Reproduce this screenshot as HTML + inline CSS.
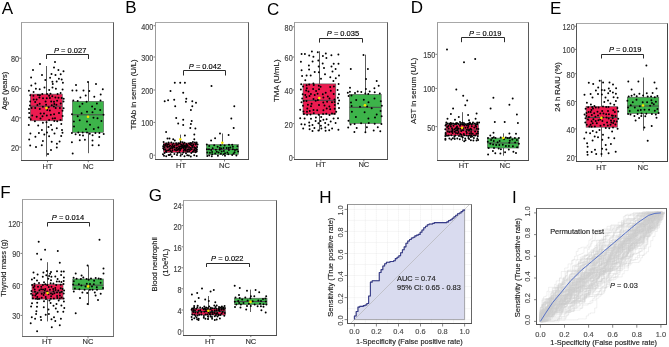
<!DOCTYPE html>
<html><head><meta charset="utf-8"><style>html,body{margin:0;padding:0;background:#fff;width:669px;height:347px;overflow:hidden}svg{display:block;will-change:transform}</style></head>
<body><svg width="669" height="347" viewBox="0 0 669 347" font-family='"Liberation Sans", sans-serif'>
<rect width="669" height="347" fill="#fff"/>
<text x="1.8" y="14.0" font-size="17" fill="#000">A</text>
<text x="6.6" y="91.0" font-size="7.4" text-anchor="middle" fill="#1a1a1a" stroke="#1a1a1a" stroke-width="0.15" transform="rotate(-90 6.6 91.0)">Age (years)</text>
<line x1="19.2" y1="58.2" x2="21.0" y2="58.2" stroke="#444" stroke-width="0.7"/>
<text transform="translate(19.1 62.2) scale(0.96 1.14)" font-size="7.6" text-anchor="end" fill="#454545" stroke="#454545" stroke-width="0.15">80</text>
<line x1="19.2" y1="88.4" x2="21.0" y2="88.4" stroke="#444" stroke-width="0.7"/>
<text transform="translate(19.1 92.4) scale(0.96 1.14)" font-size="7.6" text-anchor="end" fill="#454545" stroke="#454545" stroke-width="0.15">60</text>
<line x1="19.2" y1="117.8" x2="21.0" y2="117.8" stroke="#444" stroke-width="0.7"/>
<text transform="translate(19.1 121.8) scale(0.96 1.14)" font-size="7.6" text-anchor="end" fill="#454545" stroke="#454545" stroke-width="0.15">40</text>
<line x1="19.2" y1="147.1" x2="21.0" y2="147.1" stroke="#444" stroke-width="0.7"/>
<text transform="translate(19.1 151.1) scale(0.96 1.14)" font-size="7.6" text-anchor="end" fill="#454545" stroke="#454545" stroke-width="0.15">20</text>
<line x1="46.5" y1="66.0" x2="46.5" y2="156.5" stroke="#4a4a4a" stroke-width="0.9"/>
<rect x="30.3" y="94.1" width="32.0" height="26.7" fill="#ec1b50" stroke="#555" stroke-width="0.6"/>
<line x1="30.3" y1="106.2" x2="62.3" y2="106.2" stroke="#4a4a4a" stroke-width="1.0"/>
<g fill="#000"><circle cx="33.0" cy="70.0" r="0.98"/><circle cx="40.0" cy="64.0" r="0.98"/><circle cx="55.0" cy="62.0" r="0.98"/><circle cx="51.0" cy="150.0" r="0.98"/><circle cx="36.0" cy="147.0" r="0.98"/><circle cx="48.0" cy="154.0" r="0.98"/><circle cx="57.6" cy="94.1" r="0.98"/><circle cx="30.2" cy="101.5" r="0.98"/><circle cx="46.8" cy="115.4" r="0.98"/><circle cx="28.8" cy="124.9" r="0.98"/><circle cx="42.3" cy="94.0" r="0.98"/><circle cx="51.2" cy="101.4" r="0.98"/><circle cx="60.5" cy="120.0" r="0.98"/><circle cx="41.9" cy="130.1" r="0.98"/><circle cx="52.8" cy="84.1" r="0.98"/><circle cx="60.7" cy="103.4" r="0.98"/><circle cx="36.7" cy="116.8" r="0.98"/><circle cx="49.1" cy="136.3" r="0.98"/><circle cx="62.9" cy="82.8" r="0.98"/><circle cx="45.6" cy="101.4" r="0.98"/><circle cx="62.5" cy="110.7" r="0.98"/><circle cx="56.9" cy="143.7" r="0.98"/><circle cx="35.4" cy="83.5" r="0.98"/><circle cx="39.7" cy="103.7" r="0.98"/><circle cx="55.7" cy="108.1" r="0.98"/><circle cx="62.0" cy="130.0" r="0.98"/><circle cx="42.0" cy="75.1" r="0.98"/><circle cx="33.4" cy="95.7" r="0.98"/><circle cx="31.6" cy="108.1" r="0.98"/><circle cx="35.4" cy="136.8" r="0.98"/><circle cx="58.4" cy="70.0" r="0.98"/><circle cx="35.2" cy="101.9" r="0.98"/><circle cx="54.1" cy="114.2" r="0.98"/><circle cx="34.9" cy="121.3" r="0.98"/><circle cx="31.1" cy="77.6" r="0.98"/><circle cx="52.3" cy="96.3" r="0.98"/><circle cx="47.2" cy="110.1" r="0.98"/><circle cx="46.5" cy="122.2" r="0.98"/><circle cx="55.5" cy="75.1" r="0.98"/><circle cx="61.7" cy="98.1" r="0.98"/><circle cx="40.5" cy="118.4" r="0.98"/><circle cx="54.3" cy="121.0" r="0.98"/><circle cx="31.3" cy="85.4" r="0.98"/><circle cx="57.1" cy="100.8" r="0.98"/><circle cx="40.6" cy="113.6" r="0.98"/><circle cx="52.1" cy="129.8" r="0.98"/><circle cx="49.2" cy="90.0" r="0.98"/><circle cx="46.1" cy="104.8" r="0.98"/><circle cx="39.8" cy="109.1" r="0.98"/><circle cx="51.1" cy="125.1" r="0.98"/><circle cx="55.9" cy="88.8" r="0.98"/><circle cx="51.8" cy="105.3" r="0.98"/><circle cx="29.2" cy="113.1" r="0.98"/><circle cx="30.4" cy="133.4" r="0.98"/><circle cx="63.5" cy="71.2" r="0.98"/><circle cx="46.8" cy="98.2" r="0.98"/><circle cx="35.2" cy="108.1" r="0.98"/><circle cx="42.9" cy="140.9" r="0.98"/><circle cx="50.1" cy="77.8" r="0.98"/><circle cx="55.4" cy="97.6" r="0.98"/><circle cx="59.0" cy="113.1" r="0.98"/><circle cx="61.2" cy="136.1" r="0.98"/><circle cx="47.1" cy="94.1" r="0.98"/><circle cx="38.0" cy="95.0" r="0.98"/><circle cx="49.1" cy="120.1" r="0.98"/><circle cx="38.2" cy="125.6" r="0.98"/><circle cx="60.7" cy="74.2" r="0.98"/><circle cx="33.7" cy="99.4" r="0.98"/><circle cx="29.1" cy="117.6" r="0.98"/><circle cx="42.9" cy="122.8" r="0.98"/><circle cx="33.6" cy="92.1" r="0.98"/><circle cx="29.9" cy="105.4" r="0.98"/><circle cx="48.7" cy="107.2" r="0.98"/><circle cx="41.8" cy="145.3" r="0.98"/><circle cx="44.5" cy="87.6" r="0.98"/><circle cx="39.4" cy="97.5" r="0.98"/><circle cx="42.9" cy="106.7" r="0.98"/><circle cx="30.2" cy="145.5" r="0.98"/><circle cx="28.9" cy="90.8" r="0.98"/><circle cx="39.9" cy="95.2" r="0.98"/><circle cx="32.2" cy="115.4" r="0.98"/><circle cx="47.0" cy="132.5" r="0.98"/><circle cx="39.7" cy="89.3" r="0.98"/><circle cx="30.3" cy="95.3" r="0.98"/><circle cx="44.0" cy="113.6" r="0.98"/><circle cx="29.2" cy="139.4" r="0.98"/><circle cx="60.6" cy="93.1" r="0.98"/><circle cx="49.9" cy="98.1" r="0.98"/><circle cx="62.6" cy="116.0" r="0.98"/><circle cx="59.6" cy="141.6" r="0.98"/><circle cx="35.9" cy="88.7" r="0.98"/><circle cx="37.4" cy="105.0" r="0.98"/><circle cx="63.6" cy="108.2" r="0.98"/><circle cx="57.2" cy="121.2" r="0.98"/><circle cx="54.0" cy="67.4" r="0.98"/><circle cx="54.0" cy="101.8" r="0.98"/><circle cx="49.9" cy="110.6" r="0.98"/><circle cx="51.7" cy="141.7" r="0.98"/><circle cx="58.9" cy="78.7" r="0.98"/><circle cx="56.4" cy="104.8" r="0.98"/><circle cx="50.8" cy="114.8" r="0.98"/><circle cx="38.9" cy="133.0" r="0.98"/><circle cx="45.3" cy="80.1" r="0.98"/><circle cx="58.5" cy="97.7" r="0.98"/><circle cx="59.9" cy="108.1" r="0.98"/><circle cx="61.3" cy="123.9" r="0.98"/><circle cx="62.6" cy="89.6" r="0.98"/><circle cx="63.7" cy="98.7" r="0.98"/><circle cx="29.0" cy="108.9" r="0.98"/><circle cx="54.5" cy="133.6" r="0.98"/><circle cx="61.7" cy="79.6" r="0.98"/><circle cx="63.5" cy="101.5" r="0.98"/><circle cx="42.5" cy="116.2" r="0.98"/><circle cx="62.5" cy="132.8" r="0.98"/><circle cx="56.7" cy="81.6" r="0.98"/><circle cx="36.6" cy="99.5" r="0.98"/><circle cx="30.7" cy="119.2" r="0.98"/><circle cx="48.5" cy="127.0" r="0.98"/><circle cx="50.5" cy="93.7" r="0.98"/><circle cx="49.1" cy="95.8" r="0.98"/><circle cx="55.0" cy="118.2" r="0.98"/><circle cx="44.3" cy="134.5" r="0.98"/><circle cx="52.4" cy="81.8" r="0.98"/><circle cx="54.3" cy="104.1" r="0.98"/><circle cx="52.7" cy="118.6" r="0.98"/><circle cx="56.8" cy="128.3" r="0.98"/><circle cx="51.5" cy="74.1" r="0.98"/><circle cx="43.0" cy="98.3" r="0.98"/><circle cx="53.9" cy="106.4" r="0.98"/><circle cx="56.8" cy="147.5" r="0.98"/><circle cx="52.5" cy="87.4" r="0.98"/></g>
<circle cx="46.4" cy="108.1" r="1.3" fill="#f5e800"/>
<line x1="88.5" y1="81.8" x2="88.5" y2="153.2" stroke="#4a4a4a" stroke-width="0.9"/>
<rect x="72.3" y="101.3" width="31.3" height="31.0" fill="#3db44a" stroke="#555" stroke-width="0.6"/>
<line x1="72.3" y1="114.8" x2="103.6" y2="114.8" stroke="#4a4a4a" stroke-width="1.0"/>
<g fill="#000"><circle cx="72.7" cy="153.6" r="0.98"/><circle cx="71.9" cy="142.2" r="0.98"/><circle cx="79.8" cy="140.3" r="0.98"/><circle cx="84.9" cy="139.8" r="0.98"/><circle cx="92.5" cy="140.6" r="0.98"/><circle cx="92.5" cy="145.3" r="0.98"/><circle cx="98.8" cy="145.3" r="0.98"/><circle cx="99.3" cy="137.1" r="0.98"/><circle cx="76.0" cy="85.0" r="0.98"/><circle cx="96.0" cy="84.0" r="0.98"/><circle cx="88.0" cy="82.0" r="0.98"/><circle cx="77.7" cy="101.1" r="0.98"/><circle cx="100.2" cy="109.9" r="0.98"/><circle cx="74.0" cy="126.4" r="0.98"/><circle cx="78.3" cy="132.5" r="0.98"/><circle cx="89.3" cy="91.1" r="0.98"/><circle cx="81.6" cy="113.3" r="0.98"/><circle cx="87.0" cy="121.5" r="0.98"/><circle cx="71.9" cy="132.9" r="0.98"/><circle cx="100.5" cy="100.4" r="0.98"/><circle cx="92.1" cy="106.4" r="0.98"/><circle cx="93.8" cy="129.0" r="0.98"/><circle cx="87.0" cy="132.6" r="0.98"/><circle cx="94.3" cy="96.7" r="0.98"/><circle cx="86.6" cy="101.8" r="0.98"/><circle cx="93.5" cy="117.7" r="0.98"/><circle cx="99.4" cy="133.1" r="0.98"/><circle cx="73.3" cy="100.4" r="0.98"/><circle cx="87.0" cy="111.8" r="0.98"/><circle cx="79.7" cy="120.3" r="0.98"/><circle cx="103.7" cy="134.1" r="0.98"/><circle cx="102.8" cy="89.2" r="0.98"/><circle cx="72.0" cy="114.3" r="0.98"/><circle cx="101.4" cy="121.0" r="0.98"/><circle cx="83.0" cy="135.5" r="0.98"/><circle cx="76.5" cy="90.4" r="0.98"/><circle cx="79.7" cy="106.5" r="0.98"/><circle cx="98.3" cy="127.6" r="0.98"/><circle cx="95.4" cy="133.1" r="0.98"/><circle cx="83.5" cy="90.4" r="0.98"/><circle cx="103.5" cy="114.7" r="0.98"/><circle cx="86.0" cy="129.2" r="0.98"/><circle cx="82.7" cy="132.5" r="0.98"/><circle cx="85.7" cy="95.6" r="0.98"/><circle cx="92.5" cy="112.3" r="0.98"/><circle cx="90.0" cy="124.8" r="0.98"/><circle cx="79.8" cy="134.9" r="0.98"/><circle cx="100.7" cy="94.5" r="0.98"/><circle cx="96.9" cy="103.5" r="0.98"/><circle cx="73.9" cy="121.5" r="0.98"/><circle cx="92.6" cy="135.2" r="0.98"/><circle cx="72.4" cy="90.5" r="0.98"/><circle cx="94.9" cy="109.1" r="0.98"/><circle cx="97.5" cy="118.3" r="0.98"/><circle cx="89.8" cy="133.7" r="0.98"/><circle cx="80.4" cy="97.5" r="0.98"/><circle cx="82.4" cy="103.8" r="0.98"/><circle cx="77.7" cy="116.3" r="0.98"/><circle cx="75.6" cy="134.2" r="0.98"/></g>
<circle cx="88.0" cy="116.7" r="1.3" fill="#f5e800"/>
<path d="M21.0 22.5H114.0" stroke="#a8a8a8" stroke-width="1"/>
<path d="M21.5 22.5V160.5" stroke="#9c9c9c" stroke-width="1"/>
<path d="M113.5 22.5V161.0" stroke="#5a5a5a" stroke-width="1"/>
<path d="M21.0 160.5H114.0" stroke="#4a4a4a" stroke-width="1"/>
<line x1="47.5" y1="160.5" x2="47.5" y2="162.3" stroke="#444" stroke-width="0.7"/>
<text x="47.5" y="168.9" font-size="7.5" text-anchor="middle" fill="#333" stroke="#333" stroke-width="0.15">HT</text>
<line x1="88.3" y1="160.5" x2="88.3" y2="162.3" stroke="#444" stroke-width="0.7"/>
<text x="88.3" y="168.9" font-size="7.5" text-anchor="middle" fill="#333" stroke="#333" stroke-width="0.15">NC</text>
<path d="M46.5 59.0V54.5H88.5V59.0" fill="none" stroke="#2a2a2a" stroke-width="1"/>
<text x="54.0" y="53.3" font-size="7.5" fill="#000" stroke="#000" stroke-width="0.15"><tspan font-style="italic">P</tspan> = 0.027</text>
<text x="125.3" y="13.0" font-size="17" fill="#000">B</text>
<text x="135.8" y="94.4" font-size="7.65" text-anchor="middle" fill="#1a1a1a" stroke="#1a1a1a" stroke-width="0.15" transform="rotate(-90 135.8 94.4)">TRAb in serum (U/L)</text>
<line x1="153.5" y1="25.7" x2="155.3" y2="25.7" stroke="#444" stroke-width="0.7"/>
<text transform="translate(153.4 29.7) scale(0.96 1.14)" font-size="7.6" text-anchor="end" fill="#454545" stroke="#454545" stroke-width="0.15">400</text>
<line x1="153.5" y1="57.0" x2="155.3" y2="57.0" stroke="#444" stroke-width="0.7"/>
<text transform="translate(153.4 61.0) scale(0.96 1.14)" font-size="7.6" text-anchor="end" fill="#454545" stroke="#454545" stroke-width="0.15">300</text>
<line x1="153.5" y1="90.0" x2="155.3" y2="90.0" stroke="#444" stroke-width="0.7"/>
<text transform="translate(153.4 94.0) scale(0.96 1.14)" font-size="7.6" text-anchor="end" fill="#454545" stroke="#454545" stroke-width="0.15">200</text>
<line x1="153.5" y1="122.4" x2="155.3" y2="122.4" stroke="#444" stroke-width="0.7"/>
<text transform="translate(153.4 126.4) scale(0.96 1.14)" font-size="7.6" text-anchor="end" fill="#454545" stroke="#454545" stroke-width="0.15">100</text>
<line x1="153.5" y1="155.2" x2="155.3" y2="155.2" stroke="#444" stroke-width="0.7"/>
<text transform="translate(153.4 159.2) scale(0.96 1.14)" font-size="7.6" text-anchor="end" fill="#454545" stroke="#454545" stroke-width="0.15">0</text>
<line x1="180.5" y1="134.6" x2="180.5" y2="156.0" stroke="#4a4a4a" stroke-width="0.9"/>
<rect x="163.7" y="143.0" width="33.3" height="9.5" fill="#ec1b50" stroke="#555" stroke-width="0.6"/>
<line x1="163.7" y1="148.0" x2="197.0" y2="148.0" stroke="#4a4a4a" stroke-width="1.0"/>
<g fill="#000"><circle cx="174.8" cy="82.7" r="0.98"/><circle cx="180.2" cy="82.7" r="0.98"/><circle cx="184.9" cy="82.7" r="0.98"/><circle cx="170.5" cy="91.1" r="0.98"/><circle cx="183.2" cy="92.8" r="0.98"/><circle cx="164.7" cy="101.2" r="0.98"/><circle cx="168.1" cy="100.2" r="0.98"/><circle cx="174.2" cy="99.8" r="0.98"/><circle cx="186.3" cy="98.8" r="0.98"/><circle cx="185.9" cy="101.8" r="0.98"/><circle cx="192.3" cy="101.2" r="0.98"/><circle cx="196.0" cy="102.8" r="0.98"/><circle cx="175.2" cy="106.3" r="0.98"/><circle cx="192.3" cy="106.3" r="0.98"/><circle cx="190.9" cy="109.9" r="0.98"/><circle cx="176.2" cy="118.0" r="0.98"/><circle cx="183.2" cy="119.8" r="0.98"/><circle cx="191.7" cy="121.0" r="0.98"/><circle cx="178.2" cy="123.4" r="0.98"/><circle cx="183.2" cy="125.0" r="0.98"/><circle cx="190.9" cy="124.0" r="0.98"/><circle cx="190.3" cy="128.1" r="0.98"/><circle cx="195.4" cy="128.5" r="0.98"/><circle cx="166.1" cy="132.1" r="0.98"/><circle cx="194.3" cy="134.5" r="0.98"/><circle cx="184.9" cy="135.5" r="0.98"/><circle cx="167.5" cy="138.6" r="0.98"/><circle cx="169.5" cy="138.6" r="0.98"/><circle cx="173.2" cy="139.2" r="0.98"/><circle cx="174.8" cy="140.6" r="0.98"/><circle cx="194.3" cy="139.2" r="0.98"/><circle cx="181.1" cy="144.8" r="0.98"/><circle cx="164.4" cy="147.3" r="0.98"/><circle cx="196.9" cy="149.5" r="0.98"/><circle cx="174.4" cy="154.1" r="0.98"/><circle cx="189.0" cy="143.4" r="0.98"/><circle cx="171.9" cy="146.7" r="0.98"/><circle cx="185.9" cy="150.7" r="0.98"/><circle cx="190.8" cy="156.4" r="0.98"/><circle cx="195.6" cy="144.6" r="0.98"/><circle cx="192.2" cy="147.1" r="0.98"/><circle cx="172.5" cy="150.3" r="0.98"/><circle cx="164.6" cy="153.1" r="0.98"/><circle cx="180.7" cy="142.1" r="0.98"/><circle cx="177.0" cy="147.4" r="0.98"/><circle cx="180.0" cy="150.2" r="0.98"/><circle cx="192.8" cy="151.7" r="0.98"/><circle cx="163.6" cy="142.1" r="0.98"/><circle cx="182.4" cy="147.3" r="0.98"/><circle cx="176.1" cy="150.6" r="0.98"/><circle cx="180.6" cy="155.8" r="0.98"/><circle cx="167.6" cy="144.4" r="0.98"/><circle cx="185.6" cy="145.9" r="0.98"/><circle cx="190.1" cy="150.1" r="0.98"/><circle cx="170.6" cy="154.3" r="0.98"/><circle cx="178.5" cy="143.2" r="0.98"/><circle cx="189.0" cy="147.0" r="0.98"/><circle cx="185.7" cy="148.9" r="0.98"/><circle cx="194.2" cy="155.2" r="0.98"/><circle cx="193.4" cy="144.6" r="0.98"/><circle cx="167.6" cy="146.9" r="0.98"/><circle cx="167.0" cy="150.4" r="0.98"/><circle cx="177.0" cy="155.1" r="0.98"/><circle cx="163.9" cy="144.8" r="0.98"/><circle cx="174.6" cy="147.3" r="0.98"/><circle cx="163.9" cy="149.5" r="0.98"/><circle cx="186.0" cy="153.2" r="0.98"/><circle cx="171.3" cy="142.5" r="0.98"/><circle cx="187.7" cy="145.3" r="0.98"/><circle cx="177.8" cy="149.9" r="0.98"/><circle cx="183.3" cy="152.6" r="0.98"/><circle cx="184.5" cy="142.7" r="0.98"/><circle cx="184.1" cy="145.5" r="0.98"/><circle cx="194.3" cy="149.7" r="0.98"/><circle cx="195.5" cy="152.2" r="0.98"/><circle cx="176.2" cy="145.0" r="0.98"/><circle cx="179.1" cy="146.6" r="0.98"/><circle cx="184.3" cy="149.4" r="0.98"/><circle cx="170.4" cy="151.0" r="0.98"/><circle cx="165.8" cy="144.6" r="0.98"/><circle cx="167.0" cy="145.9" r="0.98"/><circle cx="181.2" cy="148.6" r="0.98"/><circle cx="187.5" cy="151.6" r="0.98"/><circle cx="177.9" cy="144.8" r="0.98"/><circle cx="197.1" cy="147.1" r="0.98"/><circle cx="187.6" cy="149.7" r="0.98"/><circle cx="166.2" cy="156.2" r="0.98"/><circle cx="173.4" cy="143.6" r="0.98"/><circle cx="170.1" cy="145.7" r="0.98"/><circle cx="195.6" cy="150.5" r="0.98"/><circle cx="191.3" cy="153.1" r="0.98"/><circle cx="196.6" cy="142.4" r="0.98"/><circle cx="182.2" cy="145.3" r="0.98"/><circle cx="170.7" cy="148.3" r="0.98"/><circle cx="171.9" cy="156.5" r="0.98"/><circle cx="192.9" cy="142.1" r="0.98"/><circle cx="192.9" cy="145.7" r="0.98"/><circle cx="172.4" cy="148.1" r="0.98"/><circle cx="187.2" cy="155.2" r="0.98"/><circle cx="197.6" cy="144.5" r="0.98"/><circle cx="191.4" cy="145.3" r="0.98"/><circle cx="191.7" cy="149.3" r="0.98"/><circle cx="182.1" cy="154.3" r="0.98"/><circle cx="166.3" cy="143.6" r="0.98"/><circle cx="179.5" cy="148.0" r="0.98"/><circle cx="165.2" cy="149.6" r="0.98"/><circle cx="193.8" cy="151.1" r="0.98"/><circle cx="179.9" cy="143.5" r="0.98"/><circle cx="194.3" cy="147.2" r="0.98"/><circle cx="176.4" cy="148.7" r="0.98"/><circle cx="179.3" cy="152.2" r="0.98"/><circle cx="190.1" cy="144.5" r="0.98"/><circle cx="163.2" cy="146.3" r="0.98"/><circle cx="174.8" cy="149.7" r="0.98"/><circle cx="168.6" cy="154.9" r="0.98"/><circle cx="191.8" cy="143.3" r="0.98"/><circle cx="187.0" cy="146.1" r="0.98"/><circle cx="183.6" cy="148.0" r="0.98"/><circle cx="164.0" cy="155.7" r="0.98"/><circle cx="168.8" cy="144.2" r="0.98"/><circle cx="184.5" cy="146.8" r="0.98"/><circle cx="188.9" cy="149.2" r="0.98"/><circle cx="189.1" cy="151.3" r="0.98"/><circle cx="172.3" cy="144.9" r="0.98"/><circle cx="185.6" cy="147.6" r="0.98"/><circle cx="168.6" cy="150.3" r="0.98"/><circle cx="177.5" cy="152.9" r="0.98"/><circle cx="186.5" cy="144.8" r="0.98"/><circle cx="183.3" cy="146.5" r="0.98"/><circle cx="163.2" cy="148.2" r="0.98"/><circle cx="196.7" cy="151.2" r="0.98"/><circle cx="194.9" cy="142.5" r="0.98"/><circle cx="173.5" cy="146.8" r="0.98"/><circle cx="178.5" cy="149.0" r="0.98"/><circle cx="166.2" cy="152.1" r="0.98"/><circle cx="182.6" cy="142.3" r="0.98"/><circle cx="190.5" cy="147.9" r="0.98"/><circle cx="183.8" cy="150.7" r="0.98"/><circle cx="188.9" cy="155.6" r="0.98"/><circle cx="190.5" cy="143.0" r="0.98"/><circle cx="180.8" cy="146.6" r="0.98"/><circle cx="195.9" cy="148.4" r="0.98"/><circle cx="196.7" cy="156.1" r="0.98"/><circle cx="176.2" cy="143.2" r="0.98"/><circle cx="186.9" cy="147.1" r="0.98"/><circle cx="195.1" cy="148.1" r="0.98"/><circle cx="163.0" cy="154.3" r="0.98"/><circle cx="183.5" cy="144.0" r="0.98"/><circle cx="181.7" cy="146.6" r="0.98"/><circle cx="166.0" cy="151.0" r="0.98"/><circle cx="169.7" cy="155.0" r="0.98"/><circle cx="168.6" cy="142.5" r="0.98"/><circle cx="174.3" cy="145.4" r="0.98"/><circle cx="180.0" cy="149.0" r="0.98"/><circle cx="171.8" cy="152.1" r="0.98"/><circle cx="196.3" cy="143.6" r="0.98"/><circle cx="165.1" cy="145.8" r="0.98"/><circle cx="169.7" cy="149.2" r="0.98"/><circle cx="184.5" cy="156.2" r="0.98"/><circle cx="186.4" cy="144.0" r="0.98"/><circle cx="169.1" cy="146.5" r="0.98"/></g>
<circle cx="180.3" cy="139.3" r="1.3" fill="#f5e800"/>
<line x1="222.5" y1="133.5" x2="222.5" y2="156.0" stroke="#4a4a4a" stroke-width="0.9"/>
<rect x="206.5" y="144.6" width="31.8" height="9.9" fill="#3db44a" stroke="#555" stroke-width="0.6"/>
<line x1="206.5" y1="149.5" x2="238.3" y2="149.5" stroke="#4a4a4a" stroke-width="1.0"/>
<g fill="#000"><circle cx="211.5" cy="86.1" r="0.98"/><circle cx="234.3" cy="106.3" r="0.98"/><circle cx="231.3" cy="118.4" r="0.98"/><circle cx="233.7" cy="127.9" r="0.98"/><circle cx="220.0" cy="133.5" r="0.98"/><circle cx="228.6" cy="135.1" r="0.98"/><circle cx="215.1" cy="138.2" r="0.98"/><circle cx="211.1" cy="140.6" r="0.98"/><circle cx="226.6" cy="147.9" r="0.98"/><circle cx="215.9" cy="149.7" r="0.98"/><circle cx="207.3" cy="152.4" r="0.98"/><circle cx="232.2" cy="155.1" r="0.98"/><circle cx="237.4" cy="146.2" r="0.98"/><circle cx="232.9" cy="149.3" r="0.98"/><circle cx="227.4" cy="152.6" r="0.98"/><circle cx="220.9" cy="153.8" r="0.98"/><circle cx="209.2" cy="146.0" r="0.98"/><circle cx="219.8" cy="149.7" r="0.98"/><circle cx="238.1" cy="151.4" r="0.98"/><circle cx="211.8" cy="156.2" r="0.98"/><circle cx="229.0" cy="144.8" r="0.98"/><circle cx="209.0" cy="149.3" r="0.98"/><circle cx="212.1" cy="151.9" r="0.98"/><circle cx="212.2" cy="154.2" r="0.98"/><circle cx="214.2" cy="145.2" r="0.98"/><circle cx="237.0" cy="149.6" r="0.98"/><circle cx="223.9" cy="151.1" r="0.98"/><circle cx="225.0" cy="155.7" r="0.98"/><circle cx="223.6" cy="148.0" r="0.98"/><circle cx="212.7" cy="148.2" r="0.98"/><circle cx="234.6" cy="152.2" r="0.98"/><circle cx="236.4" cy="155.4" r="0.98"/><circle cx="217.6" cy="146.7" r="0.98"/><circle cx="228.9" cy="150.0" r="0.98"/><circle cx="215.2" cy="153.5" r="0.98"/><circle cx="209.2" cy="155.5" r="0.98"/><circle cx="224.6" cy="145.6" r="0.98"/><circle cx="211.2" cy="150.0" r="0.98"/><circle cx="216.8" cy="151.8" r="0.98"/><circle cx="217.9" cy="155.8" r="0.98"/><circle cx="232.9" cy="146.7" r="0.98"/><circle cx="221.3" cy="148.4" r="0.98"/><circle cx="225.0" cy="153.3" r="0.98"/><circle cx="228.3" cy="154.2" r="0.98"/><circle cx="220.6" cy="145.3" r="0.98"/><circle cx="228.7" cy="148.1" r="0.98"/><circle cx="209.9" cy="152.8" r="0.98"/><circle cx="207.3" cy="156.0" r="0.98"/><circle cx="230.3" cy="147.6" r="0.98"/><circle cx="235.0" cy="150.1" r="0.98"/><circle cx="218.6" cy="152.5" r="0.98"/><circle cx="233.6" cy="153.6" r="0.98"/><circle cx="232.2" cy="144.8" r="0.98"/><circle cx="219.8" cy="148.1" r="0.98"/><circle cx="221.7" cy="151.4" r="0.98"/><circle cx="223.8" cy="154.3" r="0.98"/><circle cx="206.8" cy="144.4" r="0.98"/><circle cx="206.9" cy="149.2" r="0.98"/></g>
<circle cx="222.3" cy="142.7" r="1.3" fill="#f5e800"/>
<path d="M155.0 22.5H249.0" stroke="#a8a8a8" stroke-width="1"/>
<path d="M155.5 22.5V159.5" stroke="#9c9c9c" stroke-width="1"/>
<path d="M248.5 22.5V160.0" stroke="#5a5a5a" stroke-width="1"/>
<path d="M155.0 159.5H249.0" stroke="#4a4a4a" stroke-width="1"/>
<line x1="181.0" y1="159.7" x2="181.0" y2="161.5" stroke="#444" stroke-width="0.7"/>
<text x="181.0" y="167.5" font-size="7.5" text-anchor="middle" fill="#333" stroke="#333" stroke-width="0.15">HT</text>
<line x1="224.5" y1="159.7" x2="224.5" y2="161.5" stroke="#444" stroke-width="0.7"/>
<text x="224.5" y="167.5" font-size="7.5" text-anchor="middle" fill="#333" stroke="#333" stroke-width="0.15">NC</text>
<path d="M183.5 75.5V70.5H225.5V75.5" fill="none" stroke="#2a2a2a" stroke-width="1"/>
<text x="188.8" y="69.0" font-size="7.5" fill="#000" stroke="#000" stroke-width="0.15"><tspan font-style="italic">P</tspan> = 0.042</text>
<text x="267.1" y="15.0" font-size="17" fill="#000">C</text>
<text x="279.0" y="80.7" font-size="7.9" text-anchor="middle" fill="#1a1a1a" stroke="#1a1a1a" stroke-width="0.15" transform="rotate(-90 279.0 80.7)">TMA (U/mL)</text>
<line x1="292.8" y1="26.8" x2="294.6" y2="26.8" stroke="#444" stroke-width="0.7"/>
<text transform="translate(292.7 30.8) scale(0.96 1.14)" font-size="7.6" text-anchor="end" fill="#454545" stroke="#454545" stroke-width="0.15">80</text>
<line x1="292.8" y1="57.0" x2="294.6" y2="57.0" stroke="#444" stroke-width="0.7"/>
<text transform="translate(292.7 61.0) scale(0.96 1.14)" font-size="7.6" text-anchor="end" fill="#454545" stroke="#454545" stroke-width="0.15">60</text>
<line x1="292.8" y1="90.0" x2="294.6" y2="90.0" stroke="#444" stroke-width="0.7"/>
<text transform="translate(292.7 94.0) scale(0.96 1.14)" font-size="7.6" text-anchor="end" fill="#454545" stroke="#454545" stroke-width="0.15">40</text>
<line x1="292.8" y1="123.6" x2="294.6" y2="123.6" stroke="#444" stroke-width="0.7"/>
<text transform="translate(292.7 127.6) scale(0.96 1.14)" font-size="7.6" text-anchor="end" fill="#454545" stroke="#454545" stroke-width="0.15">20</text>
<line x1="292.8" y1="157.4" x2="294.6" y2="157.4" stroke="#444" stroke-width="0.7"/>
<text transform="translate(292.7 161.4) scale(0.96 1.14)" font-size="7.6" text-anchor="end" fill="#454545" stroke="#454545" stroke-width="0.15">0</text>
<line x1="319.5" y1="51.2" x2="319.5" y2="131.2" stroke="#4a4a4a" stroke-width="0.9"/>
<rect x="303.0" y="83.9" width="32.8" height="30.3" fill="#ec1b50" stroke="#555" stroke-width="0.6"/>
<line x1="303.0" y1="100.3" x2="335.8" y2="100.3" stroke="#4a4a4a" stroke-width="1.0"/>
<g fill="#000"><circle cx="335.6" cy="68.9" r="0.98"/><circle cx="302.2" cy="98.6" r="0.98"/><circle cx="334.7" cy="108.7" r="0.98"/><circle cx="309.6" cy="129.3" r="0.98"/><circle cx="300.9" cy="61.8" r="0.98"/><circle cx="320.6" cy="86.7" r="0.98"/><circle cx="319.0" cy="105.0" r="0.98"/><circle cx="304.6" cy="118.4" r="0.98"/><circle cx="318.3" cy="60.4" r="0.98"/><circle cx="338.6" cy="83.9" r="0.98"/><circle cx="309.8" cy="111.0" r="0.98"/><circle cx="332.1" cy="128.5" r="0.98"/><circle cx="310.7" cy="75.4" r="0.98"/><circle cx="301.2" cy="84.2" r="0.98"/><circle cx="326.7" cy="108.6" r="0.98"/><circle cx="318.7" cy="114.8" r="0.98"/><circle cx="331.4" cy="55.3" r="0.98"/><circle cx="313.5" cy="99.1" r="0.98"/><circle cx="303.0" cy="105.8" r="0.98"/><circle cx="333.6" cy="118.6" r="0.98"/><circle cx="321.0" cy="78.7" r="0.98"/><circle cx="337.9" cy="97.8" r="0.98"/><circle cx="311.0" cy="106.3" r="0.98"/><circle cx="325.2" cy="123.0" r="0.98"/><circle cx="309.2" cy="55.6" r="0.98"/><circle cx="313.1" cy="89.1" r="0.98"/><circle cx="327.1" cy="101.7" r="0.98"/><circle cx="321.4" cy="128.4" r="0.98"/><circle cx="314.7" cy="72.0" r="0.98"/><circle cx="309.5" cy="96.1" r="0.98"/><circle cx="334.4" cy="113.7" r="0.98"/><circle cx="338.4" cy="129.8" r="0.98"/><circle cx="330.3" cy="77.2" r="0.98"/><circle cx="322.8" cy="94.2" r="0.98"/><circle cx="306.5" cy="101.0" r="0.98"/><circle cx="303.2" cy="128.6" r="0.98"/><circle cx="324.0" cy="67.9" r="0.98"/><circle cx="330.2" cy="86.9" r="0.98"/><circle cx="303.5" cy="111.6" r="0.98"/><circle cx="320.5" cy="120.9" r="0.98"/><circle cx="338.5" cy="63.7" r="0.98"/><circle cx="300.9" cy="89.6" r="0.98"/><circle cx="332.0" cy="102.2" r="0.98"/><circle cx="328.4" cy="124.7" r="0.98"/><circle cx="308.9" cy="65.5" r="0.98"/><circle cx="333.9" cy="86.4" r="0.98"/><circle cx="313.5" cy="110.1" r="0.98"/><circle cx="326.6" cy="119.3" r="0.98"/><circle cx="338.4" cy="54.5" r="0.98"/><circle cx="306.6" cy="85.2" r="0.98"/><circle cx="338.1" cy="103.6" r="0.98"/><circle cx="300.2" cy="118.2" r="0.98"/><circle cx="302.1" cy="76.1" r="0.98"/><circle cx="314.7" cy="94.9" r="0.98"/><circle cx="317.2" cy="110.3" r="0.98"/><circle cx="312.5" cy="125.1" r="0.98"/><circle cx="313.4" cy="83.5" r="0.98"/><circle cx="329.5" cy="98.6" r="0.98"/><circle cx="330.2" cy="109.2" r="0.98"/><circle cx="321.2" cy="117.0" r="0.98"/><circle cx="326.4" cy="58.0" r="0.98"/><circle cx="338.9" cy="94.2" r="0.98"/><circle cx="301.5" cy="102.2" r="0.98"/><circle cx="335.6" cy="122.9" r="0.98"/><circle cx="318.7" cy="66.5" r="0.98"/><circle cx="317.9" cy="99.9" r="0.98"/><circle cx="334.8" cy="105.0" r="0.98"/><circle cx="304.8" cy="124.4" r="0.98"/><circle cx="333.7" cy="63.8" r="0.98"/><circle cx="333.7" cy="94.0" r="0.98"/><circle cx="336.2" cy="111.8" r="0.98"/><circle cx="311.0" cy="118.7" r="0.98"/><circle cx="339.0" cy="75.4" r="0.98"/><circle cx="317.6" cy="93.8" r="0.98"/><circle cx="323.3" cy="102.6" r="0.98"/><circle cx="330.7" cy="121.6" r="0.98"/><circle cx="325.0" cy="74.2" r="0.98"/><circle cx="309.2" cy="84.6" r="0.98"/><circle cx="313.8" cy="113.2" r="0.98"/><circle cx="309.2" cy="122.6" r="0.98"/><circle cx="301.6" cy="54.0" r="0.98"/><circle cx="302.7" cy="94.3" r="0.98"/><circle cx="339.1" cy="100.6" r="0.98"/><circle cx="329.5" cy="115.0" r="0.98"/><circle cx="311.9" cy="51.6" r="0.98"/><circle cx="323.4" cy="97.6" r="0.98"/><circle cx="323.4" cy="110.2" r="0.98"/><circle cx="325.3" cy="127.6" r="0.98"/><circle cx="312.6" cy="61.4" r="0.98"/><circle cx="306.8" cy="88.3" r="0.98"/><circle cx="326.3" cy="113.7" r="0.98"/><circle cx="315.6" cy="121.1" r="0.98"/><circle cx="313.4" cy="56.7" r="0.98"/><circle cx="337.6" cy="89.9" r="0.98"/><circle cx="311.6" cy="103.8" r="0.98"/><circle cx="338.0" cy="118.3" r="0.98"/><circle cx="305.3" cy="80.2" r="0.98"/><circle cx="334.5" cy="99.5" r="0.98"/><circle cx="307.9" cy="104.7" r="0.98"/><circle cx="329.2" cy="130.2" r="0.98"/><circle cx="301.6" cy="70.3" r="0.98"/><circle cx="330.8" cy="90.7" r="0.98"/><circle cx="315.7" cy="100.7" r="0.98"/><circle cx="318.4" cy="130.6" r="0.98"/><circle cx="322.7" cy="63.5" r="0.98"/><circle cx="319.0" cy="89.3" r="0.98"/><circle cx="303.7" cy="101.0" r="0.98"/><circle cx="307.1" cy="114.8" r="0.98"/><circle cx="306.6" cy="75.6" r="0.98"/><circle cx="306.4" cy="96.9" r="0.98"/><circle cx="323.1" cy="114.0" r="0.98"/><circle cx="315.9" cy="117.6" r="0.98"/><circle cx="332.5" cy="71.6" r="0.98"/><circle cx="303.1" cy="86.5" r="0.98"/><circle cx="307.3" cy="108.5" r="0.98"/><circle cx="314.4" cy="127.9" r="0.98"/><circle cx="333.4" cy="80.9" r="0.98"/><circle cx="316.1" cy="90.9" r="0.98"/><circle cx="339.0" cy="108.0" r="0.98"/><circle cx="320.9" cy="125.7" r="0.98"/><circle cx="331.5" cy="66.4" r="0.98"/><circle cx="308.5" cy="91.4" r="0.98"/><circle cx="307.0" cy="111.8" r="0.98"/><circle cx="301.4" cy="124.2" r="0.98"/><circle cx="325.8" cy="53.6" r="0.98"/><circle cx="306.2" cy="90.6" r="0.98"/><circle cx="334.6" cy="102.1" r="0.98"/><circle cx="310.5" cy="114.5" r="0.98"/><circle cx="335.8" cy="78.2" r="0.98"/><circle cx="327.8" cy="96.4" r="0.98"/><circle cx="324.5" cy="105.4" r="0.98"/><circle cx="318.4" cy="123.3" r="0.98"/><circle cx="317.8" cy="52.3" r="0.98"/><circle cx="305.3" cy="95.0" r="0.98"/><circle cx="303.9" cy="114.1" r="0.98"/><circle cx="309.4" cy="125.8" r="0.98"/><circle cx="309.1" cy="69.5" r="0.98"/><circle cx="325.7" cy="92.8" r="0.98"/><circle cx="332.0" cy="113.6" r="0.98"/><circle cx="323.4" cy="119.7" r="0.98"/><circle cx="318.9" cy="72.3" r="0.98"/><circle cx="313.8" cy="85.0" r="0.98"/><circle cx="300.2" cy="109.7" r="0.98"/><circle cx="325.6" cy="130.8" r="0.98"/><circle cx="304.9" cy="54.0" r="0.98"/><circle cx="310.9" cy="93.9" r="0.98"/><circle cx="329.4" cy="106.4" r="0.98"/><circle cx="312.5" cy="131.0" r="0.98"/><circle cx="322.9" cy="56.1" r="0.98"/><circle cx="318.8" cy="85.7" r="0.98"/></g>
<circle cx="319.3" cy="98.0" r="1.3" fill="#f5e800"/>
<line x1="365.5" y1="54.7" x2="365.5" y2="132.7" stroke="#4a4a4a" stroke-width="0.9"/>
<rect x="349.5" y="94.3" width="31.7" height="29.1" fill="#3db44a" stroke="#555" stroke-width="0.6"/>
<line x1="349.5" y1="107.3" x2="381.2" y2="107.3" stroke="#4a4a4a" stroke-width="1.0"/>
<g fill="#000"><circle cx="363.5" cy="55.0" r="0.98"/><circle cx="350.8" cy="69.0" r="0.98"/><circle cx="367.9" cy="69.0" r="0.98"/><circle cx="366.0" cy="79.0" r="0.98"/><circle cx="376.7" cy="81.0" r="0.98"/><circle cx="378.7" cy="85.7" r="0.98"/><circle cx="350.0" cy="87.7" r="0.98"/><circle cx="369.7" cy="91.5" r="0.98"/><circle cx="381.8" cy="105.7" r="0.98"/><circle cx="355.9" cy="117.1" r="0.98"/><circle cx="374.7" cy="123.8" r="0.98"/><circle cx="357.7" cy="91.4" r="0.98"/><circle cx="351.6" cy="106.1" r="0.98"/><circle cx="364.6" cy="112.2" r="0.98"/><circle cx="354.4" cy="131.9" r="0.98"/><circle cx="379.8" cy="93.4" r="0.98"/><circle cx="363.8" cy="99.7" r="0.98"/><circle cx="371.7" cy="108.2" r="0.98"/><circle cx="366.9" cy="127.3" r="0.98"/><circle cx="374.4" cy="88.2" r="0.98"/><circle cx="351.5" cy="95.4" r="0.98"/><circle cx="368.4" cy="118.5" r="0.98"/><circle cx="381.4" cy="124.0" r="0.98"/><circle cx="365.9" cy="88.9" r="0.98"/><circle cx="360.0" cy="106.7" r="0.98"/><circle cx="351.9" cy="111.7" r="0.98"/><circle cx="350.6" cy="124.6" r="0.98"/><circle cx="374.7" cy="92.2" r="0.98"/><circle cx="356.2" cy="100.0" r="0.98"/><circle cx="375.0" cy="117.4" r="0.98"/><circle cx="348.2" cy="127.4" r="0.98"/><circle cx="361.3" cy="91.9" r="0.98"/><circle cx="374.5" cy="98.4" r="0.98"/><circle cx="361.1" cy="123.3" r="0.98"/><circle cx="354.6" cy="124.1" r="0.98"/><circle cx="347.8" cy="92.8" r="0.98"/><circle cx="368.5" cy="102.3" r="0.98"/><circle cx="380.6" cy="111.1" r="0.98"/><circle cx="365.4" cy="132.2" r="0.98"/><circle cx="355.0" cy="93.0" r="0.98"/><circle cx="348.6" cy="96.0" r="0.98"/><circle cx="376.7" cy="114.6" r="0.98"/><circle cx="373.7" cy="130.4" r="0.98"/><circle cx="365.3" cy="93.4" r="0.98"/><circle cx="351.0" cy="102.4" r="0.98"/><circle cx="368.8" cy="123.0" r="0.98"/><circle cx="356.7" cy="127.9" r="0.98"/><circle cx="349.9" cy="91.8" r="0.98"/><circle cx="367.2" cy="106.4" r="0.98"/><circle cx="348.5" cy="120.7" r="0.98"/><circle cx="380.3" cy="131.3" r="0.98"/><circle cx="368.3" cy="94.0" r="0.98"/><circle cx="380.8" cy="101.2" r="0.98"/><circle cx="381.6" cy="116.3" r="0.98"/><circle cx="377.8" cy="127.2" r="0.98"/></g>
<circle cx="365.0" cy="105.2" r="1.3" fill="#f5e800"/>
<path d="M294.0 22.5H388.0" stroke="#a8a8a8" stroke-width="1"/>
<path d="M294.5 22.5V159.5" stroke="#9c9c9c" stroke-width="1"/>
<path d="M387.5 22.5V160.0" stroke="#5a5a5a" stroke-width="1"/>
<path d="M294.0 159.5H388.0" stroke="#4a4a4a" stroke-width="1"/>
<line x1="320.8" y1="159.6" x2="320.8" y2="161.4" stroke="#444" stroke-width="0.7"/>
<text x="320.8" y="167.0" font-size="7.5" text-anchor="middle" fill="#333" stroke="#333" stroke-width="0.15">HT</text>
<line x1="363.8" y1="159.6" x2="363.8" y2="161.4" stroke="#444" stroke-width="0.7"/>
<text x="363.8" y="167.0" font-size="7.5" text-anchor="middle" fill="#333" stroke="#333" stroke-width="0.15">NC</text>
<path d="M319.5 42.6V38.5H362.5V42.6" fill="none" stroke="#2a2a2a" stroke-width="1"/>
<text x="326.8" y="36.1" font-size="7.5" fill="#000" stroke="#000" stroke-width="0.15"><tspan font-style="italic">P</tspan> = 0.035</text>
<text x="410.8" y="13.3" font-size="17" fill="#000">D</text>
<text x="415.8" y="90.8" font-size="7.75" text-anchor="middle" fill="#1a1a1a" stroke="#1a1a1a" stroke-width="0.15" transform="rotate(-90 415.8 90.8)">AST in serum (U/L)</text>
<line x1="435.4" y1="54.3" x2="437.2" y2="54.3" stroke="#444" stroke-width="0.7"/>
<text transform="translate(435.3 58.3) scale(0.96 1.14)" font-size="7.6" text-anchor="end" fill="#454545" stroke="#454545" stroke-width="0.15">150</text>
<line x1="435.4" y1="88.4" x2="437.2" y2="88.4" stroke="#444" stroke-width="0.7"/>
<text transform="translate(435.3 92.4) scale(0.96 1.14)" font-size="7.6" text-anchor="end" fill="#454545" stroke="#454545" stroke-width="0.15">100</text>
<line x1="435.4" y1="126.6" x2="437.2" y2="126.6" stroke="#444" stroke-width="0.7"/>
<text transform="translate(435.3 130.6) scale(0.96 1.14)" font-size="7.6" text-anchor="end" fill="#454545" stroke="#454545" stroke-width="0.15">50</text>
<line x1="462.5" y1="112.2" x2="462.5" y2="141.0" stroke="#4a4a4a" stroke-width="0.9"/>
<rect x="446.0" y="124.4" width="32.4" height="11.2" fill="#ec1b50" stroke="#555" stroke-width="0.6"/>
<line x1="446.0" y1="130.0" x2="478.4" y2="130.0" stroke="#4a4a4a" stroke-width="1.0"/>
<g fill="#000"><circle cx="447.0" cy="49.4" r="0.98"/><circle cx="464.0" cy="62.3" r="0.98"/><circle cx="475.2" cy="59.0" r="0.98"/><circle cx="456.3" cy="89.6" r="0.98"/><circle cx="463.2" cy="95.7" r="0.98"/><circle cx="467.2" cy="100.5" r="0.98"/><circle cx="453.1" cy="108.4" r="0.98"/><circle cx="465.3" cy="105.3" r="0.98"/><circle cx="476.6" cy="113.5" r="0.98"/><circle cx="447.5" cy="118.8" r="0.98"/><circle cx="450.9" cy="114.1" r="0.98"/><circle cx="458.8" cy="116.9" r="0.98"/><circle cx="468.1" cy="115.0" r="0.98"/><circle cx="475.6" cy="118.8" r="0.98"/><circle cx="455.0" cy="119.7" r="0.98"/><circle cx="469.0" cy="120.3" r="0.98"/><circle cx="460.0" cy="122.0" r="0.98"/><circle cx="473.0" cy="122.5" r="0.98"/><circle cx="447.8" cy="123.5" r="0.98"/><circle cx="454.4" cy="129.3" r="0.98"/><circle cx="477.9" cy="131.7" r="0.98"/><circle cx="445.4" cy="139.8" r="0.98"/><circle cx="467.1" cy="123.9" r="0.98"/><circle cx="474.3" cy="127.5" r="0.98"/><circle cx="463.0" cy="130.2" r="0.98"/><circle cx="459.8" cy="139.3" r="0.98"/><circle cx="477.2" cy="124.3" r="0.98"/><circle cx="448.6" cy="128.6" r="0.98"/><circle cx="469.4" cy="133.5" r="0.98"/><circle cx="470.9" cy="140.2" r="0.98"/><circle cx="451.7" cy="123.5" r="0.98"/><circle cx="460.0" cy="125.7" r="0.98"/><circle cx="451.4" cy="135.2" r="0.98"/><circle cx="476.6" cy="140.6" r="0.98"/><circle cx="464.1" cy="123.3" r="0.98"/><circle cx="445.5" cy="125.6" r="0.98"/><circle cx="463.8" cy="134.1" r="0.98"/><circle cx="475.3" cy="135.6" r="0.98"/><circle cx="454.9" cy="124.1" r="0.98"/><circle cx="457.0" cy="126.4" r="0.98"/><circle cx="457.8" cy="133.6" r="0.98"/><circle cx="455.2" cy="135.6" r="0.98"/><circle cx="462.3" cy="124.4" r="0.98"/><circle cx="464.4" cy="125.6" r="0.98"/><circle cx="445.6" cy="132.9" r="0.98"/><circle cx="465.2" cy="138.5" r="0.98"/><circle cx="471.3" cy="124.3" r="0.98"/><circle cx="471.2" cy="129.7" r="0.98"/><circle cx="475.1" cy="131.4" r="0.98"/><circle cx="445.3" cy="135.9" r="0.98"/><circle cx="474.9" cy="123.4" r="0.98"/><circle cx="467.8" cy="127.7" r="0.98"/><circle cx="456.0" cy="133.1" r="0.98"/><circle cx="449.4" cy="138.4" r="0.98"/><circle cx="456.3" cy="123.2" r="0.98"/><circle cx="476.8" cy="128.8" r="0.98"/><circle cx="472.7" cy="133.7" r="0.98"/><circle cx="454.8" cy="139.1" r="0.98"/><circle cx="469.6" cy="122.6" r="0.98"/><circle cx="458.6" cy="128.6" r="0.98"/><circle cx="451.2" cy="131.8" r="0.98"/><circle cx="472.1" cy="136.4" r="0.98"/><circle cx="479.1" cy="122.6" r="0.98"/><circle cx="471.8" cy="126.3" r="0.98"/><circle cx="448.7" cy="135.6" r="0.98"/><circle cx="459.0" cy="135.9" r="0.98"/><circle cx="446.2" cy="124.3" r="0.98"/><circle cx="453.5" cy="125.7" r="0.98"/><circle cx="476.5" cy="133.7" r="0.98"/><circle cx="477.3" cy="138.4" r="0.98"/><circle cx="460.7" cy="124.2" r="0.98"/><circle cx="450.9" cy="126.4" r="0.98"/><circle cx="469.0" cy="130.8" r="0.98"/><circle cx="457.3" cy="138.5" r="0.98"/><circle cx="468.2" cy="123.7" r="0.98"/><circle cx="469.1" cy="129.6" r="0.98"/><circle cx="454.8" cy="131.7" r="0.98"/><circle cx="447.0" cy="135.7" r="0.98"/><circle cx="453.1" cy="123.5" r="0.98"/><circle cx="460.7" cy="128.8" r="0.98"/><circle cx="461.4" cy="134.7" r="0.98"/><circle cx="468.2" cy="135.9" r="0.98"/><circle cx="477.2" cy="122.6" r="0.98"/><circle cx="445.3" cy="129.2" r="0.98"/><circle cx="466.8" cy="132.9" r="0.98"/><circle cx="452.9" cy="138.3" r="0.98"/><circle cx="463.4" cy="124.4" r="0.98"/><circle cx="476.1" cy="126.8" r="0.98"/><circle cx="445.6" cy="134.2" r="0.98"/><circle cx="464.2" cy="141.3" r="0.98"/><circle cx="458.8" cy="124.1" r="0.98"/><circle cx="450.1" cy="124.8" r="0.98"/><circle cx="471.1" cy="131.9" r="0.98"/><circle cx="473.9" cy="138.1" r="0.98"/><circle cx="450.6" cy="122.9" r="0.98"/><circle cx="468.4" cy="125.9" r="0.98"/><circle cx="452.6" cy="133.0" r="0.98"/><circle cx="462.8" cy="137.3" r="0.98"/><circle cx="469.1" cy="124.3" r="0.98"/><circle cx="463.2" cy="128.3" r="0.98"/><circle cx="457.6" cy="130.3" r="0.98"/><circle cx="454.4" cy="136.7" r="0.98"/><circle cx="456.1" cy="124.1" r="0.98"/><circle cx="465.4" cy="127.7" r="0.98"/><circle cx="460.2" cy="134.0" r="0.98"/><circle cx="465.5" cy="140.2" r="0.98"/><circle cx="465.3" cy="124.3" r="0.98"/><circle cx="478.4" cy="129.1" r="0.98"/><circle cx="447.8" cy="131.5" r="0.98"/><circle cx="469.1" cy="139.1" r="0.98"/><circle cx="457.4" cy="123.2" r="0.98"/><circle cx="475.6" cy="125.5" r="0.98"/><circle cx="458.5" cy="132.1" r="0.98"/><circle cx="469.8" cy="135.6" r="0.98"/><circle cx="449.6" cy="123.8" r="0.98"/><circle cx="467.0" cy="129.8" r="0.98"/><circle cx="461.2" cy="131.0" r="0.98"/><circle cx="477.8" cy="136.2" r="0.98"/><circle cx="472.7" cy="123.7" r="0.98"/><circle cx="452.4" cy="129.9" r="0.98"/><circle cx="449.3" cy="132.0" r="0.98"/><circle cx="461.2" cy="136.5" r="0.98"/><circle cx="470.2" cy="123.3" r="0.98"/><circle cx="447.3" cy="127.0" r="0.98"/><circle cx="456.1" cy="130.6" r="0.98"/><circle cx="445.4" cy="138.7" r="0.98"/><circle cx="461.0" cy="123.1" r="0.98"/><circle cx="457.4" cy="129.1" r="0.98"/><circle cx="474.0" cy="135.4" r="0.98"/><circle cx="451.3" cy="139.6" r="0.98"/><circle cx="476.1" cy="124.3" r="0.98"/><circle cx="452.0" cy="128.2" r="0.98"/><circle cx="471.2" cy="135.4" r="0.98"/><circle cx="473.4" cy="140.5" r="0.98"/><circle cx="456.2" cy="123.6" r="0.98"/><circle cx="448.5" cy="126.0" r="0.98"/><circle cx="471.1" cy="133.7" r="0.98"/><circle cx="478.1" cy="140.1" r="0.98"/><circle cx="446.3" cy="122.6" r="0.98"/><circle cx="456.9" cy="127.4" r="0.98"/><circle cx="477.9" cy="133.4" r="0.98"/><circle cx="468.4" cy="138.1" r="0.98"/><circle cx="450.9" cy="124.4" r="0.98"/><circle cx="455.7" cy="128.2" r="0.98"/><circle cx="452.5" cy="131.3" r="0.98"/><circle cx="466.4" cy="135.6" r="0.98"/><circle cx="477.6" cy="123.2" r="0.98"/><circle cx="466.9" cy="125.6" r="0.98"/><circle cx="464.2" cy="135.2" r="0.98"/><circle cx="470.8" cy="137.0" r="0.98"/><circle cx="462.8" cy="122.8" r="0.98"/><circle cx="470.7" cy="128.8" r="0.98"/><circle cx="466.3" cy="131.5" r="0.98"/></g>
<circle cx="462.1" cy="127.7" r="1.3" fill="#f5e800"/>
<line x1="503.5" y1="133.3" x2="503.5" y2="155.7" stroke="#4a4a4a" stroke-width="0.9"/>
<rect x="487.5" y="138.1" width="31.3" height="9.9" fill="#3db44a" stroke="#555" stroke-width="0.6"/>
<line x1="487.5" y1="143.0" x2="518.8" y2="143.0" stroke="#4a4a4a" stroke-width="1.0"/>
<g fill="#000"><circle cx="490.6" cy="108.4" r="0.98"/><circle cx="509.4" cy="104.7" r="0.98"/><circle cx="516.9" cy="114.6" r="0.98"/><circle cx="494.8" cy="122.1" r="0.98"/><circle cx="504.7" cy="122.1" r="0.98"/><circle cx="517.9" cy="122.9" r="0.98"/><circle cx="490.3" cy="135.6" r="0.98"/><circle cx="493.5" cy="132.8" r="0.98"/><circle cx="509.4" cy="133.4" r="0.98"/><circle cx="516.0" cy="133.8" r="0.98"/><circle cx="493.4" cy="97.7" r="0.98"/><circle cx="512.7" cy="98.5" r="0.98"/><circle cx="500.7" cy="137.6" r="0.98"/><circle cx="509.3" cy="142.7" r="0.98"/><circle cx="488.7" cy="147.9" r="0.98"/><circle cx="516.0" cy="153.1" r="0.98"/><circle cx="505.9" cy="137.5" r="0.98"/><circle cx="515.1" cy="142.6" r="0.98"/><circle cx="499.3" cy="145.0" r="0.98"/><circle cx="500.4" cy="153.4" r="0.98"/><circle cx="495.5" cy="138.1" r="0.98"/><circle cx="487.8" cy="141.7" r="0.98"/><circle cx="493.1" cy="144.4" r="0.98"/><circle cx="508.8" cy="149.6" r="0.98"/><circle cx="518.9" cy="138.0" r="0.98"/><circle cx="491.1" cy="140.0" r="0.98"/><circle cx="517.1" cy="147.3" r="0.98"/><circle cx="488.1" cy="154.5" r="0.98"/><circle cx="510.6" cy="137.3" r="0.98"/><circle cx="493.8" cy="141.0" r="0.98"/><circle cx="505.9" cy="146.1" r="0.98"/><circle cx="500.9" cy="149.2" r="0.98"/><circle cx="514.9" cy="137.9" r="0.98"/><circle cx="516.9" cy="140.0" r="0.98"/><circle cx="512.9" cy="146.2" r="0.98"/><circle cx="495.3" cy="153.3" r="0.98"/><circle cx="492.2" cy="137.9" r="0.98"/><circle cx="512.4" cy="139.4" r="0.98"/><circle cx="508.9" cy="145.9" r="0.98"/><circle cx="494.0" cy="148.0" r="0.98"/><circle cx="488.0" cy="138.0" r="0.98"/><circle cx="504.0" cy="139.3" r="0.98"/><circle cx="502.8" cy="144.7" r="0.98"/><circle cx="513.4" cy="151.8" r="0.98"/><circle cx="493.8" cy="137.3" r="0.98"/><circle cx="509.8" cy="140.8" r="0.98"/><circle cx="518.9" cy="143.7" r="0.98"/><circle cx="492.9" cy="151.0" r="0.98"/><circle cx="507.7" cy="138.1" r="0.98"/><circle cx="497.6" cy="142.3" r="0.98"/><circle cx="496.2" cy="145.0" r="0.98"/><circle cx="498.7" cy="148.6" r="0.98"/><circle cx="509.3" cy="138.0" r="0.98"/><circle cx="499.6" cy="140.9" r="0.98"/><circle cx="490.3" cy="143.8" r="0.98"/><circle cx="505.1" cy="152.3" r="0.98"/></g>
<circle cx="503.3" cy="138.0" r="1.3" fill="#f5e800"/>
<path d="M437.0 22.5H529.0" stroke="#a8a8a8" stroke-width="1"/>
<path d="M437.5 22.5V160.5" stroke="#9c9c9c" stroke-width="1"/>
<path d="M528.5 22.5V161.0" stroke="#5a5a5a" stroke-width="1"/>
<path d="M437.0 160.5H529.0" stroke="#4a4a4a" stroke-width="1"/>
<line x1="463.8" y1="160.2" x2="463.8" y2="162.0" stroke="#444" stroke-width="0.7"/>
<text x="463.8" y="168.3" font-size="7.5" text-anchor="middle" fill="#333" stroke="#333" stroke-width="0.15">HT</text>
<line x1="505.0" y1="160.2" x2="505.0" y2="162.0" stroke="#444" stroke-width="0.7"/>
<text x="505.0" y="168.3" font-size="7.5" text-anchor="middle" fill="#333" stroke="#333" stroke-width="0.15">NC</text>
<path d="M461.5 42.2V37.5H504.5V42.2" fill="none" stroke="#2a2a2a" stroke-width="1"/>
<text x="469.0" y="35.6" font-size="7.5" fill="#000" stroke="#000" stroke-width="0.15"><tspan font-style="italic">P</tspan> = 0.019</text>
<text x="550.1" y="14.2" font-size="17" fill="#000">E</text>
<text x="560.3" y="87.0" font-size="7.7" text-anchor="middle" fill="#1a1a1a" stroke="#1a1a1a" stroke-width="0.15" transform="rotate(-90 560.3 87.0)">24 h RAIU (%)</text>
<line x1="574.8" y1="26.3" x2="576.6" y2="26.3" stroke="#444" stroke-width="0.7"/>
<text transform="translate(574.7 30.3) scale(0.96 1.14)" font-size="7.6" text-anchor="end" fill="#454545" stroke="#454545" stroke-width="0.15">120</text>
<line x1="574.8" y1="49.4" x2="576.6" y2="49.4" stroke="#444" stroke-width="0.7"/>
<text transform="translate(574.7 53.4) scale(0.96 1.14)" font-size="7.6" text-anchor="end" fill="#454545" stroke="#454545" stroke-width="0.15">100</text>
<line x1="574.8" y1="73.7" x2="576.6" y2="73.7" stroke="#444" stroke-width="0.7"/>
<text transform="translate(574.7 77.7) scale(0.96 1.14)" font-size="7.6" text-anchor="end" fill="#454545" stroke="#454545" stroke-width="0.15">80</text>
<line x1="574.8" y1="101.5" x2="576.6" y2="101.5" stroke="#444" stroke-width="0.7"/>
<text transform="translate(574.7 105.5) scale(0.96 1.14)" font-size="7.6" text-anchor="end" fill="#454545" stroke="#454545" stroke-width="0.15">60</text>
<line x1="574.8" y1="128.9" x2="576.6" y2="128.9" stroke="#444" stroke-width="0.7"/>
<text transform="translate(574.7 132.9) scale(0.96 1.14)" font-size="7.6" text-anchor="end" fill="#454545" stroke="#454545" stroke-width="0.15">40</text>
<line x1="574.8" y1="156.6" x2="576.6" y2="156.6" stroke="#444" stroke-width="0.7"/>
<text transform="translate(574.7 160.6) scale(0.96 1.14)" font-size="7.6" text-anchor="end" fill="#454545" stroke="#454545" stroke-width="0.15">20</text>
<line x1="601.5" y1="79.7" x2="601.5" y2="156.8" stroke="#4a4a4a" stroke-width="0.9"/>
<rect x="586.1" y="106.6" width="31.2" height="20.6" fill="#ec1b50" stroke="#555" stroke-width="0.6"/>
<line x1="586.1" y1="117.5" x2="617.3" y2="117.5" stroke="#4a4a4a" stroke-width="1.0"/>
<g fill="#000"><circle cx="598.0" cy="94.1" r="0.98"/><circle cx="586.5" cy="112.9" r="0.98"/><circle cx="615.4" cy="124.4" r="0.98"/><circle cx="608.6" cy="153.3" r="0.98"/><circle cx="613.0" cy="84.5" r="0.98"/><circle cx="608.5" cy="107.1" r="0.98"/><circle cx="602.4" cy="121.0" r="0.98"/><circle cx="587.6" cy="146.7" r="0.98"/><circle cx="603.1" cy="82.6" r="0.98"/><circle cx="595.8" cy="107.4" r="0.98"/><circle cx="586.8" cy="124.8" r="0.98"/><circle cx="603.0" cy="134.7" r="0.98"/><circle cx="586.9" cy="102.8" r="0.98"/><circle cx="618.2" cy="111.4" r="0.98"/><circle cx="593.4" cy="119.3" r="0.98"/><circle cx="595.0" cy="149.8" r="0.98"/><circle cx="613.6" cy="97.3" r="0.98"/><circle cx="594.2" cy="113.3" r="0.98"/><circle cx="610.5" cy="124.8" r="0.98"/><circle cx="586.2" cy="132.4" r="0.98"/><circle cx="616.1" cy="88.3" r="0.98"/><circle cx="611.9" cy="115.5" r="0.98"/><circle cx="618.2" cy="118.7" r="0.98"/><circle cx="610.9" cy="143.9" r="0.98"/><circle cx="590.6" cy="93.9" r="0.98"/><circle cx="588.9" cy="116.9" r="0.98"/><circle cx="594.9" cy="126.4" r="0.98"/><circle cx="615.7" cy="151.8" r="0.98"/><circle cx="608.2" cy="93.2" r="0.98"/><circle cx="602.2" cy="110.9" r="0.98"/><circle cx="600.5" cy="125.8" r="0.98"/><circle cx="612.1" cy="131.5" r="0.98"/><circle cx="614.2" cy="104.7" r="0.98"/><circle cx="588.2" cy="107.2" r="0.98"/><circle cx="602.8" cy="117.6" r="0.98"/><circle cx="614.3" cy="138.2" r="0.98"/><circle cx="601.8" cy="90.0" r="0.98"/><circle cx="591.4" cy="109.9" r="0.98"/><circle cx="607.1" cy="122.5" r="0.98"/><circle cx="584.3" cy="138.6" r="0.98"/><circle cx="603.0" cy="106.6" r="0.98"/><circle cx="613.3" cy="110.3" r="0.98"/><circle cx="585.5" cy="118.2" r="0.98"/><circle cx="601.5" cy="154.0" r="0.98"/><circle cx="593.2" cy="84.1" r="0.98"/><circle cx="598.0" cy="115.4" r="0.98"/><circle cx="598.4" cy="120.2" r="0.98"/><circle cx="598.0" cy="137.2" r="0.98"/><circle cx="608.8" cy="88.6" r="0.98"/><circle cx="608.9" cy="114.2" r="0.98"/><circle cx="606.5" cy="117.6" r="0.98"/><circle cx="605.8" cy="127.9" r="0.98"/><circle cx="588.8" cy="82.8" r="0.98"/><circle cx="585.6" cy="108.8" r="0.98"/><circle cx="616.7" cy="121.5" r="0.98"/><circle cx="608.6" cy="137.8" r="0.98"/><circle cx="608.0" cy="100.4" r="0.98"/><circle cx="597.5" cy="111.7" r="0.98"/><circle cx="590.6" cy="124.8" r="0.98"/><circle cx="613.0" cy="127.6" r="0.98"/><circle cx="610.4" cy="103.4" r="0.98"/><circle cx="608.0" cy="111.0" r="0.98"/><circle cx="611.4" cy="122.6" r="0.98"/><circle cx="592.8" cy="131.0" r="0.98"/><circle cx="598.2" cy="87.6" r="0.98"/><circle cx="615.5" cy="116.1" r="0.98"/><circle cx="612.7" cy="118.3" r="0.98"/><circle cx="587.3" cy="151.9" r="0.98"/><circle cx="604.5" cy="90.2" r="0.98"/><circle cx="591.8" cy="115.1" r="0.98"/><circle cx="608.7" cy="118.4" r="0.98"/><circle cx="605.7" cy="145.1" r="0.98"/><circle cx="584.5" cy="94.8" r="0.98"/><circle cx="593.0" cy="108.4" r="0.98"/><circle cx="600.2" cy="119.5" r="0.98"/><circle cx="609.3" cy="128.2" r="0.98"/><circle cx="609.5" cy="82.4" r="0.98"/><circle cx="617.4" cy="108.1" r="0.98"/><circle cx="591.6" cy="121.3" r="0.98"/><circle cx="590.1" cy="133.3" r="0.98"/><circle cx="601.9" cy="94.5" r="0.98"/><circle cx="614.9" cy="111.9" r="0.98"/><circle cx="587.9" cy="119.6" r="0.98"/><circle cx="602.3" cy="139.8" r="0.98"/><circle cx="590.9" cy="104.5" r="0.98"/><circle cx="606.2" cy="114.3" r="0.98"/><circle cx="614.1" cy="120.9" r="0.98"/><circle cx="617.6" cy="128.8" r="0.98"/><circle cx="617.6" cy="97.8" r="0.98"/><circle cx="603.5" cy="113.5" r="0.98"/><circle cx="604.0" cy="124.8" r="0.98"/><circle cx="592.6" cy="140.5" r="0.98"/><circle cx="594.4" cy="106.0" r="0.98"/><circle cx="595.4" cy="116.8" r="0.98"/><circle cx="589.3" cy="126.6" r="0.98"/><circle cx="602.1" cy="148.8" r="0.98"/><circle cx="615.9" cy="101.1" r="0.98"/><circle cx="590.7" cy="112.0" r="0.98"/><circle cx="591.6" cy="126.7" r="0.98"/><circle cx="606.3" cy="149.4" r="0.98"/><circle cx="604.3" cy="102.1" r="0.98"/><circle cx="606.2" cy="107.1" r="0.98"/><circle cx="611.0" cy="120.5" r="0.98"/><circle cx="596.5" cy="132.2" r="0.98"/><circle cx="612.9" cy="92.4" r="0.98"/><circle cx="600.3" cy="113.4" r="0.98"/><circle cx="596.8" cy="123.3" r="0.98"/><circle cx="596.2" cy="154.0" r="0.98"/><circle cx="599.7" cy="80.7" r="0.98"/><circle cx="598.6" cy="107.5" r="0.98"/><circle cx="613.2" cy="123.0" r="0.98"/><circle cx="599.5" cy="130.1" r="0.98"/><circle cx="595.9" cy="90.6" r="0.98"/><circle cx="586.4" cy="116.0" r="0.98"/><circle cx="585.3" cy="122.5" r="0.98"/><circle cx="594.7" cy="136.5" r="0.98"/><circle cx="615.9" cy="93.7" r="0.98"/><circle cx="612.9" cy="115.7" r="0.98"/><circle cx="607.8" cy="125.4" r="0.98"/><circle cx="587.1" cy="143.2" r="0.98"/><circle cx="610.1" cy="91.1" r="0.98"/><circle cx="584.6" cy="114.4" r="0.98"/><circle cx="595.7" cy="121.0" r="0.98"/><circle cx="591.7" cy="152.1" r="0.98"/><circle cx="605.5" cy="97.6" r="0.98"/><circle cx="588.6" cy="112.0" r="0.98"/><circle cx="592.7" cy="123.2" r="0.98"/><circle cx="587.6" cy="154.7" r="0.98"/><circle cx="592.5" cy="97.5" r="0.98"/><circle cx="592.2" cy="107.1" r="0.98"/></g>
<circle cx="601.4" cy="117.9" r="1.3" fill="#f5e800"/>
<line x1="643.5" y1="77.5" x2="643.5" y2="130.7" stroke="#4a4a4a" stroke-width="0.9"/>
<rect x="627.3" y="97.2" width="31.5" height="16.2" fill="#3db44a" stroke="#555" stroke-width="0.6"/>
<line x1="627.3" y1="106.0" x2="658.8" y2="106.0" stroke="#4a4a4a" stroke-width="1.0"/>
<g fill="#000"><circle cx="646.4" cy="65.5" r="0.98"/><circle cx="628.3" cy="81.6" r="0.98"/><circle cx="638.4" cy="81.6" r="0.98"/><circle cx="654.5" cy="82.4" r="0.98"/><circle cx="656.5" cy="88.4" r="0.98"/><circle cx="631.6" cy="89.6" r="0.98"/><circle cx="647.7" cy="96.5" r="0.98"/><circle cx="651.7" cy="125.9" r="0.98"/><circle cx="644.4" cy="127.5" r="0.98"/><circle cx="647.7" cy="140.8" r="0.98"/><circle cx="635.6" cy="120.6" r="0.98"/><circle cx="656.5" cy="117.8" r="0.98"/><circle cx="636.7" cy="96.2" r="0.98"/><circle cx="655.9" cy="101.7" r="0.98"/><circle cx="634.8" cy="107.4" r="0.98"/><circle cx="646.3" cy="113.7" r="0.98"/><circle cx="628.7" cy="96.5" r="0.98"/><circle cx="650.1" cy="105.8" r="0.98"/><circle cx="654.8" cy="110.7" r="0.98"/><circle cx="630.5" cy="114.5" r="0.98"/><circle cx="652.6" cy="93.1" r="0.98"/><circle cx="647.1" cy="102.3" r="0.98"/><circle cx="639.8" cy="106.3" r="0.98"/><circle cx="637.6" cy="114.0" r="0.98"/><circle cx="657.4" cy="95.9" r="0.98"/><circle cx="627.4" cy="100.8" r="0.98"/><circle cx="658.6" cy="112.9" r="0.98"/><circle cx="651.9" cy="114.0" r="0.98"/><circle cx="643.1" cy="95.4" r="0.98"/><circle cx="632.8" cy="102.3" r="0.98"/><circle cx="649.1" cy="109.7" r="0.98"/><circle cx="655.8" cy="114.6" r="0.98"/><circle cx="654.8" cy="97.2" r="0.98"/><circle cx="630.8" cy="105.2" r="0.98"/><circle cx="644.5" cy="109.8" r="0.98"/><circle cx="634.4" cy="115.9" r="0.98"/><circle cx="639.4" cy="93.7" r="0.98"/><circle cx="651.4" cy="100.2" r="0.98"/><circle cx="629.7" cy="111.1" r="0.98"/><circle cx="639.1" cy="118.0" r="0.98"/><circle cx="651.1" cy="96.6" r="0.98"/><circle cx="653.8" cy="104.2" r="0.98"/><circle cx="628.1" cy="107.4" r="0.98"/><circle cx="645.3" cy="116.3" r="0.98"/><circle cx="631.6" cy="95.7" r="0.98"/><circle cx="642.7" cy="102.3" r="0.98"/><circle cx="638.0" cy="110.4" r="0.98"/><circle cx="628.1" cy="113.9" r="0.98"/><circle cx="634.3" cy="94.4" r="0.98"/><circle cx="636.5" cy="99.7" r="0.98"/><circle cx="657.4" cy="109.1" r="0.98"/><circle cx="641.6" cy="113.6" r="0.98"/><circle cx="646.8" cy="93.2" r="0.98"/><circle cx="652.0" cy="102.9" r="0.98"/><circle cx="640.8" cy="110.1" r="0.98"/><circle cx="641.3" cy="115.9" r="0.98"/></g>
<circle cx="643.0" cy="105.5" r="1.3" fill="#f5e800"/>
<path d="M576.0 23.5H668.0" stroke="#a8a8a8" stroke-width="1"/>
<path d="M576.5 23.5V161.5" stroke="#555" stroke-width="1"/>
<path d="M667.5 23.5V162.0" stroke="#444" stroke-width="1"/>
<path d="M576.0 161.5H668.0" stroke="#444" stroke-width="1"/>
<line x1="601.3" y1="161.3" x2="601.3" y2="163.1" stroke="#444" stroke-width="0.7"/>
<text x="601.3" y="169.5" font-size="7.5" text-anchor="middle" fill="#333" stroke="#333" stroke-width="0.15">HT</text>
<line x1="643.0" y1="161.3" x2="643.0" y2="163.1" stroke="#444" stroke-width="0.7"/>
<text x="643.0" y="169.5" font-size="7.5" text-anchor="middle" fill="#333" stroke="#333" stroke-width="0.15">NC</text>
<path d="M601.5 58.5V54.5H643.5V58.5" fill="none" stroke="#2a2a2a" stroke-width="1"/>
<text x="609.0" y="52.1" font-size="7.5" fill="#000" stroke="#000" stroke-width="0.15"><tspan font-style="italic">P</tspan> = 0.019</text>
<text x="0.3" y="197.6" font-size="17" fill="#000">F</text>
<text x="6.0" y="268.2" font-size="7.65" text-anchor="middle" fill="#1a1a1a" stroke="#1a1a1a" stroke-width="0.15" transform="rotate(-90 6.0 268.2)">Thyroid mass (g)</text>
<line x1="20.5" y1="222.5" x2="22.3" y2="222.5" stroke="#444" stroke-width="0.7"/>
<text transform="translate(20.4 226.5) scale(0.96 1.14)" font-size="7.6" text-anchor="end" fill="#454545" stroke="#454545" stroke-width="0.15">120</text>
<line x1="20.5" y1="253.4" x2="22.3" y2="253.4" stroke="#444" stroke-width="0.7"/>
<text transform="translate(20.4 257.4) scale(0.96 1.14)" font-size="7.6" text-anchor="end" fill="#454545" stroke="#454545" stroke-width="0.15">90</text>
<line x1="20.5" y1="284.5" x2="22.3" y2="284.5" stroke="#444" stroke-width="0.7"/>
<text transform="translate(20.4 288.5) scale(0.96 1.14)" font-size="7.6" text-anchor="end" fill="#454545" stroke="#454545" stroke-width="0.15">60</text>
<line x1="20.5" y1="315.4" x2="22.3" y2="315.4" stroke="#444" stroke-width="0.7"/>
<text transform="translate(20.4 319.4) scale(0.96 1.14)" font-size="7.6" text-anchor="end" fill="#454545" stroke="#454545" stroke-width="0.15">30</text>
<line x1="47.5" y1="262.2" x2="47.5" y2="321.4" stroke="#4a4a4a" stroke-width="0.9"/>
<rect x="32.0" y="284.2" width="31.0" height="14.9" fill="#ec1b50" stroke="#555" stroke-width="0.6"/>
<line x1="32.0" y1="292.0" x2="63.0" y2="292.0" stroke="#4a4a4a" stroke-width="1.0"/>
<g fill="#000"><circle cx="38.7" cy="241.7" r="0.98"/><circle cx="45.1" cy="249.7" r="0.98"/><circle cx="57.8" cy="250.9" r="0.98"/><circle cx="37.1" cy="253.7" r="0.98"/><circle cx="41.1" cy="259.6" r="0.98"/><circle cx="59.8" cy="262.8" r="0.98"/><circle cx="30.7" cy="323.2" r="0.98"/><circle cx="37.1" cy="331.2" r="0.98"/><circle cx="51.8" cy="327.2" r="0.98"/><circle cx="59.8" cy="325.2" r="0.98"/><circle cx="44.0" cy="282.3" r="0.98"/><circle cx="60.7" cy="284.8" r="0.98"/><circle cx="35.3" cy="295.4" r="0.98"/><circle cx="58.7" cy="300.5" r="0.98"/><circle cx="53.4" cy="283.5" r="0.98"/><circle cx="34.7" cy="289.5" r="0.98"/><circle cx="48.5" cy="294.2" r="0.98"/><circle cx="36.4" cy="311.3" r="0.98"/><circle cx="51.0" cy="271.9" r="0.98"/><circle cx="53.5" cy="291.2" r="0.98"/><circle cx="63.7" cy="293.4" r="0.98"/><circle cx="57.7" cy="311.7" r="0.98"/><circle cx="33.5" cy="272.6" r="0.98"/><circle cx="41.3" cy="286.8" r="0.98"/><circle cx="53.9" cy="298.6" r="0.98"/><circle cx="53.5" cy="305.7" r="0.98"/><circle cx="37.6" cy="274.4" r="0.98"/><circle cx="44.8" cy="290.5" r="0.98"/><circle cx="41.7" cy="297.8" r="0.98"/><circle cx="48.9" cy="314.1" r="0.98"/><circle cx="63.7" cy="281.0" r="0.98"/><circle cx="60.7" cy="288.3" r="0.98"/><circle cx="41.7" cy="293.7" r="0.98"/><circle cx="37.2" cy="302.7" r="0.98"/><circle cx="34.3" cy="278.0" r="0.98"/><circle cx="39.4" cy="290.3" r="0.98"/><circle cx="32.9" cy="298.3" r="0.98"/><circle cx="41.1" cy="320.1" r="0.98"/><circle cx="34.5" cy="283.7" r="0.98"/><circle cx="55.3" cy="288.1" r="0.98"/><circle cx="57.1" cy="296.1" r="0.98"/><circle cx="31.1" cy="306.4" r="0.98"/><circle cx="48.3" cy="278.8" r="0.98"/><circle cx="32.1" cy="285.1" r="0.98"/><circle cx="31.1" cy="293.7" r="0.98"/><circle cx="43.8" cy="307.2" r="0.98"/><circle cx="46.9" cy="271.0" r="0.98"/><circle cx="49.9" cy="289.8" r="0.98"/><circle cx="59.9" cy="292.8" r="0.98"/><circle cx="61.4" cy="305.4" r="0.98"/><circle cx="63.5" cy="284.0" r="0.98"/><circle cx="48.7" cy="286.9" r="0.98"/><circle cx="52.6" cy="294.3" r="0.98"/><circle cx="49.4" cy="300.4" r="0.98"/><circle cx="57.6" cy="278.9" r="0.98"/><circle cx="58.3" cy="290.4" r="0.98"/><circle cx="36.0" cy="298.8" r="0.98"/><circle cx="37.0" cy="306.8" r="0.98"/><circle cx="57.0" cy="271.3" r="0.98"/><circle cx="56.2" cy="285.0" r="0.98"/><circle cx="59.8" cy="298.4" r="0.98"/><circle cx="32.0" cy="303.2" r="0.98"/><circle cx="61.1" cy="274.9" r="0.98"/><circle cx="43.0" cy="289.5" r="0.98"/><circle cx="63.6" cy="298.5" r="0.98"/><circle cx="55.8" cy="308.4" r="0.98"/><circle cx="46.3" cy="275.3" r="0.98"/><circle cx="42.9" cy="284.9" r="0.98"/><circle cx="37.6" cy="292.9" r="0.98"/><circle cx="63.3" cy="311.8" r="0.98"/><circle cx="63.8" cy="271.4" r="0.98"/><circle cx="38.0" cy="286.8" r="0.98"/><circle cx="32.7" cy="295.2" r="0.98"/><circle cx="56.5" cy="304.1" r="0.98"/><circle cx="50.6" cy="283.3" r="0.98"/><circle cx="34.5" cy="286.0" r="0.98"/><circle cx="37.3" cy="297.1" r="0.98"/><circle cx="31.8" cy="317.3" r="0.98"/><circle cx="39.0" cy="283.1" r="0.98"/><circle cx="31.5" cy="291.1" r="0.98"/><circle cx="61.5" cy="297.5" r="0.98"/><circle cx="45.7" cy="314.8" r="0.98"/><circle cx="56.8" cy="281.5" r="0.98"/><circle cx="53.2" cy="288.9" r="0.98"/><circle cx="45.7" cy="296.9" r="0.98"/><circle cx="54.0" cy="317.3" r="0.98"/><circle cx="55.3" cy="276.4" r="0.98"/><circle cx="45.3" cy="289.1" r="0.98"/><circle cx="59.9" cy="295.4" r="0.98"/><circle cx="60.9" cy="318.7" r="0.98"/><circle cx="42.8" cy="276.7" r="0.98"/><circle cx="51.5" cy="286.8" r="0.98"/><circle cx="39.3" cy="298.7" r="0.98"/><circle cx="64.3" cy="308.0" r="0.98"/><circle cx="61.4" cy="281.9" r="0.98"/><circle cx="45.3" cy="284.3" r="0.98"/><circle cx="57.0" cy="292.6" r="0.98"/><circle cx="55.3" cy="320.9" r="0.98"/><circle cx="43.4" cy="272.6" r="0.98"/><circle cx="35.0" cy="291.8" r="0.98"/><circle cx="44.2" cy="292.9" r="0.98"/><circle cx="44.0" cy="301.3" r="0.98"/><circle cx="51.4" cy="276.8" r="0.98"/><circle cx="47.2" cy="291.4" r="0.98"/><circle cx="54.4" cy="293.2" r="0.98"/><circle cx="36.1" cy="314.0" r="0.98"/><circle cx="49.1" cy="276.0" r="0.98"/><circle cx="55.6" cy="289.9" r="0.98"/><circle cx="50.8" cy="298.7" r="0.98"/><circle cx="40.7" cy="317.0" r="0.98"/><circle cx="31.9" cy="279.5" r="0.98"/><circle cx="64.1" cy="290.5" r="0.98"/><circle cx="36.2" cy="294.1" r="0.98"/><circle cx="50.6" cy="303.0" r="0.98"/><circle cx="59.2" cy="281.4" r="0.98"/><circle cx="62.6" cy="289.0" r="0.98"/><circle cx="37.9" cy="299.0" r="0.98"/><circle cx="48.5" cy="309.4" r="0.98"/><circle cx="51.0" cy="280.3" r="0.98"/><circle cx="47.2" cy="285.0" r="0.98"/><circle cx="57.3" cy="298.0" r="0.98"/><circle cx="63.9" cy="301.6" r="0.98"/><circle cx="63.9" cy="277.4" r="0.98"/><circle cx="33.6" cy="287.4" r="0.98"/><circle cx="51.0" cy="293.6" r="0.98"/><circle cx="35.1" cy="318.7" r="0.98"/><circle cx="50.1" cy="273.7" r="0.98"/><circle cx="61.6" cy="291.7" r="0.98"/><circle cx="51.1" cy="296.3" r="0.98"/><circle cx="46.0" cy="299.1" r="0.98"/><circle cx="61.4" cy="271.4" r="0.98"/><circle cx="41.1" cy="289.3" r="0.98"/><circle cx="43.6" cy="295.0" r="0.98"/><circle cx="51.5" cy="319.2" r="0.98"/><circle cx="37.0" cy="280.5" r="0.98"/></g>
<circle cx="47.5" cy="293.0" r="1.3" fill="#f5e800"/>
<line x1="88.5" y1="265.7" x2="88.5" y2="305.1" stroke="#4a4a4a" stroke-width="0.9"/>
<rect x="72.8" y="279.0" width="30.5" height="10.7" fill="#3db44a" stroke="#555" stroke-width="0.6"/>
<line x1="72.8" y1="285.2" x2="103.3" y2="285.2" stroke="#4a4a4a" stroke-width="1.0"/>
<g fill="#000"><circle cx="99.5" cy="239.7" r="0.98"/><circle cx="87.6" cy="265.6" r="0.98"/><circle cx="103.5" cy="268.4" r="0.98"/><circle cx="103.5" cy="273.5" r="0.98"/><circle cx="75.7" cy="273.5" r="0.98"/><circle cx="81.6" cy="275.5" r="0.98"/><circle cx="75.7" cy="313.3" r="0.98"/><circle cx="87.6" cy="304.1" r="0.98"/><circle cx="98.0" cy="300.0" r="0.98"/><circle cx="80.0" cy="298.0" r="0.98"/><circle cx="95.7" cy="278.0" r="0.98"/><circle cx="73.2" cy="284.6" r="0.98"/><circle cx="85.5" cy="286.5" r="0.98"/><circle cx="97.0" cy="289.7" r="0.98"/><circle cx="86.6" cy="279.0" r="0.98"/><circle cx="78.9" cy="284.2" r="0.98"/><circle cx="89.9" cy="289.7" r="0.98"/><circle cx="87.2" cy="293.1" r="0.98"/><circle cx="76.6" cy="278.8" r="0.98"/><circle cx="93.8" cy="284.2" r="0.98"/><circle cx="79.4" cy="289.2" r="0.98"/><circle cx="95.6" cy="295.5" r="0.98"/><circle cx="80.9" cy="279.0" r="0.98"/><circle cx="100.6" cy="282.7" r="0.98"/><circle cx="103.0" cy="288.0" r="0.98"/><circle cx="100.7" cy="293.7" r="0.98"/><circle cx="91.0" cy="278.4" r="0.98"/><circle cx="73.8" cy="281.2" r="0.98"/><circle cx="74.9" cy="288.4" r="0.98"/><circle cx="92.6" cy="289.7" r="0.98"/><circle cx="73.6" cy="277.8" r="0.98"/><circle cx="94.1" cy="280.7" r="0.98"/><circle cx="81.4" cy="285.6" r="0.98"/><circle cx="82.4" cy="292.4" r="0.98"/><circle cx="100.8" cy="278.9" r="0.98"/><circle cx="90.0" cy="284.1" r="0.98"/><circle cx="92.0" cy="286.5" r="0.98"/><circle cx="84.6" cy="289.8" r="0.98"/><circle cx="98.7" cy="278.4" r="0.98"/><circle cx="88.7" cy="279.7" r="0.98"/><circle cx="96.8" cy="287.2" r="0.98"/><circle cx="73.8" cy="291.4" r="0.98"/><circle cx="83.3" cy="277.6" r="0.98"/><circle cx="86.8" cy="283.8" r="0.98"/><circle cx="89.2" cy="286.7" r="0.98"/><circle cx="94.8" cy="292.4" r="0.98"/></g>
<circle cx="88.2" cy="286.4" r="1.3" fill="#f5e800"/>
<path d="M22.0 199.5H114.0" stroke="#a8a8a8" stroke-width="1"/>
<path d="M22.5 199.5V336.5" stroke="#999" stroke-width="1"/>
<path d="M113.5 199.5V337.0" stroke="#777" stroke-width="1"/>
<path d="M22.0 336.5H114.0" stroke="#666" stroke-width="1"/>
<line x1="47.0" y1="336.6" x2="47.0" y2="338.4" stroke="#444" stroke-width="0.7"/>
<text x="47.0" y="344.0" font-size="7.5" text-anchor="middle" fill="#333" stroke="#333" stroke-width="0.15">HT</text>
<line x1="88.0" y1="336.6" x2="88.0" y2="338.4" stroke="#444" stroke-width="0.7"/>
<text x="88.0" y="344.0" font-size="7.5" text-anchor="middle" fill="#333" stroke="#333" stroke-width="0.15">NC</text>
<path d="M47.5 226.5V222.5H89.5V226.5" fill="none" stroke="#2a2a2a" stroke-width="1"/>
<text x="51.8" y="220.0" font-size="7.5" fill="#000" stroke="#000" stroke-width="0.15"><tspan font-style="italic">P</tspan> = 0.014</text>
<text x="148.8" y="201.0" font-size="17" fill="#000">G</text>
<text x="156.9" y="264.3" font-size="7.5" text-anchor="middle" fill="#1a1a1a" stroke="#1a1a1a" stroke-width="0.15" transform="rotate(-90 156.9 264.3)">Blood neutrophil</text>
<text x="168.4" y="262.4" font-size="7.8" text-anchor="middle" fill="#1a1a1a" stroke="#1a1a1a" stroke-width="0.15" transform="rotate(-90 168.4 262.4)">(10e<tspan font-size="5.5" dy="-2.2">9</tspan><tspan dy="2.2">/L)</tspan></text>
<line x1="181.6" y1="205.1" x2="183.4" y2="205.1" stroke="#444" stroke-width="0.7"/>
<text transform="translate(181.5 209.1) scale(0.96 1.14)" font-size="7.6" text-anchor="end" fill="#454545" stroke="#454545" stroke-width="0.15">24</text>
<line x1="181.6" y1="225.6" x2="183.4" y2="225.6" stroke="#444" stroke-width="0.7"/>
<text transform="translate(181.5 229.6) scale(0.96 1.14)" font-size="7.6" text-anchor="end" fill="#454545" stroke="#454545" stroke-width="0.15">20</text>
<line x1="181.6" y1="246.8" x2="183.4" y2="246.8" stroke="#444" stroke-width="0.7"/>
<text transform="translate(181.5 250.8) scale(0.96 1.14)" font-size="7.6" text-anchor="end" fill="#454545" stroke="#454545" stroke-width="0.15">16</text>
<line x1="181.6" y1="267.8" x2="183.4" y2="267.8" stroke="#444" stroke-width="0.7"/>
<text transform="translate(181.5 271.8) scale(0.96 1.14)" font-size="7.6" text-anchor="end" fill="#454545" stroke="#454545" stroke-width="0.15">12</text>
<line x1="181.6" y1="288.8" x2="183.4" y2="288.8" stroke="#444" stroke-width="0.7"/>
<text transform="translate(181.5 292.8) scale(0.96 1.14)" font-size="7.6" text-anchor="end" fill="#454545" stroke="#454545" stroke-width="0.15">8</text>
<line x1="181.6" y1="310.0" x2="183.4" y2="310.0" stroke="#444" stroke-width="0.7"/>
<text transform="translate(181.5 314.0) scale(0.96 1.14)" font-size="7.6" text-anchor="end" fill="#454545" stroke="#454545" stroke-width="0.15">4</text>
<line x1="181.6" y1="331.0" x2="183.4" y2="331.0" stroke="#444" stroke-width="0.7"/>
<text transform="translate(181.5 335.0) scale(0.96 1.14)" font-size="7.6" text-anchor="end" fill="#454545" stroke="#454545" stroke-width="0.15">0</text>
<line x1="208.5" y1="296.0" x2="208.5" y2="320.0" stroke="#4a4a4a" stroke-width="0.9"/>
<rect x="191.8" y="308.6" width="33.5" height="6.4" fill="#ec1b50" stroke="#555" stroke-width="0.6"/>
<line x1="191.8" y1="311.5" x2="225.3" y2="311.5" stroke="#4a4a4a" stroke-width="1.0"/>
<g fill="#000"><circle cx="191.9" cy="294.4" r="0.98"/><circle cx="197.2" cy="293.0" r="0.98"/><circle cx="202.0" cy="288.6" r="0.98"/><circle cx="210.6" cy="291.5" r="0.98"/><circle cx="213.8" cy="290.0" r="0.98"/><circle cx="198.7" cy="298.0" r="0.98"/><circle cx="195.1" cy="301.6" r="0.98"/><circle cx="205.2" cy="299.5" r="0.98"/><circle cx="208.8" cy="300.9" r="0.98"/><circle cx="215.3" cy="302.3" r="0.98"/><circle cx="208.0" cy="308.0" r="0.98"/><circle cx="223.9" cy="309.8" r="0.98"/><circle cx="216.2" cy="313.8" r="0.98"/><circle cx="205.4" cy="318.8" r="0.98"/><circle cx="202.6" cy="308.1" r="0.98"/><circle cx="196.3" cy="308.8" r="0.98"/><circle cx="209.6" cy="314.1" r="0.98"/><circle cx="195.6" cy="316.0" r="0.98"/><circle cx="214.4" cy="308.5" r="0.98"/><circle cx="205.5" cy="309.4" r="0.98"/><circle cx="201.4" cy="314.4" r="0.98"/><circle cx="224.3" cy="315.7" r="0.98"/><circle cx="218.7" cy="308.4" r="0.98"/><circle cx="219.7" cy="310.9" r="0.98"/><circle cx="212.8" cy="314.2" r="0.98"/><circle cx="198.5" cy="320.0" r="0.98"/><circle cx="194.2" cy="306.0" r="0.98"/><circle cx="212.0" cy="311.0" r="0.98"/><circle cx="197.8" cy="312.7" r="0.98"/><circle cx="219.9" cy="318.4" r="0.98"/><circle cx="200.2" cy="307.6" r="0.98"/><circle cx="193.2" cy="310.8" r="0.98"/><circle cx="192.4" cy="314.5" r="0.98"/><circle cx="203.9" cy="316.0" r="0.98"/><circle cx="221.5" cy="307.9" r="0.98"/><circle cx="200.3" cy="310.3" r="0.98"/><circle cx="224.8" cy="313.0" r="0.98"/><circle cx="216.7" cy="319.5" r="0.98"/><circle cx="224.9" cy="308.1" r="0.98"/><circle cx="195.0" cy="310.4" r="0.98"/><circle cx="204.4" cy="311.7" r="0.98"/><circle cx="214.8" cy="316.3" r="0.98"/><circle cx="194.1" cy="307.6" r="0.98"/><circle cx="206.0" cy="311.2" r="0.98"/><circle cx="221.6" cy="313.4" r="0.98"/><circle cx="197.6" cy="315.5" r="0.98"/><circle cx="206.1" cy="307.5" r="0.98"/><circle cx="216.6" cy="310.6" r="0.98"/><circle cx="195.3" cy="312.4" r="0.98"/><circle cx="207.9" cy="316.4" r="0.98"/><circle cx="220.1" cy="307.6" r="0.98"/><circle cx="216.3" cy="308.7" r="0.98"/><circle cx="217.2" cy="312.9" r="0.98"/><circle cx="192.0" cy="319.6" r="0.98"/><circle cx="219.0" cy="307.0" r="0.98"/><circle cx="214.7" cy="310.7" r="0.98"/><circle cx="199.3" cy="314.8" r="0.98"/><circle cx="212.1" cy="318.8" r="0.98"/><circle cx="209.2" cy="306.6" r="0.98"/><circle cx="210.9" cy="308.9" r="0.98"/><circle cx="205.5" cy="314.5" r="0.98"/><circle cx="210.6" cy="316.4" r="0.98"/><circle cx="214.3" cy="305.6" r="0.98"/><circle cx="221.8" cy="309.8" r="0.98"/><circle cx="218.3" cy="314.4" r="0.98"/><circle cx="191.6" cy="317.0" r="0.98"/><circle cx="212.6" cy="308.3" r="0.98"/><circle cx="198.7" cy="310.7" r="0.98"/><circle cx="194.5" cy="314.7" r="0.98"/><circle cx="214.8" cy="319.9" r="0.98"/><circle cx="221.9" cy="306.5" r="0.98"/><circle cx="208.8" cy="309.7" r="0.98"/><circle cx="222.7" cy="312.1" r="0.98"/><circle cx="217.5" cy="316.5" r="0.98"/><circle cx="223.1" cy="307.4" r="0.98"/><circle cx="192.2" cy="308.6" r="0.98"/><circle cx="207.3" cy="314.6" r="0.98"/><circle cx="198.7" cy="318.7" r="0.98"/><circle cx="204.9" cy="308.3" r="0.98"/><circle cx="219.7" cy="309.3" r="0.98"/><circle cx="201.3" cy="312.0" r="0.98"/><circle cx="203.8" cy="317.8" r="0.98"/><circle cx="197.7" cy="305.7" r="0.98"/><circle cx="193.7" cy="309.0" r="0.98"/><circle cx="193.2" cy="312.0" r="0.98"/><circle cx="212.0" cy="316.9" r="0.98"/><circle cx="215.6" cy="306.9" r="0.98"/><circle cx="223.1" cy="308.6" r="0.98"/><circle cx="210.6" cy="314.7" r="0.98"/><circle cx="196.5" cy="317.5" r="0.98"/><circle cx="216.7" cy="305.5" r="0.98"/><circle cx="207.7" cy="311.3" r="0.98"/><circle cx="212.8" cy="312.7" r="0.98"/><circle cx="197.1" cy="319.3" r="0.98"/><circle cx="197.4" cy="307.3" r="0.98"/><circle cx="203.7" cy="309.3" r="0.98"/><circle cx="220.4" cy="314.9" r="0.98"/><circle cx="207.9" cy="319.1" r="0.98"/><circle cx="210.9" cy="307.7" r="0.98"/><circle cx="218.4" cy="310.1" r="0.98"/><circle cx="210.9" cy="312.7" r="0.98"/><circle cx="218.7" cy="315.3" r="0.98"/><circle cx="224.6" cy="306.0" r="0.98"/><circle cx="191.6" cy="309.8" r="0.98"/><circle cx="214.7" cy="312.9" r="0.98"/><circle cx="215.9" cy="315.3" r="0.98"/><circle cx="204.3" cy="306.5" r="0.98"/><circle cx="207.1" cy="309.3" r="0.98"/><circle cx="208.7" cy="312.6" r="0.98"/><circle cx="194.3" cy="318.2" r="0.98"/></g>
<circle cx="208.3" cy="310.7" r="1.3" fill="#f5e800"/>
<line x1="250.5" y1="289.6" x2="250.5" y2="312.0" stroke="#4a4a4a" stroke-width="0.9"/>
<rect x="234.4" y="298.2" width="32.6" height="6.4" fill="#3db44a" stroke="#555" stroke-width="0.6"/>
<line x1="234.4" y1="301.5" x2="267.0" y2="301.5" stroke="#4a4a4a" stroke-width="1.0"/>
<g fill="#000"><circle cx="234.7" cy="285.8" r="0.98"/><circle cx="239.8" cy="287.9" r="0.98"/><circle cx="247.0" cy="290.8" r="0.98"/><circle cx="255.6" cy="290.1" r="0.98"/><circle cx="259.2" cy="292.2" r="0.98"/><circle cx="239.0" cy="295.1" r="0.98"/><circle cx="246.2" cy="309.5" r="0.98"/><circle cx="261.4" cy="310.3" r="0.98"/><circle cx="265.7" cy="312.4" r="0.98"/><circle cx="240.5" cy="307.4" r="0.98"/><circle cx="250.4" cy="298.3" r="0.98"/><circle cx="258.3" cy="300.4" r="0.98"/><circle cx="248.9" cy="303.8" r="0.98"/><circle cx="235.0" cy="306.9" r="0.98"/><circle cx="266.2" cy="296.2" r="0.98"/><circle cx="238.2" cy="300.9" r="0.98"/><circle cx="263.5" cy="304.3" r="0.98"/><circle cx="257.6" cy="306.3" r="0.98"/><circle cx="245.3" cy="297.5" r="0.98"/><circle cx="265.9" cy="301.4" r="0.98"/><circle cx="243.5" cy="302.9" r="0.98"/><circle cx="240.9" cy="304.6" r="0.98"/><circle cx="235.5" cy="297.4" r="0.98"/><circle cx="263.0" cy="299.1" r="0.98"/><circle cx="260.1" cy="303.8" r="0.98"/><circle cx="247.0" cy="306.1" r="0.98"/><circle cx="265.4" cy="298.4" r="0.98"/><circle cx="252.7" cy="301.2" r="0.98"/><circle cx="254.7" cy="304.4" r="0.98"/><circle cx="263.5" cy="306.7" r="0.98"/><circle cx="254.3" cy="296.3" r="0.98"/><circle cx="242.2" cy="299.6" r="0.98"/><circle cx="239.1" cy="303.1" r="0.98"/><circle cx="260.9" cy="306.2" r="0.98"/><circle cx="239.7" cy="297.9" r="0.98"/><circle cx="247.6" cy="300.5" r="0.98"/><circle cx="266.4" cy="304.4" r="0.98"/><circle cx="250.8" cy="306.1" r="0.98"/><circle cx="250.9" cy="296.2" r="0.98"/><circle cx="261.0" cy="301.0" r="0.98"/><circle cx="234.8" cy="301.7" r="0.98"/><circle cx="236.3" cy="304.5" r="0.98"/></g>
<circle cx="250.5" cy="301.9" r="1.3" fill="#f5e800"/>
<path d="M183.0 200.5H277.0" stroke="#a8a8a8" stroke-width="1"/>
<path d="M183.5 200.5V335.5" stroke="#9c9c9c" stroke-width="1"/>
<path d="M276.5 200.5V336.0" stroke="#5a5a5a" stroke-width="1"/>
<path d="M183.0 335.5H277.0" stroke="#4a4a4a" stroke-width="1"/>
<line x1="210.0" y1="335.3" x2="210.0" y2="337.1" stroke="#444" stroke-width="0.7"/>
<text x="210.0" y="344.3" font-size="7.5" text-anchor="middle" fill="#333" stroke="#333" stroke-width="0.15">HT</text>
<line x1="250.8" y1="335.3" x2="250.8" y2="337.1" stroke="#444" stroke-width="0.7"/>
<text x="250.8" y="344.3" font-size="7.5" text-anchor="middle" fill="#333" stroke="#333" stroke-width="0.15">NC</text>
<path d="M206.5 267.0V263.5H249.5V267.0" fill="none" stroke="#2a2a2a" stroke-width="1"/>
<text x="211.1" y="261.0" font-size="7.5" fill="#000" stroke="#000" stroke-width="0.15"><tspan font-style="italic">P</tspan> = 0.022</text>
<text x="319.3" y="203.3" font-size="17" fill="#000">H</text>
<g stroke="#e3e3e3" stroke-width="0.6" stroke-dasharray="1 1"><line x1="354.4" y1="205.4" x2="354.4" y2="323.6"/><line x1="347.5" y1="319.6" x2="471.6" y2="319.6"/><line x1="365.4" y1="205.4" x2="365.4" y2="323.6"/><line x1="347.5" y1="308.6" x2="471.6" y2="308.6"/><line x1="376.4" y1="205.4" x2="376.4" y2="323.6"/><line x1="347.5" y1="297.6" x2="471.6" y2="297.6"/><line x1="387.5" y1="205.4" x2="387.5" y2="323.6"/><line x1="347.5" y1="286.5" x2="471.6" y2="286.5"/><line x1="398.5" y1="205.4" x2="398.5" y2="323.6"/><line x1="347.5" y1="275.5" x2="471.6" y2="275.5"/><line x1="409.5" y1="205.4" x2="409.5" y2="323.6"/><line x1="347.5" y1="264.5" x2="471.6" y2="264.5"/><line x1="420.5" y1="205.4" x2="420.5" y2="323.6"/><line x1="347.5" y1="253.5" x2="471.6" y2="253.5"/><line x1="431.5" y1="205.4" x2="431.5" y2="323.6"/><line x1="347.5" y1="242.5" x2="471.6" y2="242.5"/><line x1="442.6" y1="205.4" x2="442.6" y2="323.6"/><line x1="347.5" y1="231.4" x2="471.6" y2="231.4"/><line x1="453.6" y1="205.4" x2="453.6" y2="323.6"/><line x1="347.5" y1="220.4" x2="471.6" y2="220.4"/><line x1="464.6" y1="205.4" x2="464.6" y2="323.6"/><line x1="347.5" y1="209.4" x2="471.6" y2="209.4"/></g>
<polygon points="354.40,319.60 354.40,318.87 354.40,318.13 354.40,317.40 354.40,316.66 354.40,315.93 356.18,315.93 356.18,315.19 356.18,314.46 356.18,313.72 356.18,312.99 356.18,312.25 356.18,311.52 357.95,311.52 357.95,310.78 357.95,310.05 357.95,309.31 357.95,308.58 357.95,307.85 357.95,307.11 359.73,307.11 359.73,306.38 361.51,306.38 363.29,306.38 363.29,305.64 365.06,305.64 365.06,304.91 366.84,304.91 366.84,304.17 366.84,303.44 368.62,303.44 368.62,302.70 368.62,301.97 368.62,301.23 368.62,300.50 368.62,299.76 368.62,299.03 368.62,298.29 368.62,297.56 368.62,296.83 368.62,296.09 370.40,296.09 370.40,295.36 370.40,294.62 370.40,293.89 370.40,293.15 370.40,292.42 370.40,291.68 370.40,290.95 370.40,290.21 370.40,289.48 370.40,288.74 370.40,288.01 370.40,287.27 370.40,286.54 370.40,285.81 370.40,285.07 370.40,284.34 370.40,283.60 370.40,282.87 370.40,282.13 372.17,282.13 372.17,281.40 372.17,280.66 373.95,280.66 375.73,280.66 377.51,280.66 379.28,280.66 379.28,279.93 379.28,279.19 379.28,278.46 379.28,277.72 379.28,276.99 379.28,276.25 379.28,275.52 379.28,274.79 379.28,274.05 379.28,273.32 379.28,272.58 381.06,272.58 381.06,271.85 381.06,271.11 381.06,270.38 381.06,269.64 382.84,269.64 382.84,268.91 382.84,268.17 382.84,267.44 382.84,266.70 382.84,265.97 384.62,265.97 384.62,265.23 384.62,264.50 384.62,263.77 386.39,263.77 386.39,263.03 386.39,262.30 388.17,262.30 389.95,262.30 389.95,261.56 391.73,261.56 393.50,261.56 393.50,260.83 395.28,260.83 395.28,260.09 395.28,259.36 395.28,258.62 397.06,258.62 397.06,257.89 397.06,257.15 398.84,257.15 398.84,256.42 398.84,255.68 400.61,255.68 400.61,254.95 400.61,254.21 400.61,253.48 400.61,252.75 402.39,252.75 402.39,252.01 402.39,251.28 402.39,250.54 402.39,249.81 404.17,249.81 404.17,249.07 404.17,248.34 404.17,247.60 404.17,246.87 405.95,246.87 405.95,246.13 405.95,245.40 405.95,244.66 405.95,243.93 405.95,243.19 407.72,243.19 407.72,242.46 407.72,241.73 407.72,240.99 409.50,240.99 409.50,240.26 409.50,239.52 411.28,239.52 411.28,238.79 411.28,238.05 413.05,238.05 413.05,237.32 414.83,237.32 414.83,236.58 414.83,235.85 416.61,235.85 416.61,235.11 418.39,235.11 418.39,234.38 420.16,234.38 420.16,233.64 420.16,232.91 420.16,232.17 421.94,232.17 421.94,231.44 421.94,230.71 421.94,229.97 423.72,229.97 423.72,229.24 423.72,228.50 423.72,227.77 425.50,227.77 425.50,227.03 425.50,226.30 427.27,226.30 427.27,225.56 427.27,224.83 429.05,224.83 429.05,224.09 430.83,224.09 432.61,224.09 432.61,223.36 434.38,223.36 434.38,222.62 436.16,222.62 437.94,222.62 439.72,222.62 441.49,222.62 443.27,222.62 445.05,222.62 446.83,222.62 446.83,221.89 448.60,221.89 448.60,221.15 448.60,220.42 450.38,220.42 450.38,219.69 452.16,219.69 452.16,218.95 452.16,218.22 453.94,218.22 453.94,217.48 453.94,216.75 455.71,216.75 455.71,216.01 455.71,215.28 457.49,215.28 457.49,214.54 457.49,213.81 459.27,213.81 459.27,213.07 461.05,213.07 461.05,212.34 461.05,211.60 462.82,211.60 462.82,210.87 462.82,210.13 464.60,210.13 464.60,209.40 464.6,319.6" fill="#d9dbef" stroke="#777" stroke-width="0.6"/>
<line x1="350.4" y1="323.6" x2="469.4" y2="204.6" stroke="#b0b0b0" stroke-width="0.6"/>
<polyline points="354.40,319.60 354.40,318.87 354.40,318.13 354.40,317.40 354.40,316.66 354.40,315.93 356.18,315.93 356.18,315.19 356.18,314.46 356.18,313.72 356.18,312.99 356.18,312.25 356.18,311.52 357.95,311.52 357.95,310.78 357.95,310.05 357.95,309.31 357.95,308.58 357.95,307.85 357.95,307.11 359.73,307.11 359.73,306.38 361.51,306.38 363.29,306.38 363.29,305.64 365.06,305.64 365.06,304.91 366.84,304.91 366.84,304.17 366.84,303.44 368.62,303.44 368.62,302.70 368.62,301.97 368.62,301.23 368.62,300.50 368.62,299.76 368.62,299.03 368.62,298.29 368.62,297.56 368.62,296.83 368.62,296.09 370.40,296.09 370.40,295.36 370.40,294.62 370.40,293.89 370.40,293.15 370.40,292.42 370.40,291.68 370.40,290.95 370.40,290.21 370.40,289.48 370.40,288.74 370.40,288.01 370.40,287.27 370.40,286.54 370.40,285.81 370.40,285.07 370.40,284.34 370.40,283.60 370.40,282.87 370.40,282.13 372.17,282.13 372.17,281.40 372.17,280.66 373.95,280.66 375.73,280.66 377.51,280.66 379.28,280.66 379.28,279.93 379.28,279.19 379.28,278.46 379.28,277.72 379.28,276.99 379.28,276.25 379.28,275.52 379.28,274.79 379.28,274.05 379.28,273.32 379.28,272.58 381.06,272.58 381.06,271.85 381.06,271.11 381.06,270.38 381.06,269.64 382.84,269.64 382.84,268.91 382.84,268.17 382.84,267.44 382.84,266.70 382.84,265.97 384.62,265.97 384.62,265.23 384.62,264.50 384.62,263.77 386.39,263.77 386.39,263.03 386.39,262.30 388.17,262.30 389.95,262.30 389.95,261.56 391.73,261.56 393.50,261.56 393.50,260.83 395.28,260.83 395.28,260.09 395.28,259.36 395.28,258.62 397.06,258.62 397.06,257.89 397.06,257.15 398.84,257.15 398.84,256.42 398.84,255.68 400.61,255.68 400.61,254.95 400.61,254.21 400.61,253.48 400.61,252.75 402.39,252.75 402.39,252.01 402.39,251.28 402.39,250.54 402.39,249.81 404.17,249.81 404.17,249.07 404.17,248.34 404.17,247.60 404.17,246.87 405.95,246.87 405.95,246.13 405.95,245.40 405.95,244.66 405.95,243.93 405.95,243.19 407.72,243.19 407.72,242.46 407.72,241.73 407.72,240.99 409.50,240.99 409.50,240.26 409.50,239.52 411.28,239.52 411.28,238.79 411.28,238.05 413.05,238.05 413.05,237.32 414.83,237.32 414.83,236.58 414.83,235.85 416.61,235.85 416.61,235.11 418.39,235.11 418.39,234.38 420.16,234.38 420.16,233.64 420.16,232.91 420.16,232.17 421.94,232.17 421.94,231.44 421.94,230.71 421.94,229.97 423.72,229.97 423.72,229.24 423.72,228.50 423.72,227.77 425.50,227.77 425.50,227.03 425.50,226.30 427.27,226.30 427.27,225.56 427.27,224.83 429.05,224.83 429.05,224.09 430.83,224.09 432.61,224.09 432.61,223.36 434.38,223.36 434.38,222.62 436.16,222.62 437.94,222.62 439.72,222.62 441.49,222.62 443.27,222.62 445.05,222.62 446.83,222.62 446.83,221.89 448.60,221.89 448.60,221.15 448.60,220.42 450.38,220.42 450.38,219.69 452.16,219.69 452.16,218.95 452.16,218.22 453.94,218.22 453.94,217.48 453.94,216.75 455.71,216.75 455.71,216.01 455.71,215.28 457.49,215.28 457.49,214.54 457.49,213.81 459.27,213.81 459.27,213.07 461.05,213.07 461.05,212.34 461.05,211.60 462.82,211.60 462.82,210.87 462.82,210.13 464.60,210.13 464.60,209.40" fill="none" stroke="#363b8a" stroke-width="1.05" stroke-linejoin="round"/>
<path d="M347.0 204.5H472.0" stroke="#999" stroke-width="1"/>
<path d="M347.5 204.5V323.5" stroke="#505050" stroke-width="1"/>
<path d="M471.5 204.5V324.0" stroke="#666" stroke-width="1"/>
<path d="M347.0 323.5H472.0" stroke="#505050" stroke-width="1"/>
<line x1="354.4" y1="323.6" x2="354.4" y2="326.5" stroke="#555" stroke-width="0.7"/>
<text x="354.4" y="333.6" font-size="7.4" text-anchor="middle" fill="#4a4a4a" stroke="#4a4a4a" stroke-width="0.15">0.0</text>
<line x1="344.6" y1="319.6" x2="347.5" y2="319.6" stroke="#555" stroke-width="0.7"/>
<text x="343.0" y="320.6" font-size="7.4" text-anchor="middle" fill="#4a4a4a" stroke="#4a4a4a" stroke-width="0.15" transform="rotate(-90 343.0 320.6)">0.0</text>
<line x1="376.4" y1="323.6" x2="376.4" y2="326.5" stroke="#555" stroke-width="0.7"/>
<text x="376.4" y="333.6" font-size="7.4" text-anchor="middle" fill="#4a4a4a" stroke="#4a4a4a" stroke-width="0.15">0.2</text>
<line x1="344.6" y1="297.6" x2="347.5" y2="297.6" stroke="#555" stroke-width="0.7"/>
<text x="343.0" y="298.6" font-size="7.4" text-anchor="middle" fill="#4a4a4a" stroke="#4a4a4a" stroke-width="0.15" transform="rotate(-90 343.0 298.6)">0.2</text>
<line x1="398.5" y1="323.6" x2="398.5" y2="326.5" stroke="#555" stroke-width="0.7"/>
<text x="398.5" y="333.6" font-size="7.4" text-anchor="middle" fill="#4a4a4a" stroke="#4a4a4a" stroke-width="0.15">0.4</text>
<line x1="344.6" y1="275.5" x2="347.5" y2="275.5" stroke="#555" stroke-width="0.7"/>
<text x="343.0" y="276.5" font-size="7.4" text-anchor="middle" fill="#4a4a4a" stroke="#4a4a4a" stroke-width="0.15" transform="rotate(-90 343.0 276.5)">0.4</text>
<line x1="420.5" y1="323.6" x2="420.5" y2="326.5" stroke="#555" stroke-width="0.7"/>
<text x="420.5" y="333.6" font-size="7.4" text-anchor="middle" fill="#4a4a4a" stroke="#4a4a4a" stroke-width="0.15">0.6</text>
<line x1="344.6" y1="253.5" x2="347.5" y2="253.5" stroke="#555" stroke-width="0.7"/>
<text x="343.0" y="254.5" font-size="7.4" text-anchor="middle" fill="#4a4a4a" stroke="#4a4a4a" stroke-width="0.15" transform="rotate(-90 343.0 254.5)">0.6</text>
<line x1="442.6" y1="323.6" x2="442.6" y2="326.5" stroke="#555" stroke-width="0.7"/>
<text x="442.6" y="333.6" font-size="7.4" text-anchor="middle" fill="#4a4a4a" stroke="#4a4a4a" stroke-width="0.15">0.8</text>
<line x1="344.6" y1="231.4" x2="347.5" y2="231.4" stroke="#555" stroke-width="0.7"/>
<text x="343.0" y="232.4" font-size="7.4" text-anchor="middle" fill="#4a4a4a" stroke="#4a4a4a" stroke-width="0.15" transform="rotate(-90 343.0 232.4)">0.8</text>
<line x1="464.6" y1="323.6" x2="464.6" y2="326.5" stroke="#555" stroke-width="0.7"/>
<text x="464.6" y="333.6" font-size="7.4" text-anchor="middle" fill="#4a4a4a" stroke="#4a4a4a" stroke-width="0.15">1.0</text>
<line x1="344.6" y1="209.4" x2="347.5" y2="209.4" stroke="#555" stroke-width="0.7"/>
<text x="343.0" y="210.4" font-size="7.4" text-anchor="middle" fill="#4a4a4a" stroke="#4a4a4a" stroke-width="0.15" transform="rotate(-90 343.0 210.4)">1.0</text>
<text x="409.4" y="344.2" font-size="7.4" text-anchor="middle" fill="#222" stroke="#222" stroke-width="0.15">1-Specificity (False positive rate)</text>
<text x="333.0" y="267.2" font-size="7.55" text-anchor="middle" fill="#222" stroke="#222" stroke-width="0.15" transform="rotate(-90 333.0 267.2)">Sensitivity (True positive rate)</text>
<text x="397.1" y="281.0" font-size="7.4" text-anchor="start" fill="#222" stroke="#222" stroke-width="0.15">AUC = 0.74</text>
<text x="397.1" y="289.9" font-size="7.4" text-anchor="start" fill="#222" stroke="#222" stroke-width="0.15">95% CI: 0.65 - 0.83</text>
<text x="512.0" y="203.3" font-size="17" fill="#000">I</text>
<g fill="none" stroke="#cfcfcf" stroke-width="0.35" stroke-opacity="0.85"><path d="M540.7 321.6h1.7v-2.4h1.7v-2.4v-0.8h1.7h1.7h1.7h1.7h1.7v-1.6v-2.4h1.7h1.7h1.7h1.7h1.7h1.7v-4.0h1.7v-0.8v-2.4h1.7v-1.6v-1.6h1.7v-0.8v-2.4h1.7v-0.8h1.7v-1.6v-4.0h1.7h1.7v-2.4h1.7v-4.0v-5.7h1.7v-0.8h1.7h1.7h1.7h1.7v-0.8v-0.8h1.7h1.7v-1.6h1.7v-0.8v-0.8h1.7v-0.8v-2.4h1.7v-2.4h1.7v-0.8h1.7v-0.8h1.7v-2.4v-0.8h1.7v-0.8h1.7h1.7h1.7v-0.8h1.7v-2.4h1.7v-0.8v-4.0h1.7v-0.8v-2.4h1.7h1.7h1.7h1.7h1.7h1.7h1.7v-0.8h1.7h1.7h1.7v-0.8v-0.8h1.7v-2.4h1.7v-3.2h1.7v-3.2h1.7v-1.6v-3.2h1.7v-2.4h1.7h1.7h1.7h1.7h1.7v-1.6v-0.8h1.7h1.7v-2.4h1.7v-6.5v-4.0h1.7h1.7h1.7h1.7h1.7v-4.0h1.7"/><path d="M540.4 321.0v-2.3v-0.8h1.6v-4.6v-2.3h1.6h1.6h1.6h1.6h1.6h1.6h1.6v-0.8h1.6h1.6h1.6h1.6h1.6v-0.8v-2.3h1.6v-1.5h1.6v-1.5v-0.8h1.6v-1.5h1.6h1.6v-1.5h1.6v-2.3h1.6h1.6h1.6h1.6h1.6h1.6h1.6h1.6h1.6h1.6v-2.3h1.6v-1.5h1.6v-3.1v-3.8h1.6v-3.8h1.6v-3.1h1.6v-0.8h1.6v-0.8h1.6v-2.3h1.6v-1.5h1.6v-4.6h1.6v-3.1h1.6v-2.3v-3.8h1.6v-1.5h1.6h1.6v-1.5v-2.3h1.6v-3.1v-3.8h1.6v-1.5h1.6h1.6h1.6h1.6h1.6h1.6h1.6h1.6h1.6h1.6h1.6v-0.8v-1.5h1.6h1.6h1.6h1.6h1.6h1.6v-1.5h1.6v-1.5h1.6h1.6h1.6h1.6v-3.1v-2.3h1.6v-4.6h1.6v-1.5v-5.4h1.6v-5.4h1.6v-1.5v-0.8h1.6v-3.8h1.6h1.6v-0.8"/><path d="M540.7 321.2v-2.6v-0.9h1.8v-0.9h1.8v-2.6v-0.9h1.8v-1.7v-0.9h1.8v-0.9h1.8h1.8v-3.4h1.8v-1.7h1.8v-0.9v-1.7v-3.4h1.8v-2.6v-0.9h1.8h1.8v-2.6h1.8v-2.6v-0.9h1.8v-1.7v-1.7v-5.1h1.8v-0.9h1.8v-1.7h1.8v-0.9h1.8v-1.7v-0.9v-0.9h1.8v-2.6v-0.9h1.8v-4.3h1.8h1.8v-2.6h1.8v-4.3v-1.7h1.8v-0.9h1.8h1.8v-0.9h1.8v-3.4v-2.6h1.8v-0.9v-1.7h1.8v-3.4v-1.7h1.8v-0.9h1.8h1.8h1.8h1.8h1.8h1.8v-4.3h1.8v-0.9h1.8h1.8h1.8h1.8h1.8h1.8h1.8v-0.9h1.8v-4.3v-4.3h1.8v-3.4h1.8v-1.7h1.8h1.8v-1.7h1.8h1.8h1.8h1.8v-0.9h1.8v-2.6h1.8h1.8h1.8h1.8h1.8h1.8h1.8h1.8h1.8h1.8v-0.9h1.8h1.8h1.8h1.8v-3.4"/><path d="M539.9 321.2v-4.5h2.0v-7.2h2.0v-2.7v-3.6v-0.9h2.0v-3.6h2.0h2.0h2.0h2.0v-0.9h2.0v-1.8v-0.9h2.0v-0.9v-3.6h2.0h2.0v-3.6h2.0h2.0h2.0h2.0v-0.9v-3.6h2.0h2.0h2.0v-0.9h2.0h2.0v-0.9h2.0v-0.9v-2.7h2.0v-0.9v-2.7h2.0v-0.9h2.0h2.0h2.0h2.0h2.0h2.0v-1.8v-2.7h2.0h2.0h2.0v-1.8h2.0h2.0h2.0h2.0v-0.9v-4.5h2.0v-2.7v-3.6v-1.8h2.0v-3.6h2.0h2.0v-0.9v-0.9h2.0h2.0h2.0h2.0v-0.9h2.0v-2.7h2.0v-2.7v-2.7h2.0v-1.8h2.0v-0.9h2.0v-1.8h2.0h2.0v-2.7h2.0v-0.9v-1.8v-0.9h2.0v-0.9h2.0v-1.8v-0.9v-3.6h2.0v-1.8h2.0v-0.9v-4.5h2.0h2.0h2.0h2.0h2.0"/><path d="M540.7 321.6v-1.9h1.9v-5.7h1.9h1.9h1.9v-1.0h1.9v-1.0h1.9h1.9h1.9v-1.0h1.9h1.9h1.9h1.9v-1.0v-2.9h1.9v-1.0h1.9v-1.0v-2.9h1.9v-1.9v-1.0h1.9v-2.9v-2.9h1.9v-3.8v-1.0h1.9h1.9v-1.0h1.9v-1.9v-2.9h1.9v-1.9v-1.9h1.9h1.9v-1.0v-1.0v-2.9h1.9h1.9v-1.9v-1.9h1.9v-1.9v-4.8h1.9v-3.8h1.9h1.9v-1.9v-1.9h1.9h1.9v-1.9h1.9v-4.8h1.9v-3.8h1.9h1.9h1.9h1.9h1.9h1.9v-1.9h1.9v-2.9v-1.0h1.9v-1.9v-1.9h1.9v-1.9h1.9h1.9h1.9h1.9v-1.0v-3.8h1.9v-1.9v-1.9h1.9h1.9v-1.0h1.9h1.9h1.9h1.9h1.9h1.9v-1.0v-2.9v-3.8h1.9h1.9v-2.9h1.9h1.9v-1.0h1.9h1.9v-1.0h1.9h1.9h1.9"/><path d="M540.4 321.7v-5.2h1.7v-2.2v-2.2h1.7v-5.9h1.7h1.7h1.7h1.7h1.7h1.7h1.7h1.7h1.7v-2.2h1.7h1.7h1.7h1.7h1.7h1.7h1.7v-1.5h1.7v-0.7h1.7v-0.7h1.7h1.7h1.7h1.7v-0.7h1.7v-1.5v-3.7h1.7v-3.7h1.7v-1.5h1.7v-1.5h1.7v-0.7h1.7h1.7v-0.7h1.7v-1.5v-3.0h1.7v-3.7h1.7v-1.5v-1.5h1.7v-2.2h1.7h1.7v-0.7h1.7v-1.5v-0.7h1.7v-3.0v-0.7h1.7h1.7h1.7v-2.2v-0.7h1.7v-3.0h1.7v-0.7v-3.0h1.7v-0.7h1.7h1.7h1.7h1.7h1.7h1.7h1.7h1.7v-2.2h1.7h1.7v-0.7h1.7h1.7v-0.7h1.7v-3.0v-1.5h1.7v-1.5v-2.2h1.7v-3.7v-1.5h1.7v-3.7h1.7h1.7v-1.5v-1.5h1.7v-5.2v-3.0h1.7v-0.7v-5.2h1.7v-1.5v-1.5h1.7v-2.2h1.7h1.7h1.7h1.7h1.7h1.7v-0.7"/><path d="M540.0 321.7h1.6h1.6h1.6v-5.7h1.6v-0.8h1.6h1.6h1.6h1.6v-4.9v-1.6h1.6h1.6v-3.3h1.6v-0.8h1.6v-3.3h1.6h1.6h1.6h1.6h1.6v-1.6v-4.9h1.6v-1.6v-3.3h1.6h1.6h1.6v-0.8h1.6v-2.4h1.6h1.6h1.6h1.6h1.6h1.6h1.6h1.6h1.6h1.6h1.6h1.6h1.6v-0.8h1.6h1.6v-1.6h1.6h1.6v-1.6h1.6v-4.9v-3.3h1.6v-1.6v-2.4h1.6h1.6v-1.6h1.6h1.6h1.6v-0.8h1.6v-0.8v-3.3h1.6h1.6h1.6v-3.3v-1.6h1.6v-1.6h1.6v-0.8v-3.3h1.6v-1.6h1.6v-0.8h1.6v-0.8h1.6v-3.3h1.6h1.6v-0.8h1.6v-1.6v-2.4h1.6h1.6h1.6h1.6h1.6h1.6v-0.8v-2.4h1.6v-3.3v-2.4h1.6v-0.8h1.6v-0.8h1.6v-3.3v-3.3h1.6h1.6v-0.8v-4.1h1.6v-2.4v-0.8h1.6h1.6v-3.3"/><path d="M540.3 321.1v-4.3h1.9h1.9h1.9v-0.9h1.9v-1.7v-0.9h1.9v-0.9v-5.2h1.9v-0.9v-1.7h1.9h1.9h1.9h1.9h1.9h1.9h1.9v-0.9v-3.4v-1.7h1.9h1.9h1.9v-0.9v-2.6v-1.7h1.9v-3.4h1.9v-0.9h1.9h1.9v-1.7v-0.9h1.9v-5.2h1.9h1.9v-0.9v-4.3v-2.6h1.9v-0.9h1.9h1.9v-2.6h1.9v-0.9h1.9v-0.9h1.9h1.9v-1.7h1.9v-4.3v-3.4h1.9h1.9h1.9h1.9h1.9v-0.9v-3.4h1.9h1.9h1.9h1.9v-0.9v-1.7h1.9v-1.7v-2.6h1.9v-1.7h1.9h1.9h1.9h1.9v-0.9h1.9v-1.7v-3.4h1.9v-2.6v-3.4h1.9h1.9v-3.4h1.9h1.9v-0.9v-0.9h1.9v-1.7v-4.3h1.9h1.9h1.9h1.9h1.9h1.9v-1.7v-3.4h1.9v-4.3h1.9v-0.9h1.9h1.9h1.9h1.9"/><path d="M539.9 321.4h1.8h1.8h1.8h1.8h1.8h1.8h1.8h1.8v-0.9h1.8h1.8v-1.8h1.8h1.8v-1.8h1.8h1.8h1.8v-1.8h1.8v-0.9v-1.8h1.8v-0.9h1.8h1.8v-3.6h1.8h1.8v-0.9v-0.9h1.8v-4.5h1.8h1.8v-0.9h1.8v-4.5h1.8v-1.8h1.8h1.8v-3.6v-0.9h1.8v-3.6v-0.9v-4.5h1.8v-1.8v-0.9h1.8h1.8h1.8v-5.4v-0.9h1.8v-1.8h1.8v-1.8h1.8v-2.7h1.8v-0.9v-3.6h1.8h1.8h1.8h1.8h1.8v-0.9h1.8v-3.6h1.8v-4.5v-3.6h1.8v-2.7v-3.6h1.8v-0.9h1.8v-0.9h1.8h1.8h1.8v-4.5v-2.7h1.8h1.8v-1.8h1.8h1.8h1.8h1.8h1.8v-2.7h1.8v-3.6h1.8v-4.5v-0.9v-2.7h1.8v-1.8h1.8v-1.8h1.8h1.8h1.8h1.8h1.8h1.8"/><path d="M540.5 321.2v-0.9h2.0h2.0v-0.9h2.0v-4.3h2.0v-2.6v-0.9h2.0v-2.6h2.0v-1.7v-0.9h2.0v-0.9v-0.9h2.0h2.0h2.0h2.0v-4.3h2.0v-0.9h2.0v-3.4h2.0v-0.9v-3.4h2.0v-0.9h2.0h2.0h2.0h2.0v-2.6h2.0h2.0v-0.9h2.0v-0.9h2.0v-0.9h2.0v-1.7v-1.7h2.0h2.0v-0.9v-0.9h2.0v-3.4h2.0v-1.7h2.0h2.0h2.0v-0.9h2.0v-2.6v-1.7h2.0v-0.9h2.0h2.0v-0.9v-1.7h2.0h2.0h2.0v-3.4v-0.9h2.0v-1.7v-2.6h2.0h2.0v-1.7v-1.7h2.0v-2.6h2.0v-0.9v-0.9h2.0v-1.7v-2.6h2.0v-0.9h2.0h2.0v-0.9h2.0v-2.6h2.0v-1.7h2.0h2.0v-0.9h2.0v-2.6v-0.9h2.0v-0.9v-3.4h2.0h2.0h2.0v-0.9h2.0v-0.9v-3.4h2.0h2.0v-5.1v-1.7h2.0v-4.3v-3.4h2.0"/><path d="M540.7 321.4h2.1h2.1v-0.8h2.1v-0.8h2.1h2.1h2.1h2.1h2.1v-0.8h2.1v-4.0v-0.8v-3.2h2.1h2.1h2.1h2.1h2.1h2.1h2.1v-2.4h2.1v-1.6v-2.4v-1.6h2.1v-1.6v-0.8h2.1v-4.8v-0.8h2.1v-1.6v-4.0v-4.0h2.1v-2.4h2.1v-2.4v-0.8v-1.6h2.1v-1.6v-1.6h2.1v-4.0v-3.2h2.1v-4.8v-4.8h2.1v-1.6h2.1v-4.0h2.1h2.1h2.1h2.1h2.1h2.1h2.1h2.1h2.1v-0.8v-0.8h2.1v-2.4v-4.0h2.1v-0.8h2.1h2.1h2.1h2.1h2.1h2.1h2.1h2.1v-1.6h2.1v-4.0v-2.4h2.1v-0.8v-4.0h2.1h2.1v-0.8v-2.4h2.1v-1.6h2.1v-2.4v-3.2h2.1v-0.8v-1.6h2.1h2.1v-2.4h2.1v-1.6h2.1h2.1v-1.6"/><path d="M540.8 321.9v-0.7h2.1v-1.4h2.1v-3.4h2.1h2.1h2.1v-4.1h2.1h2.1h2.1v-2.1h2.1h2.1v-8.2h2.1v-4.1v-2.7h2.1v-0.7h2.1h2.1h2.1h2.1h2.1v-6.2v-0.7h2.1v-0.7h2.1v-0.7h2.1h2.1h2.1v-2.1h2.1v-0.7h2.1v-1.4v-0.7h2.1v-2.1v-1.4h2.1v-2.7h2.1h2.1v-0.7h2.1v-0.7h2.1v-1.4v-0.7h2.1v-1.4h2.1v-2.1h2.1h2.1v-1.4v-2.7h2.1v-2.7v-2.7v-2.1h2.1v-1.4h2.1v-4.1v-1.4h2.1v-2.1v-0.7h2.1v-3.4h2.1h2.1v-4.8h2.1v-1.4h2.1v-3.4h2.1v-1.4h2.1v-2.7h2.1v-2.1h2.1v-2.1h2.1v-0.7v-7.6h2.1h2.1h2.1h2.1h2.1h2.1v-2.1v-2.1h2.1h2.1h2.1"/><path d="M540.8 321.1h2.1v-1.9v-3.7h2.1v-2.8h2.1v-4.7h2.1h2.1h2.1h2.1h2.1h2.1h2.1h2.1h2.1h2.1h2.1h2.1h2.1h2.1h2.1h2.1h2.1v-2.8v-2.8h2.1v-4.7h2.1h2.1v-5.6h2.1v-1.9h2.1v-0.9v-2.8h2.1v-1.9h2.1v-1.9v-2.8v-1.9h2.1v-4.7h2.1h2.1v-0.9h2.1v-0.9h2.1v-0.9v-0.9h2.1v-4.7v-0.9h2.1v-0.9h2.1v-1.9v-0.9v-2.8h2.1v-1.9h2.1v-0.9v-2.8h2.1v-2.8h2.1v-2.8h2.1v-0.9h2.1v-1.9h2.1v-2.8h2.1h2.1v-0.9h2.1v-3.7v-2.8h2.1v-0.9h2.1v-2.8h2.1v-1.9v-1.9v-0.9h2.1h2.1h2.1v-1.9v-4.7h2.1h2.1v-0.9h2.1v-4.7h2.1h2.1h2.1"/><path d="M540.1 321.9v-1.7h2.0v-0.8h2.0h2.0h2.0v-0.8h2.0h2.0h2.0h2.0h2.0h2.0h2.0h2.0h2.0v-3.4h2.0v-2.5h2.0v-2.5h2.0h2.0h2.0h2.0h2.0v-1.7h2.0v-3.4h2.0h2.0h2.0v-0.8v-0.8h2.0v-2.5h2.0v-0.8h2.0h2.0v-5.1v-0.8h2.0v-2.5h2.0v-1.7h2.0v-2.5h2.0h2.0v-2.5v-0.8h2.0v-0.8v-0.8h2.0v-2.5h2.0h2.0v-0.8h2.0v-0.8v-0.8h2.0v-3.4h2.0v-1.7v-2.5h2.0v-4.2v-1.7h2.0h2.0v-0.8v-1.7h2.0v-2.5v-5.1v-2.5h2.0v-5.1v-2.5h2.0v-2.5h2.0v-2.5v-1.7h2.0h2.0v-4.2h2.0v-0.8v-5.1v-2.5h2.0h2.0h2.0v-2.5v-1.7h2.0v-2.5h2.0h2.0h2.0h2.0h2.0v-0.8h2.0v-2.5h2.0"/><path d="M540.6 321.6v-0.7h1.9v-2.9h1.9v-1.4h1.9h1.9h1.9h1.9h1.9v-0.7v-2.9h1.9v-2.2h1.9v-0.7h1.9v-0.7v-3.6h1.9v-2.2h1.9h1.9h1.9h1.9h1.9h1.9h1.9v-2.9h1.9h1.9h1.9h1.9v-0.7v-0.7h1.9v-3.6h1.9h1.9h1.9v-2.2v-1.4h1.9h1.9v-0.7v-0.7h1.9v-0.7v-2.2h1.9v-4.3h1.9v-0.7h1.9v-2.9v-2.9v-3.6h1.9v-2.2v-0.7h1.9v-1.4v-0.7h1.9v-3.6h1.9v-4.3v-0.7v-0.7h1.9h1.9h1.9h1.9h1.9h1.9h1.9h1.9h1.9v-2.9v-2.2h1.9v-0.7v-2.9h1.9v-4.3h1.9v-2.9h1.9v-2.2v-4.3v-2.2h1.9h1.9h1.9v-1.4v-2.9h1.9v-3.6h1.9h1.9v-1.4h1.9v-1.4h1.9v-2.2v-5.0h1.9h1.9h1.9h1.9v-3.6h1.9h1.9h1.9h1.9"/><path d="M540.8 321.6h1.7v-8.0h1.7h1.7v-1.6v-1.6h1.7h1.7h1.7v-2.4h1.7v-1.6v-1.6h1.7h1.7h1.7h1.7h1.7v-0.8h1.7h1.7v-4.8h1.7v-2.4h1.7v-1.6h1.7v-1.6v-3.2h1.7v-1.6v-2.4v-0.8h1.7v-3.2v-4.0h1.7v-2.4h1.7h1.7v-1.6h1.7v-1.6h1.7v-3.2h1.7v-2.4v-4.0h1.7h1.7h1.7h1.7v-1.6h1.7h1.7h1.7h1.7v-0.8h1.7v-0.8v-0.8h1.7v-3.2h1.7v-3.2h1.7h1.7h1.7v-0.8h1.7h1.7h1.7v-0.8h1.7v-1.6h1.7v-0.8v-3.2h1.7h1.7v-0.8v-1.6h1.7v-1.6v-0.8h1.7h1.7h1.7h1.7v-0.8v-1.6h1.7h1.7v-0.8v-2.4h1.7v-2.4v-1.6h1.7v-2.4h1.7h1.7v-0.8h1.7v-2.4h1.7v-1.6v-1.6h1.7v-0.8h1.7v-1.6v-0.8h1.7h1.7h1.7h1.7h1.7v-1.6h1.7v-1.6v-0.8h1.7v-0.8v-1.6h1.7h1.7h1.7"/><path d="M540.5 321.0h1.8h1.8h1.8v-3.5h1.8v-0.9h1.8h1.8v-0.9v-1.8h1.8h1.8h1.8h1.8h1.8h1.8v-4.4v-3.5h1.8v-1.8h1.8v-1.8h1.8v-1.8h1.8h1.8h1.8h1.8v-0.9h1.8v-2.6h1.8v-0.9h1.8h1.8v-1.8h1.8v-2.6h1.8h1.8v-0.9h1.8h1.8h1.8v-2.6v-3.5h1.8v-2.6h1.8v-3.5h1.8v-1.8v-4.4h1.8v-0.9h1.8h1.8v-1.8h1.8h1.8v-0.9v-2.6h1.8v-0.9v-2.6h1.8v-2.6v-1.8v-2.6h1.8h1.8h1.8h1.8h1.8v-0.9v-2.6h1.8h1.8h1.8h1.8h1.8h1.8v-0.9v-2.6h1.8v-2.6h1.8h1.8h1.8v-2.6h1.8v-0.9h1.8v-2.6h1.8v-1.8v-5.3h1.8h1.8h1.8v-2.6h1.8v-2.6h1.8v-2.6v-0.9h1.8v-0.9v-0.9h1.8v-2.6v-0.9h1.8v-4.4h1.8h1.8h1.8v-1.8"/><path d="M540.5 321.6v-0.9v-5.4h2.1v-3.6h2.1h2.1v-3.6v-1.8h2.1v-4.5v-3.6h2.1h2.1h2.1h2.1h2.1h2.1v-2.7h2.1v-1.8v-0.9h2.1v-1.8h2.1v-1.8h2.1h2.1h2.1v-0.9v-2.7h2.1v-2.7v-0.9h2.1v-1.8h2.1v-3.6h2.1h2.1h2.1v-0.9v-1.8h2.1h2.1v-0.9h2.1v-3.6h2.1h2.1h2.1h2.1v-0.9h2.1v-1.8v-2.7h2.1v-1.8h2.1v-2.7h2.1v-3.6h2.1v-4.5v-1.8v-2.7h2.1h2.1v-0.9h2.1h2.1h2.1h2.1h2.1h2.1h2.1v-0.9h2.1v-0.9h2.1v-1.8v-3.6h2.1v-2.7v-1.8v-1.8h2.1h2.1v-1.8h2.1h2.1v-0.9h2.1h2.1v-0.9h2.1h2.1h2.1v-2.7v-0.9h2.1v-4.5v-0.9h2.1h2.1v-6.3"/><path d="M540.8 321.9h1.9v-2.0v-1.0h1.9v-2.9h1.9h1.9h1.9h1.9h1.9h1.9v-1.0h1.9h1.9h1.9v-3.9h1.9h1.9h1.9h1.9v-2.0h1.9h1.9v-1.0h1.9v-1.0v-1.0h1.9v-2.0v-2.9h1.9h1.9h1.9h1.9v-4.9h1.9v-1.0v-1.0v-1.0h1.9v-2.0v-1.0h1.9v-1.0h1.9h1.9h1.9v-2.0v-2.0h1.9v-3.9h1.9h1.9v-2.9v-2.0h1.9v-2.0v-2.9h1.9v-2.0v-3.9v-1.0h1.9v-4.9h1.9v-1.0h1.9v-1.0v-1.0h1.9h1.9h1.9h1.9h1.9v-2.0v-2.0h1.9v-3.9h1.9v-2.9v-1.0h1.9v-1.0v-2.9h1.9h1.9h1.9h1.9v-2.0h1.9v-3.9h1.9v-2.0v-1.0h1.9v-2.0v-1.0h1.9h1.9v-2.0h1.9v-4.9h1.9h1.9h1.9v-1.0h1.9h1.9v-2.9v-1.0h1.9v-3.9v-1.0h1.9h1.9"/><path d="M540.2 321.7v-1.0h1.6v-3.9h1.6v-6.9h1.6v-5.9h1.6v-2.0h1.6v-3.0h1.6h1.6v-2.0v-3.9h1.6v-2.0v-3.0h1.6h1.6v-3.0h1.6h1.6h1.6h1.6v-2.0v-1.0h1.6v-2.0h1.6h1.6v-3.9h1.6h1.6h1.6h1.6v-2.0h1.6v-3.0v-1.0h1.6v-2.0v-3.9h1.6v-2.0h1.6h1.6h1.6h1.6h1.6h1.6h1.6v-3.9h1.6v-1.0h1.6h1.6v-1.0v-2.0h1.6v-3.0v-3.0h1.6v-3.9v-2.0h1.6v-1.0v-1.0h1.6h1.6v-1.0h1.6h1.6h1.6h1.6h1.6v-3.0h1.6h1.6v-3.0h1.6v-2.0v-1.0h1.6v-2.0v-1.0h1.6v-1.0h1.6h1.6v-2.0v-1.0h1.6v-3.9v-3.0h1.6v-1.0h1.6h1.6h1.6h1.6h1.6h1.6h1.6h1.6h1.6h1.6h1.6h1.6h1.6h1.6h1.6h1.6h1.6h1.6v-1.0h1.6v-2.0h1.6h1.6"/><path d="M540.5 321.0v-6.3v-1.6h1.7h1.7v-3.2h1.7h1.7v-1.6v-0.8h1.7v-2.4v-3.2h1.7h1.7h1.7v-0.8h1.7v-1.6h1.7h1.7h1.7h1.7v-0.8h1.7v-0.8h1.7v-1.6v-0.8h1.7v-1.6h1.7v-1.6h1.7v-2.4v-0.8v-3.2h1.7v-0.8h1.7h1.7h1.7v-3.2h1.7v-0.8h1.7v-1.6h1.7v-0.8v-2.4h1.7v-3.2h1.7v-5.5v-1.6h1.7h1.7v-0.8h1.7h1.7h1.7h1.7h1.7h1.7h1.7v-0.8v-2.4v-1.6h1.7v-1.6h1.7v-1.6h1.7h1.7h1.7v-1.6v-3.2h1.7v-0.8h1.7h1.7v-1.6h1.7h1.7v-1.6v-0.8h1.7v-2.4h1.7v-0.8h1.7h1.7v-0.8h1.7h1.7h1.7h1.7h1.7h1.7h1.7h1.7h1.7v-0.8h1.7h1.7v-1.6v-4.0h1.7v-4.8h1.7h1.7h1.7v-3.2v-4.0h1.7h1.7v-0.8h1.7h1.7v-4.8v-2.4h1.7v-4.8h1.7h1.7h1.7v-0.8"/><path d="M540.0 321.3v-6.8v-2.6h1.9h1.9h1.9v-3.4v-1.7h1.9v-3.4h1.9h1.9h1.9h1.9h1.9h1.9h1.9h1.9h1.9h1.9h1.9v-0.9h1.9h1.9h1.9v-1.7v-4.3v-0.9h1.9h1.9v-0.9h1.9v-0.9v-2.6h1.9h1.9h1.9v-2.6h1.9h1.9h1.9h1.9h1.9h1.9h1.9h1.9v-0.9h1.9v-1.7h1.9v-1.7v-2.6v-0.9h1.9v-1.7v-0.9h1.9v-1.7v-2.6h1.9v-2.6h1.9v-4.3v-2.6h1.9v-0.9h1.9v-0.9h1.9h1.9v-0.9v-1.7h1.9v-1.7v-0.9h1.9h1.9v-0.9v-0.9h1.9v-2.6v-2.6h1.9v-3.4v-2.6v-2.6h1.9v-2.6v-0.9h1.9v-1.7v-3.4h1.9v-4.3h1.9v-2.6v-3.4h1.9v-4.3v-2.6v-0.9h1.9h1.9v-1.7v-1.7h1.9h1.9h1.9h1.9h1.9h1.9h1.9h1.9h1.9"/><path d="M540.4 321.7h1.8h1.8h1.8v-2.5v-2.5h1.8h1.8h1.8h1.8v-1.7h1.8v-2.5h1.8h1.8h1.8v-4.2v-0.8h1.8v-1.7h1.8v-1.7h1.8v-2.5h1.8v-0.8h1.8h1.8h1.8h1.8v-1.7v-0.8h1.8v-2.5h1.8v-4.2h1.8v-3.4h1.8h1.8h1.8h1.8h1.8h1.8h1.8v-3.4v-0.8h1.8h1.8v-5.0v-0.8h1.8v-0.8h1.8v-4.2h1.8v-1.7h1.8v-0.8h1.8v-3.4h1.8h1.8v-1.7v-0.8v-6.7h1.8v-2.5h1.8h1.8h1.8h1.8v-0.8h1.8v-0.8h1.8v-2.5h1.8v-3.4v-0.8h1.8v-4.2h1.8v-2.5h1.8h1.8v-1.7v-0.8h1.8v-0.8h1.8v-3.4v-1.7h1.8v-2.5h1.8h1.8h1.8h1.8h1.8h1.8h1.8h1.8v-0.8h1.8v-0.8h1.8v-0.8v-1.7h1.8h1.8v-4.2h1.8v-5.9h1.8v-1.7"/><path d="M539.9 321.6v-1.6v-3.3h1.7v-4.1v-2.4h1.7v-1.6h1.7v-4.9v-0.8h1.7h1.7h1.7h1.7h1.7h1.7h1.7h1.7h1.7v-4.1v-3.3h1.7h1.7h1.7h1.7h1.7v-2.4v-2.4v-1.6h1.7v-0.8h1.7v-0.8h1.7h1.7h1.7h1.7h1.7h1.7v-0.8h1.7h1.7h1.7h1.7h1.7v-0.8h1.7v-1.6h1.7v-1.6v-1.6h1.7h1.7v-0.8v-4.1h1.7v-2.4v-2.4h1.7v-0.8v-4.1h1.7h1.7h1.7v-1.6h1.7v-0.8v-3.3v-0.8h1.7v-0.8h1.7v-0.8h1.7v-1.6h1.7h1.7h1.7v-2.4v-2.4h1.7v-0.8v-1.6h1.7h1.7h1.7v-0.8h1.7h1.7v-4.1v-3.3h1.7h1.7v-1.6h1.7h1.7h1.7h1.7v-3.3v-1.6h1.7v-2.4v-0.8h1.7h1.7v-2.4v-4.9h1.7v-4.1h1.7v-0.8h1.7v-0.8h1.7h1.7v-3.3h1.7h1.7v-0.8v-0.8h1.7"/><path d="M540.4 321.9h1.8v-2.7h1.8h1.8h1.8v-2.7v-6.3h1.8v-2.7v-2.7v-3.6h1.8v-1.8v-3.6h1.8v-1.8h1.8h1.8v-1.8h1.8v-3.6h1.8h1.8h1.8h1.8v-0.9h1.8h1.8h1.8v-1.8h1.8v-0.9v-1.8h1.8v-1.8v-1.8v-4.5h1.8h1.8v-2.7h1.8h1.8h1.8h1.8h1.8h1.8h1.8h1.8h1.8h1.8h1.8h1.8h1.8h1.8v-1.8h1.8v-0.9h1.8h1.8h1.8v-0.9h1.8h1.8v-1.8h1.8h1.8h1.8v-1.8v-1.8h1.8v-2.7v-0.9h1.8v-6.3h1.8h1.8h1.8v-2.7v-1.8h1.8v-3.6h1.8v-2.7h1.8v-1.8h1.8v-0.9h1.8v-0.9v-1.8h1.8h1.8h1.8h1.8v-1.8v-0.9h1.8v-3.6h1.8v-4.5h1.8v-1.8v-1.8h1.8v-7.2h1.8h1.8h1.8h1.8v-1.8h1.8h1.8"/><path d="M540.3 321.6v-1.4h1.9h1.9h1.9h1.9h1.9h1.9h1.9h1.9h1.9h1.9h1.9h1.9h1.9v-4.9v-1.4h1.9v-1.4h1.9v-0.7v-1.4h1.9v-2.1v-2.1h1.9h1.9v-2.8v-2.8h1.9v-2.8h1.9v-0.7v-2.8v-2.8h1.9v-2.8v-1.4h1.9v-1.4h1.9v-1.4v-1.4h1.9v-0.7h1.9v-4.9h1.9v-3.5v-1.4h1.9h1.9v-1.4h1.9h1.9h1.9h1.9v-3.5h1.9v-1.4v-0.7h1.9v-3.5h1.9h1.9h1.9h1.9v-0.7h1.9v-0.7h1.9v-0.7h1.9v-2.8v-2.1h1.9v-2.1v-2.8h1.9v-2.8v-6.3h1.9h1.9h1.9h1.9v-0.7v-2.1h1.9v-2.8h1.9v-2.1h1.9v-0.7h1.9v-0.7v-0.7h1.9v-1.4v-2.1v-2.8h1.9h1.9v-2.1h1.9h1.9h1.9h1.9h1.9h1.9h1.9h1.9v-2.1v-2.1h1.9v-4.2v-0.7h1.9h1.9"/><path d="M540.8 321.8v-2.6v-4.4h2.2v-2.6h2.2h2.2v-1.8h2.2v-7.9v-0.9v-4.4h2.2v-1.8h2.2v-1.8h2.2v-1.8v-1.8h2.2v-3.5h2.2v-1.8h2.2v-1.8v-3.5h2.2v-1.8v-6.2h2.2h2.2h2.2h2.2h2.2h2.2v-2.6v-0.9h2.2v-1.8h2.2v-1.8h2.2h2.2v-2.6v-1.8h2.2v-0.9v-2.6v-3.5h2.2h2.2v-0.9h2.2h2.2h2.2h2.2v-0.9v-4.4v-1.8h2.2h2.2h2.2v-0.9h2.2v-0.9v-0.9h2.2h2.2v-1.8v-0.9h2.2v-1.8h2.2v-1.8v-0.9v-4.4h2.2h2.2h2.2h2.2h2.2h2.2v-2.6h2.2v-0.9h2.2v-0.9v-2.6h2.2h2.2h2.2h2.2v-0.9v-0.9h2.2h2.2v-0.9h2.2v-0.9h2.2v-5.3v-1.8h2.2h2.2h2.2"/><path d="M540.7 321.2h1.6v-2.3h1.6v-4.6v-1.6h1.6v-3.1h1.6v-0.8h1.6h1.6h1.6h1.6h1.6v-2.3v-0.8h1.6v-3.1h1.6h1.6v-1.6h1.6h1.6h1.6h1.6h1.6h1.6h1.6h1.6h1.6h1.6v-2.3h1.6h1.6h1.6h1.6v-0.8h1.6v-3.1h1.6v-3.1h1.6v-3.1h1.6v-3.1h1.6v-3.1v-1.6h1.6h1.6v-0.8v-0.8h1.6v-3.9v-0.8h1.6v-1.6v-3.9h1.6v-1.6v-2.3h1.6v-3.9v-0.8v-1.5h1.6v-2.3v-0.8h1.6h1.6h1.6v-3.1v-3.9h1.6v-2.3h1.6h1.6h1.6h1.6v-1.5v-2.3h1.6h1.6v-0.8v-2.3h1.6v-0.8h1.6h1.6v-3.1v-1.6h1.6v-0.8v-1.5h1.6v-2.3h1.6h1.6v-3.9h1.6h1.6h1.6v-0.8h1.6h1.6h1.6h1.6h1.6v-0.8v-2.3h1.6v-3.1h1.6h1.6h1.6h1.6h1.6v-1.6h1.6v-0.8h1.6v-3.1h1.6v-0.8h1.6h1.6"/><path d="M540.5 321.3v-5.9v-4.4h1.9v-1.5h1.9h1.9v-0.7h1.9h1.9v-2.2v-3.0h1.9h1.9h1.9h1.9v-2.2h1.9v-2.2v-3.7h1.9v-2.2h1.9v-0.7h1.9v-1.5h1.9v-1.5h1.9v-4.4h1.9v-2.2h1.9v-3.0h1.9h1.9h1.9h1.9h1.9v-0.7h1.9h1.9v-2.2h1.9v-0.7h1.9v-3.0v-1.5h1.9h1.9v-0.7h1.9v-2.2v-1.5h1.9v-0.7h1.9v-1.5h1.9v-0.7h1.9h1.9h1.9v-3.7h1.9h1.9h1.9h1.9v-1.5v-1.5h1.9h1.9v-1.5h1.9v-0.7v-3.0h1.9v-0.7v-2.2h1.9h1.9h1.9h1.9h1.9h1.9h1.9v-2.2h1.9v-1.5h1.9v-1.5v-0.7h1.9h1.9v-2.2v-3.7h1.9v-3.7v-1.5h1.9h1.9h1.9v-1.5v-3.0h1.9v-2.2h1.9v-1.5h1.9v-1.5v-1.5h1.9v-5.9h1.9v-3.0"/><path d="M540.2 321.4h2.0h2.0v-1.6v-3.2h2.0h2.0v-2.4v-1.6h2.0v-2.4v-0.8h2.0h2.0h2.0h2.0h2.0h2.0h2.0h2.0h2.0h2.0v-0.8v-2.4h2.0v-1.6h2.0v-1.6h2.0v-2.4h2.0v-0.8v-1.6h2.0v-0.8v-2.4h2.0v-2.4h2.0v-0.8h2.0v-4.8h2.0h2.0h2.0v-2.4v-1.6h2.0h2.0v-1.6v-6.4h2.0v-0.8h2.0v-3.2v-1.6h2.0v-0.8h2.0h2.0h2.0v-2.4v-1.6h2.0v-0.8v-4.0h2.0h2.0v-4.8v-3.2h2.0h2.0v-6.4h2.0v-0.8h2.0h2.0h2.0v-0.8h2.0v-1.6v-3.2h2.0v-2.4v-0.8h2.0v-0.8v-1.6h2.0v-3.2h2.0v-2.4v-1.6h2.0v-0.8v-3.2h2.0v-4.8v-1.6h2.0v-2.4h2.0h2.0h2.0h2.0h2.0h2.0h2.0h2.0h2.0h2.0"/><path d="M540.3 321.1h1.7h1.7v-0.7h1.7h1.7h1.7h1.7v-1.4h1.7v-1.4h1.7h1.7h1.7h1.7v-1.4h1.7v-0.7v-2.8h1.7v-1.4v-4.3h1.7v-2.8h1.7v-4.3h1.7v-2.8h1.7v-0.7h1.7h1.7h1.7v-0.7h1.7v-3.5v-1.4h1.7h1.7v-0.7v-1.4h1.7v-3.5v-0.7h1.7v-1.4h1.7h1.7v-0.7v-4.3h1.7v-1.4v-1.4h1.7v-1.4h1.7h1.7v-2.1v-1.4h1.7v-2.1v-1.4h1.7v-0.7h1.7v-0.7h1.7h1.7v-1.4v-2.8h1.7v-2.8v-3.5h1.7v-0.7h1.7v-4.3v-0.7h1.7v-2.8h1.7v-1.4h1.7v-0.7v-0.7h1.7v-0.7h1.7v-2.1v-0.7h1.7h1.7h1.7v-1.4h1.7v-2.1h1.7h1.7h1.7h1.7h1.7v-2.1h1.7h1.7v-0.7h1.7v-1.4h1.7h1.7v-2.1h1.7v-0.7h1.7v-1.4h1.7v-3.5v-4.3h1.7v-1.4v-0.7h1.7v-0.7h1.7v-2.1h1.7v-2.1h1.7h1.7h1.7h1.7h1.7h1.7h1.7h1.7"/><path d="M540.8 321.7h1.7h1.7h1.7v-0.9h1.7v-0.9h1.7v-2.6h1.7h1.7v-1.7h1.7v-3.5h1.7v-2.6h1.7v-0.9v-1.7h1.7v-0.9v-2.6h1.7h1.7h1.7h1.7h1.7h1.7h1.7v-1.7h1.7v-0.9h1.7v-0.9h1.7v-3.5h1.7v-0.9v-2.6h1.7v-2.6h1.7h1.7v-1.7h1.7v-5.2h1.7h1.7v-2.6v-4.3h1.7v-0.9v-0.9h1.7h1.7h1.7h1.7v-0.9v-0.9h1.7h1.7v-1.7v-0.9h1.7v-4.3v-0.9h1.7v-4.3h1.7h1.7v-1.7h1.7v-0.9h1.7v-1.7v-3.5h1.7v-0.9v-1.7h1.7v-3.5h1.7v-3.5v-1.7h1.7v-1.7h1.7v-4.3v-0.9h1.7v-3.5v-1.7h1.7v-0.9v-0.9h1.7v-2.6v-1.7v-1.7h1.7v-1.7h1.7h1.7h1.7h1.7h1.7v-1.7v-4.3h1.7v-0.9h1.7h1.7h1.7h1.7h1.7h1.7h1.7h1.7h1.7h1.7h1.7h1.7h1.7h1.7"/><path d="M540.6 321.4v-2.2v-0.7h1.9v-4.3v-3.6h1.9h1.9h1.9v-5.1h1.9v-4.3h1.9h1.9h1.9v-0.7h1.9v-4.3h1.9v-1.4v-1.4h1.9v-0.7h1.9v-4.3h1.9h1.9h1.9v-2.2v-0.7h1.9h1.9h1.9v-0.7h1.9v-2.9h1.9v-1.4v-1.4h1.9v-0.7v-0.7h1.9v-1.4h1.9h1.9h1.9h1.9h1.9h1.9h1.9h1.9h1.9v-0.7v-0.7h1.9v-0.7h1.9v-3.6h1.9h1.9h1.9h1.9h1.9h1.9h1.9h1.9h1.9v-3.6h1.9v-2.2h1.9v-4.3v-4.3h1.9h1.9h1.9v-1.4v-2.2h1.9v-2.9h1.9v-0.7v-3.6h1.9h1.9v-2.2v-2.2h1.9v-2.2v-0.7v-0.7h1.9v-3.6h1.9v-3.6v-0.7h1.9v-0.7v-2.2v-2.9h1.9v-5.8h1.9v-4.3h1.9h1.9h1.9h1.9h1.9h1.9"/><path d="M540.2 321.9v-3.1h1.7h1.7v-1.5h1.7v-2.3h1.7h1.7v-1.5h1.7h1.7v-1.5v-1.5h1.7v-1.5h1.7h1.7h1.7h1.7h1.7h1.7v-2.3h1.7v-0.8h1.7v-0.8v-2.3h1.7v-4.6h1.7v-3.1v-0.8v-1.5h1.7v-0.8v-0.8h1.7v-3.8h1.7v-1.5v-0.8h1.7h1.7v-0.8h1.7h1.7v-2.3h1.7h1.7v-0.8h1.7v-0.8h1.7v-1.5h1.7v-0.8v-1.5h1.7v-3.1h1.7v-1.5v-4.6h1.7v-2.3v-1.5h1.7h1.7v-4.6v-3.1h1.7v-1.5v-2.3v-6.9h1.7h1.7v-2.3v-1.5h1.7h1.7h1.7v-0.8h1.7h1.7v-4.6v-3.8h1.7h1.7h1.7h1.7v-0.8v-0.8h1.7v-3.1v-0.8h1.7v-3.1h1.7h1.7h1.7h1.7h1.7h1.7v-1.5v-0.8h1.7v-0.8h1.7h1.7h1.7h1.7h1.7h1.7h1.7h1.7h1.7h1.7h1.7h1.7h1.7v-0.8v-0.8h1.7v-3.1v-1.5h1.7v-0.8h1.7h1.7"/><path d="M540.0 321.7h2.0h2.0h2.0v-0.7v-0.7h2.0v-3.4v-2.0h2.0v-4.8h2.0v-7.5h2.0v-1.4v-0.7h2.0v-3.4v-0.7h2.0h2.0h2.0h2.0h2.0h2.0h2.0v-0.7h2.0v-3.4v-2.7v-1.4h2.0h2.0h2.0v-2.7v-1.4h2.0v-2.0v-3.4h2.0h2.0h2.0v-0.7v-1.4h2.0v-2.0v-1.4h2.0h2.0h2.0h2.0h2.0h2.0h2.0v-1.4h2.0h2.0h2.0v-4.8v-1.4h2.0v-1.4h2.0v-2.7h2.0h2.0h2.0h2.0h2.0v-1.4h2.0v-0.7v-2.0h2.0v-0.7v-1.4h2.0v-1.4v-5.5h2.0h2.0v-0.7h2.0v-1.4h2.0v-4.1h2.0h2.0h2.0v-0.7h2.0v-4.8v-2.0h2.0h2.0h2.0v-2.7h2.0h2.0v-2.0h2.0v-4.8v-0.7v-6.8h2.0v-4.8h2.0"/><path d="M540.5 321.8h2.0h2.0v-3.8v-4.6h2.0v-0.8h2.0v-6.1h2.0h2.0v-3.8h2.0v-2.3h2.0h2.0h2.0h2.0h2.0v-0.8h2.0v-3.8h2.0h2.0v-3.8h2.0h2.0v-2.3h2.0v-1.5h2.0h2.0h2.0h2.0h2.0h2.0h2.0h2.0h2.0h2.0h2.0v-0.8v-0.8h2.0v-2.3v-2.3v-1.5h2.0v-1.5h2.0v-1.5v-1.5h2.0v-0.8v-3.8h2.0h2.0v-2.3h2.0v-1.5v-0.8h2.0v-0.8v-2.3h2.0v-1.5v-2.3v-2.3h2.0v-0.8v-2.3h2.0v-3.8v-1.5h2.0v-1.5v-4.6h2.0v-0.8v-1.5h2.0v-2.3h2.0v-0.8v-4.6v-1.5h2.0v-1.5h2.0v-0.8v-3.8h2.0v-0.8h2.0h2.0h2.0h2.0h2.0v-0.8v-0.8v-2.3h2.0v-1.5v-1.5h2.0v-3.1v-1.5h2.0h2.0h2.0h2.0h2.0h2.0"/><path d="M540.8 321.2h1.8v-2.5v-2.5h1.8v-1.7h1.8h1.8h1.8h1.8h1.8h1.8v-0.8h1.8v-3.3v-2.5h1.8v-1.7h1.8h1.8v-1.7v-4.1h1.8v-0.8v-0.8h1.8v-2.5v-1.7h1.8v-0.8v-2.5h1.8v-5.0v-5.0h1.8v-3.3v-0.8h1.8v-0.8h1.8v-1.7h1.8h1.8v-2.5v-1.7h1.8h1.8v-1.7v-0.8h1.8v-0.8v-2.5h1.8v-0.8h1.8v-5.0v-1.7h1.8v-2.5h1.8v-5.0h1.8h1.8h1.8h1.8h1.8h1.8v-4.1v-2.5h1.8v-1.7v-0.8h1.8v-1.7v-3.3h1.8v-2.5h1.8v-0.8h1.8v-5.0v-2.5h1.8h1.8h1.8h1.8h1.8h1.8h1.8v-0.8h1.8h1.8h1.8h1.8v-1.7v-1.7h1.8h1.8v-1.7v-1.7h1.8h1.8v-0.8v-1.7h1.8h1.8h1.8h1.8h1.8v-0.8h1.8h1.8h1.8v-0.8h1.8v-0.8h1.8h1.8h1.8h1.8"/><path d="M540.2 321.0h2.1h2.1h2.1v-3.6v-2.2v-4.3h2.1v-0.7h2.1v-3.6h2.1v-0.7v-2.9h2.1v-0.7v-3.6h2.1v-1.4h2.1v-2.2v-0.7h2.1v-3.6v-2.9h2.1v-2.2v-1.4h2.1v-2.9h2.1h2.1v-1.4h2.1h2.1h2.1v-1.4h2.1h2.1h2.1v-1.4h2.1h2.1h2.1v-1.4h2.1v-0.7v-0.7v-4.3h2.1v-2.2v-2.9h2.1v-1.4h2.1v-1.4h2.1v-2.9v-3.6h2.1h2.1h2.1v-1.4v-5.1h2.1v-1.4v-1.4h2.1v-2.2v-5.8h2.1v-1.4h2.1v-2.9v-3.6h2.1v-0.7h2.1h2.1h2.1v-1.4v-3.6v-0.7h2.1v-0.7v-4.3h2.1h2.1v-2.9v-0.7h2.1v-1.4h2.1v-0.7h2.1h2.1h2.1h2.1h2.1h2.1h2.1h2.1h2.1h2.1h2.1h2.1h2.1h2.1"/><path d="M540.9 321.3h1.8h1.8h1.8h1.8v-0.8v-1.5h1.8v-2.3h1.8h1.8h1.8h1.8h1.8h1.8h1.8h1.8v-2.3v-0.8h1.8v-4.6h1.8v-0.8h1.8v-3.0h1.8v-2.3h1.8v-0.8h1.8v-3.8v-0.8h1.8v-0.8v-3.0h1.8h1.8h1.8h1.8h1.8h1.8h1.8h1.8h1.8v-1.5v-0.8h1.8v-2.3h1.8v-2.3h1.8v-2.3v-3.0h1.8h1.8v-0.8v-2.3h1.8h1.8v-1.5h1.8v-1.5v-1.5h1.8v-4.6v-0.8h1.8h1.8v-2.3v-2.3h1.8h1.8v-2.3h1.8v-3.0h1.8h1.8h1.8h1.8h1.8h1.8v-1.5h1.8v-6.1v-0.8h1.8v-1.5h1.8v-4.6v-1.5h1.8v-2.3v-0.8h1.8v-0.8h1.8v-0.8v-1.5h1.8v-0.8h1.8h1.8h1.8v-1.5v-2.3v-3.8h1.8h1.8h1.8v-2.3h1.8v-2.3h1.8h1.8v-0.8h1.8v-2.3v-3.8h1.8v-4.6"/><path d="M540.3 321.1h2.0h2.0v-0.9h2.0h2.0h2.0v-3.6h2.0v-4.4h2.0h2.0v-3.6v-0.9h2.0v-0.9h2.0h2.0h2.0h2.0v-3.6h2.0v-0.9v-0.9h2.0v-4.4v-1.8h2.0v-0.9v-0.9h2.0v-1.8v-1.8v-1.8h2.0v-0.9h2.0v-1.8v-2.7h2.0v-0.9h2.0v-1.8h2.0h2.0h2.0h2.0h2.0h2.0h2.0h2.0v-3.6h2.0h2.0v-2.7h2.0h2.0h2.0h2.0h2.0h2.0h2.0v-0.9v-1.8h2.0h2.0h2.0v-1.8h2.0v-3.6v-1.8h2.0v-2.7h2.0v-1.8v-0.9h2.0v-0.9v-3.6h2.0v-2.7v-0.9v-4.4h2.0h2.0v-0.9v-4.4h2.0h2.0v-2.7v-1.8v-1.8h2.0v-2.7v-5.3h2.0v-0.9h2.0v-0.9h2.0v-1.8v-3.6h2.0v-1.8v-0.9h2.0h2.0h2.0v-0.9h2.0v-3.6"/><path d="M540.6 321.8h1.6h1.6v-1.4h1.6h1.6v-1.4v-2.8h1.6v-2.1v-1.4h1.6v-2.8h1.6v-1.4v-2.8h1.6v-1.4h1.6v-0.7v-2.1h1.6v-2.8h1.6h1.6h1.6h1.6h1.6h1.6h1.6h1.6h1.6h1.6h1.6v-2.1h1.6h1.6h1.6h1.6h1.6h1.6h1.6h1.6h1.6h1.6h1.6h1.6h1.6h1.6v-0.7h1.6v-1.4h1.6h1.6h1.6v-1.4h1.6v-1.4v-3.5h1.6v-2.1v-2.8h1.6v-3.5h1.6v-3.5v-3.5h1.6v-0.7v-2.8h1.6v-0.7v-1.4h1.6h1.6v-2.1h1.6v-1.4v-1.4h1.6v-0.7v-3.5h1.6h1.6h1.6v-3.5h1.6v-2.1h1.6h1.6v-1.4h1.6v-0.7v-1.4h1.6v-0.7v-4.2h1.6v-1.4v-1.4h1.6v-1.4v-3.5h1.6v-2.1v-0.7h1.6v-0.7v-2.1h1.6v-2.1h1.6h1.6v-2.1h1.6h1.6h1.6h1.6v-4.9v-2.1h1.6v-2.1h1.6h1.6v-1.4h1.6h1.6v-2.1h1.6"/><path d="M540.8 321.6v-3.8v-1.9h1.7v-4.7h1.7v-0.9h1.7h1.7h1.7h1.7h1.7v-2.8h1.7v-3.8h1.7v-0.9h1.7h1.7v-1.9h1.7v-0.9v-4.7h1.7h1.7h1.7h1.7v-0.9v-0.9h1.7h1.7v-0.9v-1.9h1.7h1.7h1.7h1.7h1.7v-0.9v-3.8h1.7h1.7v-0.9v-3.8h1.7v-5.7h1.7v-0.9v-1.9h1.7v-2.8h1.7v-0.9h1.7v-0.9h1.7v-5.7h1.7v-0.9v-1.9h1.7v-0.9h1.7h1.7h1.7h1.7h1.7h1.7h1.7h1.7h1.7h1.7h1.7h1.7h1.7h1.7h1.7h1.7h1.7h1.7h1.7v-1.9v-0.9h1.7v-2.8v-2.8h1.7v-1.9h1.7h1.7h1.7h1.7h1.7h1.7h1.7h1.7v-3.8h1.7v-4.7v-8.5h1.7v-5.7v-0.9h1.7v-1.9h1.7v-1.9h1.7v-2.8v-4.7h1.7h1.7"/><path d="M540.4 321.0v-3.2v-2.4h1.7v-3.2h1.7h1.7v-1.6v-1.6h1.7v-3.2h1.7v-4.0v-4.0h1.7v-0.8h1.7h1.7v-1.6h1.7v-4.0v-4.0h1.7h1.7h1.7h1.7h1.7h1.7v-4.0h1.7v-1.6v-1.6h1.7v-2.4h1.7v-3.2v-1.6h1.7v-4.9v-2.4h1.7v-0.8h1.7h1.7v-1.6h1.7h1.7v-0.8h1.7v-0.8h1.7h1.7v-1.6v-1.6h1.7v-1.6h1.7v-0.8h1.7v-4.0h1.7v-3.2h1.7v-3.2h1.7v-1.6h1.7h1.7v-0.8h1.7v-0.8h1.7h1.7h1.7h1.7h1.7h1.7v-0.8v-1.6h1.7v-0.8h1.7v-3.2h1.7v-1.6v-2.4h1.7h1.7h1.7h1.7v-4.9h1.7h1.7v-1.6v-0.8h1.7v-1.6h1.7h1.7h1.7h1.7h1.7h1.7h1.7h1.7v-0.8h1.7v-3.2v-1.6h1.7v-4.0h1.7h1.7h1.7h1.7h1.7h1.7h1.7h1.7h1.7h1.7h1.7"/><path d="M540.9 321.0v-1.8h1.6v-1.8h1.6v-1.8h1.6h1.6h1.6v-0.9h1.6v-3.7v-5.5h1.6v-2.8v-1.8h1.6v-1.8v-0.9h1.6v-6.4h1.6v-3.7h1.6v-3.7h1.6h1.6h1.6v-0.9h1.6v-1.8h1.6v-1.8h1.6v-2.8h1.6v-1.8v-0.9h1.6h1.6h1.6h1.6v-0.9v-0.9h1.6v-0.9v-2.8h1.6h1.6v-2.8v-0.9h1.6v-2.8h1.6v-3.7h1.6h1.6h1.6h1.6h1.6v-2.8h1.6v-3.7v-3.7h1.6v-0.9h1.6h1.6h1.6h1.6h1.6h1.6h1.6h1.6h1.6h1.6h1.6h1.6h1.6h1.6h1.6v-4.6h1.6v-1.8h1.6h1.6h1.6v-0.9h1.6v-0.9h1.6v-3.7v-1.8h1.6v-0.9v-1.8h1.6v-2.8h1.6v-0.9v-1.8h1.6v-4.6h1.6h1.6h1.6v-1.8h1.6h1.6h1.6h1.6h1.6v-1.8h1.6h1.6v-0.9v-3.7h1.6h1.6h1.6h1.6h1.6"/><path d="M540.1 321.7v-0.8h2.2v-1.6v-0.8h2.2h2.2h2.2v-0.8v-2.5h2.2v-5.8v-0.8h2.2v-2.5h2.2h2.2v-0.8h2.2v-0.8v-0.8h2.2h2.2h2.2h2.2h2.2v-0.8h2.2h2.2h2.2h2.2v-0.8v-2.5h2.2h2.2v-0.8h2.2v-0.8v-0.8v-2.5h2.2v-1.6v-2.5h2.2v-3.3h2.2v-4.1h2.2v-1.6v-0.8v-2.5h2.2h2.2v-1.6v-0.8h2.2v-0.8h2.2v-2.5h2.2h2.2v-0.8h2.2v-1.6v-1.6v-3.3h2.2h2.2v-0.8v-1.6h2.2h2.2v-0.8h2.2v-3.3h2.2v-3.3v-2.5h2.2v-4.1h2.2v-2.5h2.2v-0.8h2.2h2.2v-1.6h2.2v-0.8v-2.5h2.2v-0.8h2.2v-1.6h2.2v-1.6v-3.3v-4.1h2.2v-0.8h2.2v-1.6v-0.8h2.2v-1.6v-1.6h2.2v-3.3h2.2v-0.8v-2.5v-2.5h2.2h2.2h2.2h2.2"/><path d="M540.5 321.0v-0.9h2.0v-2.8h2.0v-5.6h2.0h2.0h2.0h2.0v-3.7h2.0h2.0v-2.8v-1.9v-1.9h2.0h2.0h2.0h2.0h2.0h2.0h2.0v-1.9h2.0v-0.9h2.0v-1.9v-1.9h2.0h2.0v-0.9v-1.9h2.0v-0.9v-1.9v-3.7h2.0h2.0h2.0h2.0h2.0h2.0h2.0v-0.9h2.0v-0.9v-0.9v-0.9h2.0h2.0v-0.9h2.0v-0.9v-1.9h2.0v-2.8v-2.8h2.0v-3.7h2.0h2.0h2.0h2.0h2.0h2.0h2.0v-2.8v-2.8v-1.9h2.0v-1.9v-2.8h2.0h2.0h2.0h2.0h2.0v-1.9v-0.9h2.0h2.0v-0.9h2.0v-0.9h2.0v-0.9h2.0v-0.9v-0.9h2.0v-7.5v-1.9h2.0v-2.8v-0.9h2.0v-3.7v-3.7h2.0h2.0v-2.8h2.0v-0.9h2.0v-0.9h2.0h2.0v-11.2"/><path d="M540.7 321.6v-4.4h1.7v-4.4v-3.6h1.7v-2.2h1.7h1.7h1.7h1.7h1.7v-2.2h1.7v-4.4h1.7v-1.5v-2.9h1.7v-5.1h1.7v-0.7h1.7v-2.9v-2.2h1.7v-2.9h1.7h1.7h1.7h1.7h1.7h1.7h1.7h1.7h1.7h1.7v-1.5h1.7v-5.1v-0.7h1.7h1.7h1.7h1.7h1.7h1.7h1.7h1.7h1.7h1.7h1.7h1.7h1.7v-2.9v-0.7h1.7v-1.5v-0.7h1.7h1.7h1.7v-0.7v-4.4h1.7v-0.7v-0.7h1.7h1.7h1.7h1.7v-1.5h1.7v-1.5v-1.5h1.7v-3.6h1.7h1.7h1.7v-2.2h1.7v-2.2h1.7v-2.9v-1.5h1.7v-2.2v-0.7h1.7v-0.7v-0.7h1.7h1.7h1.7v-0.7h1.7v-1.5v-2.2h1.7v-0.7v-0.7h1.7v-1.5v-2.9h1.7h1.7v-1.5h1.7v-0.7h1.7v-0.7v-3.6h1.7v-5.1h1.7h1.7h1.7h1.7h1.7h1.7v-5.1v-1.5h1.7"/><path d="M540.8 321.3v-6.1h1.8v-2.0h1.8v-0.7h1.8v-2.0v-2.0h1.8v-0.7h1.8h1.8h1.8h1.8h1.8h1.8v-1.4v-2.7h1.8v-0.7h1.8v-3.4h1.8v-2.0h1.8v-2.0h1.8v-0.7v-1.4v-0.7h1.8h1.8h1.8h1.8v-0.7h1.8v-0.7h1.8v-0.7v-0.7h1.8h1.8v-1.4h1.8v-3.4v-2.0v-0.7h1.8v-4.1h1.8h1.8h1.8h1.8v-0.7h1.8v-1.4h1.8v-2.7v-4.8h1.8v-0.7h1.8v-1.4h1.8v-1.4v-2.0h1.8h1.8h1.8v-1.4h1.8v-0.7h1.8v-1.4v-1.4v-2.7h1.8v-1.4v-0.7h1.8h1.8v-0.7v-1.4h1.8v-1.4v-1.4h1.8v-2.7h1.8v-1.4v-1.4h1.8h1.8h1.8v-3.4v-1.4h1.8v-0.7v-0.7h1.8h1.8h1.8h1.8v-1.4h1.8v-0.7v-3.4h1.8h1.8h1.8v-0.7h1.8v-2.0v-4.8v-2.0h1.8v-4.1h1.8v-0.7h1.8v-3.4h1.8v-0.7h1.8v-0.7h1.8h1.8h1.8h1.8h1.8"/><path d="M540.7 321.0v-7.2h2.2h2.2h2.2h2.2h2.2v-1.8h2.2h2.2h2.2h2.2h2.2h2.2h2.2h2.2h2.2v-0.9h2.2v-3.6v-2.7h2.2v-0.9v-3.6h2.2v-3.6v-3.6h2.2v-2.7v-0.9h2.2h2.2h2.2v-3.6h2.2h2.2v-2.7h2.2v-4.5v-0.9h2.2v-0.9v-1.8h2.2v-1.8h2.2v-1.8h2.2h2.2h2.2h2.2h2.2v-0.9h2.2v-0.9v-2.7h2.2v-3.6v-0.9h2.2h2.2v-2.7h2.2v-1.8h2.2v-1.8v-0.9h2.2v-1.8v-2.7v-1.8h2.2v-1.8v-1.8v-2.7h2.2v-2.7v-2.7v-0.9h2.2h2.2v-0.9v-0.9h2.2v-4.5h2.2h2.2v-6.3h2.2h2.2h2.2v-0.9v-0.9h2.2v-3.6h2.2v-1.8h2.2v-2.7h2.2v-1.8h2.2h2.2"/><path d="M540.7 321.0v-5.6v-0.8h1.9h1.9v-0.8v-3.2h1.9v-0.8h1.9h1.9h1.9h1.9h1.9v-2.4h1.9v-2.4h1.9h1.9h1.9v-4.8h1.9v-0.8v-0.8h1.9v-0.8h1.9v-0.8v-0.8h1.9v-2.4v-1.6h1.9v-0.8h1.9v-0.8h1.9v-2.4h1.9v-0.8v-0.8h1.9v-3.2h1.9v-0.8h1.9v-8.0v-2.4v-0.8h1.9h1.9v-2.4h1.9v-1.6v-0.8h1.9v-0.8h1.9v-1.6h1.9h1.9h1.9v-0.8h1.9h1.9v-1.6v-1.6h1.9v-0.8v-2.4h1.9v-2.4h1.9v-3.2v-0.8h1.9v-0.8h1.9h1.9h1.9h1.9h1.9h1.9v-0.8v-2.4h1.9v-3.2v-0.8h1.9v-0.8v-1.6h1.9v-1.6h1.9h1.9v-0.8h1.9v-1.6h1.9v-3.2h1.9h1.9v-1.6h1.9h1.9v-0.8h1.9v-2.4v-0.8v-2.4h1.9v-3.2h1.9v-0.8h1.9v-5.6h1.9h1.9h1.9h1.9h1.9v-1.6h1.9v-1.6"/><path d="M540.6 321.8v-6.7h2.1v-3.3v-6.7h2.1v-4.2v-0.8v-0.8h2.1v-0.8h2.1h2.1v-0.8v-5.0h2.1h2.1v-1.7v-0.8h2.1v-0.8v-2.5h2.1v-0.8h2.1v-1.7v-1.7h2.1v-3.3v-0.8v-0.8h2.1v-1.7v-3.3h2.1v-2.5h2.1h2.1h2.1h2.1h2.1h2.1h2.1h2.1h2.1v-0.8h2.1v-3.3h2.1v-0.8h2.1v-3.3v-0.8h2.1v-0.8h2.1h2.1v-0.8h2.1v-2.5h2.1v-0.8v-0.8h2.1v-5.0h2.1h2.1h2.1v-0.8h2.1v-1.7v-5.8h2.1v-0.8h2.1h2.1h2.1h2.1h2.1v-0.8h2.1h2.1h2.1v-2.5v-0.8h2.1v-0.8v-5.0h2.1v-0.8v-2.5h2.1v-0.8h2.1v-0.8h2.1v-1.7v-5.0h2.1h2.1v-3.3h2.1v-1.7v-0.8h2.1h2.1h2.1h2.1h2.1"/><path d="M540.8 321.7v-2.1v-1.4h1.8h1.8v-2.8h1.8h1.8v-1.4v-3.5v-3.5h1.8v-2.8v-5.6h1.8v-2.8h1.8h1.8h1.8h1.8v-0.7h1.8v-2.8h1.8v-2.8v-4.9h1.8v-0.7v-3.5h1.8h1.8h1.8h1.8h1.8v-2.8h1.8v-0.7v-0.7h1.8v-3.5v-1.4h1.8v-3.5h1.8v-0.7h1.8v-1.4h1.8v-4.2h1.8h1.8h1.8v-1.4h1.8h1.8v-3.5h1.8h1.8h1.8v-1.4v-2.1h1.8v-1.4v-0.7h1.8v-4.2v-0.7v-1.4h1.8v-2.8h1.8v-0.7h1.8v-0.7h1.8v-2.8h1.8h1.8h1.8h1.8v-1.4h1.8h1.8h1.8v-3.5v-1.4h1.8v-2.8h1.8h1.8v-1.4v-2.1h1.8v-0.7v-0.7h1.8h1.8h1.8h1.8h1.8v-4.9h1.8v-2.1h1.8v-1.4h1.8v-0.7h1.8h1.8h1.8v-1.4h1.8h1.8h1.8h1.8h1.8h1.8h1.8"/><path d="M540.2 321.3v-1.5h1.7h1.7h1.7h1.7h1.7h1.7v-3.1h1.7v-2.3h1.7v-3.9v-5.4h1.7h1.7h1.7h1.7h1.7h1.7v-2.3v-1.6h1.7v-3.1v-3.9h1.7v-0.8h1.7h1.7v-0.8h1.7h1.7h1.7h1.7h1.7h1.7v-0.8h1.7v-3.1h1.7h1.7h1.7v-1.6h1.7v-0.8v-2.3h1.7h1.7h1.7h1.7v-3.1h1.7v-3.1v-1.6h1.7v-1.5v-3.1h1.7v-0.8h1.7h1.7v-2.3v-3.9h1.7v-2.3v-2.3h1.7v-0.8h1.7h1.7v-1.6v-3.1h1.7v-4.6h1.7v-1.5v-3.9h1.7v-2.3h1.7v-0.8h1.7v-2.3v-4.7h1.7v-0.8v-1.5h1.7v-0.8h1.7h1.7h1.7v-0.8h1.7h1.7h1.7h1.7v-0.8h1.7v-0.8v-2.3h1.7h1.7h1.7h1.7h1.7h1.7v-4.6v-0.8h1.7v-2.3v-2.3h1.7v-0.8h1.7v-2.3h1.7h1.7h1.7h1.7v-0.8"/><path d="M540.7 321.4v-0.7h2.0v-2.8h2.0v-0.7v-2.8v-2.1h2.0v-1.4h2.0v-4.2h2.0h2.0v-1.4h2.0v-2.1v-1.4h2.0v-0.7h2.0h2.0v-3.5h2.0v-0.7h2.0h2.0v-1.4h2.0v-0.7h2.0v-2.8h2.0h2.0h2.0h2.0h2.0h2.0v-2.1h2.0v-0.7v-2.1v-2.8h2.0v-3.5h2.0h2.0v-2.8h2.0v-1.4v-2.8v-0.7h2.0v-0.7h2.0h2.0h2.0v-2.1h2.0v-2.1h2.0v-2.8h2.0v-4.2h2.0h2.0v-1.4v-2.1v-0.7h2.0h2.0v-2.1h2.0v-2.8v-3.5h2.0v-1.4h2.0v-2.8v-0.7h2.0v-3.5h2.0h2.0h2.0h2.0h2.0h2.0h2.0h2.0h2.0v-3.5h2.0v-2.8h2.0h2.0v-0.7h2.0v-0.7v-0.7v-1.4h2.0h2.0h2.0v-2.1v-5.6h2.0v-1.4v-2.8h2.0h2.0v-6.3h2.0"/><path d="M540.1 321.8v-8.6h1.7h1.7h1.7h1.7h1.7v-0.9h1.7h1.7v-3.4v-2.6h1.7h1.7v-2.6h1.7h1.7h1.7h1.7h1.7h1.7h1.7h1.7h1.7h1.7h1.7h1.7h1.7h1.7h1.7h1.7h1.7h1.7h1.7h1.7h1.7v-0.9h1.7v-2.6v-1.7h1.7v-3.4h1.7h1.7v-1.7h1.7v-0.9v-1.7h1.7v-1.7v-2.6h1.7h1.7v-4.3h1.7v-1.7h1.7h1.7v-2.6h1.7v-1.7h1.7v-2.6h1.7v-4.3h1.7v-0.9h1.7v-2.6h1.7h1.7h1.7h1.7h1.7h1.7v-4.3h1.7v-3.4v-0.9h1.7v-1.7v-0.9h1.7v-2.6v-3.4h1.7v-1.7v-0.9v-0.9h1.7v-1.7h1.7v-1.7v-2.6h1.7v-1.7v-0.9h1.7h1.7h1.7h1.7h1.7v-5.2v-2.6h1.7v-6.9h1.7v-0.9h1.7v-6.9v-0.9h1.7h1.7h1.7"/><path d="M540.9 321.8v-6.5v-0.8h1.7h1.7h1.7h1.7h1.7v-1.6h1.7h1.7h1.7v-1.6h1.7v-2.4v-2.4h1.7v-1.6v-1.6h1.7h1.7v-1.6v-0.8v-1.6h1.7v-3.2h1.7v-2.4h1.7v-2.4v-3.2h1.7v-3.2v-0.8h1.7v-0.8v-3.2v-5.7h1.7v-0.8h1.7h1.7v-3.2h1.7h1.7v-0.8v-3.2h1.7v-1.6v-2.4v-1.6h1.7v-0.8h1.7h1.7h1.7h1.7h1.7h1.7v-3.2h1.7h1.7h1.7h1.7h1.7v-2.4h1.7v-4.9h1.7h1.7h1.7v-1.6h1.7v-2.4v-2.4h1.7v-0.8h1.7h1.7h1.7h1.7h1.7h1.7h1.7h1.7v-2.4h1.7v-1.6h1.7v-0.8v-3.2h1.7v-3.2h1.7h1.7v-1.6h1.7v-0.8h1.7h1.7v-1.6h1.7v-0.8v-0.8h1.7h1.7h1.7h1.7h1.7v-2.4v-1.6h1.7v-0.8h1.7v-0.8v-4.0h1.7h1.7v-1.6h1.7h1.7"/><path d="M540.3 321.2v-4.6v-5.5h1.7v-0.9h1.7v-7.4h1.7h1.7h1.7h1.7h1.7v-1.8h1.7v-1.8h1.7h1.7h1.7h1.7h1.7h1.7h1.7h1.7h1.7h1.7h1.7v-0.9h1.7v-0.9v-1.8h1.7h1.7h1.7h1.7h1.7h1.7v-0.9h1.7h1.7h1.7h1.7h1.7h1.7h1.7h1.7h1.7h1.7v-0.9v-2.8h1.7h1.7v-2.8h1.7v-1.8v-1.8h1.7h1.7v-5.5v-3.7h1.7h1.7v-0.9h1.7h1.7v-3.7v-4.6h1.7h1.7v-0.9h1.7v-2.8h1.7h1.7v-2.8h1.7v-4.6v-3.7h1.7h1.7v-4.6v-1.8h1.7v-1.8h1.7h1.7v-1.8v-1.8h1.7v-0.9h1.7h1.7v-1.8v-0.9h1.7v-0.9v-0.9h1.7v-0.9h1.7v-2.8h1.7v-2.8h1.7h1.7h1.7h1.7h1.7v-0.9h1.7v-3.7v-1.8h1.7h1.7v-4.6h1.7v-3.7"/><path d="M540.6 321.5v-5.0h2.0h2.0v-3.5v-5.0h2.0h2.0h2.0v-0.7v-0.7h2.0v-2.1h2.0h2.0h2.0h2.0h2.0v-1.4v-2.8h2.0v-0.7v-0.7h2.0v-0.7h2.0h2.0v-2.8h2.0h2.0h2.0v-0.7v-2.1v-1.4h2.0v-0.7v-1.4h2.0v-2.1h2.0h2.0v-2.1h2.0v-2.1h2.0v-1.4v-0.7v-0.7h2.0v-2.1v-3.5h2.0v-0.7v-0.7h2.0v-4.3v-3.5h2.0v-2.8v-0.7h2.0h2.0h2.0h2.0h2.0h2.0h2.0h2.0h2.0v-1.4v-1.4h2.0h2.0h2.0v-2.8h2.0v-1.4v-0.7h2.0h2.0h2.0v-5.0v-0.7v-2.1h2.0v-7.1h2.0h2.0v-0.7h2.0v-2.8v-2.1h2.0h2.0v-1.4h2.0h2.0h2.0v-2.1v-2.8h2.0h2.0v-0.7h2.0h2.0h2.0v-4.3h2.0v-3.5h2.0v-5.0"/><path d="M540.5 321.2v-1.4h1.6v-2.1v-4.8h1.6h1.6h1.6h1.6h1.6h1.6h1.6h1.6v-1.4h1.6v-2.8v-2.1h1.6h1.6h1.6h1.6h1.6h1.6h1.6h1.6h1.6v-0.7h1.6h1.6h1.6h1.6h1.6h1.6v-2.1h1.6v-0.7v-1.4h1.6h1.6v-1.4v-2.8h1.6v-3.5h1.6v-2.1v-1.4h1.6v-4.1v-1.4h1.6v-3.5v-0.7h1.6v-0.7h1.6v-0.7h1.6v-2.1v-2.1h1.6v-2.1v-2.8h1.6v-1.4h1.6v-0.7h1.6v-1.4h1.6h1.6v-2.8h1.6h1.6h1.6h1.6v-2.8h1.6v-0.7h1.6h1.6h1.6v-1.4v-3.5h1.6h1.6h1.6v-2.8v-0.7h1.6v-0.7h1.6h1.6h1.6h1.6v-4.1h1.6h1.6h1.6v-0.7h1.6v-3.5h1.6v-1.4h1.6v-2.1v-2.1h1.6h1.6v-1.4h1.6v-6.2v-5.5h1.6v-0.7h1.6v-0.7h1.6v-1.4h1.6v-2.1v-2.1h1.6v-3.5h1.6v-0.7h1.6h1.6v-1.4"/><path d="M540.6 321.6v-5.2h1.6h1.6v-3.5h1.6v-1.7h1.6v-2.6h1.6h1.6h1.6h1.6h1.6h1.6v-0.9h1.6h1.6v-1.7h1.6v-2.6h1.6v-0.9h1.6v-3.5h1.6v-1.7h1.6h1.6v-4.3v-1.7h1.6h1.6h1.6h1.6v-2.6h1.6v-1.7h1.6h1.6v-0.9h1.6v-0.9h1.6v-3.5v-3.5h1.6h1.6h1.6h1.6h1.6h1.6h1.6h1.6v-0.9h1.6h1.6v-0.9v-2.6h1.6v-1.7h1.6v-3.5h1.6v-2.6h1.6v-0.9h1.6v-1.7h1.6v-1.7v-4.3h1.6v-1.7v-0.9h1.6v-3.5h1.6v-1.7v-0.9h1.6v-1.7h1.6h1.6h1.6v-0.9h1.6v-2.6h1.6v-2.6h1.6v-2.6h1.6v-1.7h1.6v-1.7h1.6v-0.9v-2.6h1.6h1.6v-0.9h1.6v-0.9h1.6h1.6h1.6h1.6h1.6v-3.5h1.6v-0.9h1.6v-0.9v-2.6h1.6v-0.9h1.6h1.6h1.6v-0.9v-1.7h1.6v-0.9v-0.9h1.6v-1.7h1.6v-1.7h1.6"/><path d="M540.1 321.6v-4.0v-7.3h1.7v-5.7h1.7h1.7v-0.8v-2.4h1.7v-1.6h1.7h1.7v-1.6h1.7h1.7v-1.6v-4.0h1.7h1.7v-2.4v-0.8h1.7v-0.8v-0.8h1.7v-3.2h1.7h1.7v-1.6v-0.8v-2.4h1.7h1.7h1.7h1.7h1.7v-1.6v-4.9h1.7h1.7h1.7h1.7h1.7h1.7v-0.8v-4.0h1.7v-0.8h1.7h1.7h1.7h1.7h1.7h1.7h1.7h1.7h1.7h1.7h1.7h1.7h1.7h1.7h1.7v-0.8h1.7h1.7v-0.8h1.7v-2.4h1.7v-0.8v-4.0h1.7v-0.8h1.7h1.7h1.7v-0.8v-0.8v-0.8h1.7h1.7v-2.4h1.7v-4.0h1.7v-1.6h1.7v-2.4v-1.6h1.7v-1.6h1.7v-0.8v-0.8h1.7v-0.8h1.7h1.7v-1.6h1.7h1.7v-1.6v-0.8h1.7h1.7h1.7h1.7v-1.6h1.7v-3.2h1.7v-2.4v-4.0h1.7v-5.7v-2.4h1.7h1.7v-2.4"/><path d="M540.5 321.6v-4.0h1.7v-0.8h1.7v-3.2v-3.2h1.7v-2.4h1.7v-0.8h1.7v-2.4v-2.4h1.7v-1.6h1.7v-3.2h1.7h1.7h1.7h1.7h1.7h1.7h1.7h1.7h1.7h1.7h1.7h1.7h1.7h1.7v-0.8v-0.8h1.7v-1.6v-3.2h1.7h1.7h1.7h1.7h1.7v-3.2h1.7v-1.6h1.7h1.7v-0.8h1.7h1.7h1.7h1.7h1.7h1.7v-4.0h1.7v-1.6h1.7h1.7v-2.4h1.7v-7.9v-4.8h1.7v-1.6h1.7h1.7h1.7h1.7h1.7h1.7h1.7h1.7h1.7h1.7h1.7h1.7h1.7v-0.8h1.7h1.7h1.7h1.7v-1.6h1.7v-3.2h1.7v-2.4h1.7v-4.8v-3.2h1.7v-3.2h1.7v-3.2v-4.8h1.7v-1.6v-2.4h1.7v-1.6h1.7v-1.6h1.7h1.7h1.7v-3.2h1.7v-3.2v-4.8h1.7v-0.8v-4.0h1.7h1.7v-0.8"/><path d="M540.2 321.8v-7.2v-2.4h2.0v-4.8v-3.2h2.0v-2.4h2.0h2.0h2.0h2.0h2.0h2.0h2.0h2.0h2.0h2.0h2.0h2.0h2.0h2.0h2.0h2.0h2.0h2.0v-0.8h2.0v-0.8v-1.6h2.0v-1.6h2.0v-4.0h2.0v-0.8h2.0h2.0h2.0h2.0v-0.8h2.0h2.0v-3.2h2.0h2.0v-0.8h2.0v-4.0v-1.6h2.0v-4.8h2.0h2.0h2.0h2.0h2.0h2.0h2.0v-0.8v-2.4h2.0v-0.8v-2.4h2.0h2.0v-3.2v-1.6v-1.6h2.0v-2.4v-2.4h2.0v-6.4v-4.0v-0.8h2.0v-0.8h2.0v-4.0v-0.8h2.0h2.0v-0.8v-0.8h2.0v-0.8h2.0v-3.2v-4.0h2.0v-0.8v-0.8h2.0v-1.6v-3.2v-0.8h2.0h2.0v-1.6v-0.8h2.0v-4.0v-1.6h2.0v-3.2h2.0v-0.8h2.0h2.0"/><path d="M540.8 321.3v-2.7v-0.9h2.1h2.1h2.1v-4.6h2.1v-3.6h2.1v-3.6v-1.8v-4.6h2.1h2.1v-0.9h2.1v-2.7h2.1v-1.8v-2.7h2.1h2.1h2.1h2.1h2.1v-2.7v-3.6h2.1v-2.7h2.1h2.1h2.1h2.1h2.1v-0.9v-1.8v-0.9h2.1v-5.5v-0.9h2.1v-3.6h2.1h2.1h2.1h2.1h2.1h2.1v-2.7v-0.9h2.1v-3.6v-0.9v-1.8h2.1v-0.9h2.1v-1.8h2.1h2.1v-0.9v-1.8h2.1v-1.8v-2.7v-1.8h2.1v-2.7h2.1v-0.9h2.1h2.1v-4.6v-1.8h2.1v-1.8v-0.9h2.1h2.1v-3.6h2.1h2.1h2.1v-0.9v-6.4h2.1v-1.8v-0.9h2.1v-2.7v-4.6h2.1h2.1h2.1h2.1h2.1h2.1h2.1h2.1h2.1h2.1h2.1h2.1"/><path d="M540.3 321.1h1.8v-1.9v-5.8h1.8v-1.0v-1.9h1.8v-1.9v-1.0h1.8v-1.0v-1.9h1.8h1.8h1.8v-1.9v-3.9v-2.9h1.8v-1.9h1.8h1.8v-1.0h1.8h1.8v-1.9h1.8h1.8v-1.9h1.8h1.8h1.8h1.8v-2.9v-1.0h1.8v-1.0h1.8v-1.9v-2.9h1.8v-1.9v-2.9h1.8h1.8h1.8h1.8h1.8h1.8h1.8v-1.9v-3.9h1.8v-1.0v-2.9v-1.9h1.8v-3.9v-4.8h1.8v-1.0h1.8v-1.9v-2.9h1.8h1.8h1.8v-1.0h1.8v-1.0v-1.9h1.8h1.8h1.8h1.8h1.8v-3.9h1.8h1.8h1.8v-1.9h1.8v-2.9h1.8h1.8h1.8v-3.9h1.8v-4.8h1.8h1.8h1.8h1.8h1.8h1.8h1.8h1.8h1.8h1.8h1.8h1.8h1.8h1.8h1.8h1.8v-1.9v-8.7h1.8v-3.9"/><path d="M539.9 321.1v-7.1h1.8h1.8h1.8h1.8h1.8h1.8h1.8h1.8h1.8h1.8h1.8h1.8h1.8h1.8v-1.8h1.8v-0.9h1.8v-3.5v-1.8h1.8h1.8h1.8v-1.8h1.8v-1.8h1.8v-2.6v-1.8h1.8v-2.6v-1.8h1.8v-2.6h1.8v-0.9h1.8v-1.8h1.8h1.8h1.8h1.8h1.8h1.8v-0.9h1.8v-3.5h1.8h1.8v-0.9h1.8h1.8v-3.5h1.8v-3.5h1.8v-1.8h1.8v-2.6v-0.9h1.8v-0.9h1.8h1.8h1.8v-1.8v-1.8h1.8h1.8h1.8h1.8h1.8h1.8v-2.6h1.8v-3.5v-0.9h1.8v-3.5h1.8v-2.6h1.8v-0.9v-2.6h1.8v-2.6h1.8v-0.9h1.8h1.8h1.8h1.8v-6.2h1.8v-2.6v-0.9h1.8v-2.6h1.8v-3.5h1.8v-2.6v-7.9h1.8v-0.9h1.8v-0.9h1.8h1.8h1.8v-5.3"/><path d="M540.0 321.0v-3.3h2.0h2.0h2.0v-3.3h2.0v-1.7h2.0v-5.0h2.0v-1.7v-3.3h2.0h2.0v-0.8v-3.3v-3.3h2.0v-0.8v-2.5h2.0v-0.8h2.0h2.0h2.0v-1.7v-3.3h2.0v-2.5v-0.8h2.0v-2.5v-1.7h2.0h2.0h2.0h2.0h2.0h2.0v-2.5v-2.5h2.0v-0.8h2.0h2.0h2.0v-2.5h2.0v-2.5v-1.7v-1.7h2.0v-0.8v-3.3h2.0v-1.7h2.0v-0.8v-0.8h2.0v-0.8h2.0v-0.8h2.0v-0.8h2.0h2.0h2.0h2.0v-1.7v-2.5h2.0v-0.8v-0.8h2.0h2.0v-0.8h2.0h2.0v-3.3h2.0v-3.3v-5.0v-2.5h2.0h2.0v-3.3h2.0v-3.3h2.0v-1.7h2.0h2.0h2.0v-2.5h2.0v-0.8v-2.5h2.0v-3.3h2.0v-1.7h2.0h2.0h2.0h2.0h2.0v-1.7h2.0h2.0h2.0"/><path d="M540.7 321.2v-4.1h1.7h1.7h1.7v-1.4h1.7v-0.7h1.7v-0.7v-1.4h1.7v-2.7h1.7v-4.1h1.7h1.7h1.7v-1.4h1.7h1.7h1.7h1.7h1.7v-2.1v-0.7h1.7v-1.4v-1.4h1.7v-1.4h1.7v-1.4v-4.8v-1.4h1.7v-2.7h1.7v-2.1h1.7h1.7v-2.1h1.7v-0.7h1.7v-0.7h1.7v-1.4v-2.7h1.7v-2.1h1.7h1.7v-3.4h1.7h1.7v-0.7h1.7v-2.1h1.7v-3.4v-2.1h1.7v-2.1v-5.5h1.7h1.7v-2.7h1.7h1.7h1.7v-0.7h1.7v-2.1v-0.7h1.7v-0.7v-1.4h1.7h1.7h1.7v-1.4h1.7h1.7h1.7h1.7h1.7h1.7h1.7v-0.7v-2.1h1.7v-3.4h1.7v-5.5h1.7v-3.4h1.7v-2.1v-3.4h1.7h1.7h1.7h1.7h1.7h1.7h1.7h1.7v-2.1v-2.7h1.7v-1.4h1.7h1.7h1.7h1.7h1.7h1.7h1.7h1.7v-4.1h1.7v-2.1v-1.4h1.7"/><path d="M540.6 321.3v-4.1v-9.8h2.2v-4.9h2.2h2.2h2.2h2.2v-1.6h2.2h2.2h2.2h2.2h2.2h2.2h2.2h2.2h2.2h2.2h2.2h2.2h2.2v-1.6h2.2h2.2v-1.6v-4.1h2.2v-1.6v-0.8v-0.8h2.2v-1.6v-3.3h2.2v-4.1v-2.4v-2.4h2.2v-4.1h2.2v-1.6h2.2h2.2v-1.6h2.2v-0.8h2.2v-2.4h2.2v-1.6v-0.8v-4.1h2.2v-4.1h2.2h2.2h2.2v-1.6v-0.8h2.2h2.2v-1.6v-0.8h2.2v-0.8v-2.4v-0.8h2.2h2.2v-0.8v-3.3h2.2v-2.4v-1.6h2.2v-0.8v-4.9h2.2v-1.6h2.2v-2.4h2.2v-0.8h2.2v-3.3h2.2v-0.8h2.2h2.2h2.2h2.2v-2.4v-4.9h2.2v-2.4h2.2h2.2h2.2v-0.8h2.2"/><path d="M540.5 320.9h1.7h1.7h1.7h1.7h1.7h1.7h1.7h1.7h1.7h1.7v-0.8h1.7v-0.8v-2.4h1.7v-3.2v-2.4h1.7v-4.0v-3.2h1.7h1.7v-2.4h1.7v-0.8h1.7v-1.6h1.7v-3.2h1.7v-0.8h1.7v-0.8h1.7v-2.4h1.7h1.7v-2.4v-0.8h1.7v-0.8h1.7v-1.6v-2.4h1.7v-4.0v-1.6h1.7v-3.2h1.7v-1.6h1.7v-0.8h1.7v-2.4h1.7h1.7h1.7v-3.2h1.7h1.7v-2.4h1.7v-1.6h1.7h1.7h1.7h1.7h1.7v-2.4h1.7v-0.8h1.7v-2.4h1.7v-3.2v-0.8h1.7v-4.0h1.7v-0.8h1.7v-0.8h1.7v-1.6v-2.4h1.7v-2.4h1.7v-3.2h1.7h1.7v-2.4h1.7h1.7v-1.6h1.7v-0.8h1.7h1.7v-0.8h1.7h1.7h1.7h1.7h1.7v-1.6h1.7v-4.8v-0.8h1.7v-3.2v-1.6h1.7v-2.4h1.7h1.7h1.7v-0.8h1.7v-1.6v-2.4h1.7h1.7v-1.6h1.7"/><path d="M540.4 321.3v-1.9v-0.9h2.0v-1.9h2.0v-2.8h2.0v-0.9h2.0v-0.9h2.0v-1.9h2.0h2.0h2.0h2.0v-1.9h2.0v-3.8v-0.9h2.0v-2.8h2.0v-2.8v-3.8h2.0v-2.8h2.0h2.0v-1.9h2.0v-0.9v-0.9h2.0v-2.8v-1.9h2.0v-3.8h2.0h2.0h2.0v-0.9h2.0h2.0v-2.8h2.0v-0.9v-3.8h2.0v-1.9h2.0h2.0v-5.7h2.0v-0.9h2.0v-1.9v-1.9h2.0v-0.9h2.0h2.0v-1.9v-2.8h2.0v-1.9h2.0h2.0h2.0h2.0h2.0h2.0v-0.9v-0.9h2.0h2.0h2.0h2.0h2.0v-0.9h2.0h2.0h2.0v-6.6h2.0v-4.7h2.0h2.0v-2.8v-0.9v-0.9h2.0v-3.8v-3.8h2.0v-0.9h2.0v-2.8h2.0v-2.8h2.0h2.0h2.0v-2.8h2.0v-1.9h2.0h2.0h2.0"/><path d="M540.7 321.1v-2.8v-1.8h1.8h1.8h1.8v-1.8h1.8v-0.9v-2.8h1.8v-1.8v-1.8h1.8h1.8v-2.8v-2.8h1.8v-1.8h1.8v-1.8v-0.9h1.8h1.8v-0.9h1.8h1.8h1.8v-1.8h1.8h1.8v-2.8h1.8v-0.9v-1.8h1.8v-1.8h1.8v-0.9h1.8v-0.9h1.8h1.8h1.8h1.8v-0.9h1.8v-2.8h1.8v-0.9h1.8h1.8h1.8h1.8h1.8v-1.8h1.8v-0.9h1.8v-3.7h1.8h1.8v-1.8v-0.9h1.8v-3.7h1.8h1.8h1.8v-1.8v-0.9h1.8v-1.8h1.8v-0.9h1.8v-3.7v-3.7h1.8v-4.6v-4.6h1.8v-3.7v-0.9h1.8v-2.8h1.8v-1.8h1.8h1.8h1.8v-1.8v-3.7h1.8v-1.8h1.8v-1.8h1.8h1.8v-0.9h1.8h1.8h1.8h1.8v-0.9h1.8v-0.9v-3.7h1.8h1.8h1.8h1.8h1.8h1.8h1.8h1.8v-0.9h1.8v-1.8h1.8v-5.5"/><path d="M540.6 321.2h1.8h1.8v-0.9v-1.8h1.8v-0.9v-2.7h1.8v-0.9v-2.7v-5.4h1.8v-0.9h1.8v-1.8h1.8v-1.8h1.8v-0.9h1.8v-1.8h1.8v-1.8h1.8v-0.9h1.8h1.8h1.8v-0.9v-0.9h1.8h1.8h1.8h1.8h1.8v-1.8v-3.6h1.8h1.8v-3.6h1.8v-3.6v-1.8v-3.6h1.8v-0.9h1.8v-0.9v-0.9h1.8v-0.9v-3.6h1.8v-3.6h1.8v-1.8h1.8v-1.8v-1.8h1.8v-0.9v-0.9h1.8h1.8v-0.9h1.8v-0.9v-2.7h1.8v-0.9h1.8v-2.7h1.8h1.8h1.8v-0.9v-0.9h1.8h1.8h1.8h1.8h1.8h1.8h1.8h1.8v-3.6h1.8v-1.8h1.8v-0.9v-1.8h1.8h1.8v-1.8h1.8v-0.9h1.8h1.8v-3.6h1.8v-2.7h1.8h1.8v-5.4v-1.8h1.8v-0.9h1.8h1.8h1.8h1.8h1.8h1.8v-2.7v-7.2h1.8h1.8h1.8h1.8"/><path d="M540.3 321.3v-4.4h1.9h1.9h1.9h1.9h1.9h1.9v-1.5h1.9v-2.9v-0.7h1.9v-2.9h1.9v-3.6v-2.2h1.9h1.9h1.9v-0.7v-0.7h1.9v-5.1h1.9v-1.5h1.9v-2.2v-3.6h1.9v-3.6h1.9v-0.7v-0.7v-2.2h1.9v-0.7h1.9h1.9h1.9h1.9h1.9v-0.7v-2.9h1.9v-2.2h1.9v-0.7h1.9v-2.2v-4.4h1.9v-2.2v-2.9h1.9v-0.7v-4.4h1.9v-0.7h1.9v-0.7h1.9h1.9h1.9v-2.2h1.9h1.9v-4.4v-0.7h1.9v-4.4h1.9h1.9v-4.4v-2.2v-2.9h1.9v-2.2v-1.5h1.9v-2.2v-2.2h1.9v-5.1h1.9h1.9h1.9h1.9h1.9h1.9h1.9h1.9v-0.7h1.9v-0.7v-0.7h1.9v-5.1h1.9v-2.2h1.9h1.9h1.9h1.9h1.9h1.9h1.9h1.9h1.9h1.9h1.9h1.9"/><path d="M540.9 321.3v-4.2v-4.2h1.9h1.9h1.9h1.9h1.9h1.9v-1.4v-3.5h1.9h1.9h1.9v-2.1h1.9v-4.9h1.9h1.9h1.9v-2.1h1.9v-2.8h1.9v-2.8v-0.7v-2.8h1.9v-1.4v-0.7h1.9v-7.0h1.9h1.9h1.9h1.9h1.9v-1.4h1.9v-1.4v-2.8h1.9v-0.7v-0.7h1.9h1.9h1.9v-1.4h1.9v-6.3v-3.5h1.9h1.9v-0.7h1.9v-2.1h1.9h1.9h1.9v-0.7h1.9v-1.4h1.9v-0.7h1.9v-1.4v-2.1h1.9v-2.1v-1.4h1.9v-0.7h1.9v-0.7h1.9v-0.7v-0.7h1.9v-2.8v-0.7h1.9h1.9v-2.1h1.9h1.9v-0.7v-1.4h1.9v-1.4h1.9v-0.7h1.9v-3.5v-1.4v-3.5h1.9v-2.1h1.9v-2.8h1.9v-2.1h1.9h1.9h1.9v-2.1v-2.1v-0.7h1.9h1.9v-0.7h1.9v-3.5h1.9h1.9h1.9h1.9h1.9h1.9"/><path d="M539.9 321.0h1.7h1.7v-0.7h1.7v-2.9h1.7h1.7v-0.7v-1.5h1.7v-3.7h1.7h1.7h1.7v-1.5h1.7v-0.7v-0.7h1.7h1.7v-0.7h1.7v-2.9v-0.7h1.7v-3.7h1.7v-1.5v-2.2h1.7v-0.7h1.7v-1.5h1.7v-2.9h1.7v-0.7h1.7h1.7h1.7v-2.9h1.7v-0.7h1.7v-0.7h1.7v-2.2h1.7v-2.9h1.7h1.7h1.7h1.7v-3.7h1.7v-2.9h1.7v-5.1h1.7h1.7h1.7v-2.9v-2.2h1.7h1.7v-0.7h1.7v-1.5h1.7h1.7v-2.2v-3.7h1.7h1.7h1.7v-3.7h1.7v-1.5h1.7v-1.5h1.7v-2.2v-0.7h1.7v-0.7v-1.5h1.7v-2.2h1.7v-1.5h1.7v-0.7h1.7v-4.4h1.7h1.7h1.7h1.7v-0.7h1.7h1.7h1.7h1.7v-2.2h1.7v-1.5v-0.7h1.7v-2.2h1.7h1.7h1.7h1.7h1.7h1.7v-0.7h1.7v-2.2h1.7v-2.2v-0.7h1.7v-2.9v-0.7h1.7v-2.2h1.7v-0.7h1.7v-3.7"/><path d="M540.3 321.1h2.2v-1.0h2.2h2.2v-1.9v-1.9h2.2v-4.8v-1.9v-4.8h2.2v-1.0v-4.8h2.2v-1.0v-3.8v-1.0h2.2v-4.8h2.2v-2.9h2.2v-1.9h2.2v-2.9v-1.9h2.2h2.2h2.2h2.2h2.2h2.2h2.2v-2.9v-1.0v-2.9h2.2v-3.8h2.2h2.2h2.2v-1.0v-1.9h2.2v-1.9v-1.9h2.2v-1.9v-1.0h2.2h2.2v-1.0h2.2v-1.9v-4.8h2.2v-3.8v-2.9h2.2v-1.0h2.2h2.2h2.2h2.2v-1.0h2.2h2.2v-1.9h2.2v-3.8h2.2h2.2h2.2v-1.0h2.2v-1.0h2.2v-1.9v-2.9h2.2v-1.9v-1.0h2.2v-2.9h2.2h2.2h2.2h2.2h2.2h2.2v-2.9v-1.9h2.2h2.2v-1.9v-4.8h2.2h2.2v-1.0h2.2h2.2h2.2"/><path d="M540.5 321.5v-1.8v-2.7h1.9v-0.9h1.9h1.9h1.9h1.9h1.9v-0.9v-0.9h1.9v-0.9h1.9v-0.9h1.9h1.9h1.9h1.9h1.9h1.9v-1.8h1.9h1.9v-1.8h1.9v-0.9v-2.7v-4.5h1.9v-3.6v-5.4h1.9v-2.7h1.9v-0.9v-0.9h1.9v-0.9v-0.9h1.9v-1.8v-3.6h1.9h1.9h1.9v-0.9h1.9v-0.9h1.9v-4.5v-4.5h1.9v-0.9v-0.9h1.9v-1.8v-1.8v-0.9h1.9v-3.6h1.9v-3.6v-0.9h1.9h1.9h1.9h1.9h1.9h1.9h1.9h1.9v-3.6v-0.9h1.9v-3.6h1.9v-1.8h1.9h1.9v-0.9v-1.8h1.9v-3.6h1.9v-1.8h1.9h1.9v-1.8v-0.9h1.9h1.9v-1.8v-2.7h1.9h1.9v-2.7h1.9v-1.8h1.9h1.9h1.9h1.9h1.9v-2.7v-1.8h1.9v-1.8h1.9v-1.8v-0.9h1.9v-0.9h1.9v-0.9v-0.9h1.9h1.9h1.9"/><path d="M540.5 321.5h1.8v-2.2h1.8v-1.4v-3.6h1.8v-2.2v-4.3h1.8v-5.1h1.8h1.8v-0.7h1.8v-0.7h1.8h1.8h1.8h1.8v-2.2h1.8v-2.2h1.8v-0.7h1.8v-1.4h1.8h1.8h1.8h1.8v-2.9v-0.7h1.8v-3.6h1.8v-2.9h1.8v-2.9h1.8v-1.4v-0.7h1.8v-1.4v-0.7h1.8v-0.7v-1.4h1.8h1.8h1.8h1.8h1.8v-1.4h1.8h1.8v-2.9v-1.4h1.8h1.8v-0.7v-3.6h1.8v-2.9h1.8h1.8h1.8h1.8h1.8v-1.4h1.8v-1.4v-1.4h1.8v-2.9h1.8v-3.6v-1.4h1.8h1.8h1.8h1.8v-0.7v-2.9h1.8v-5.1v-2.2h1.8v-0.7v-1.4h1.8v-0.7v-1.4v-0.7h1.8h1.8v-1.4h1.8h1.8v-2.9v-0.7h1.8h1.8v-2.9h1.8v-1.4v-1.4h1.8v-2.2h1.8v-2.2v-0.7h1.8h1.8h1.8h1.8v-0.7h1.8v-1.4v-2.9h1.8h1.8h1.8h1.8h1.8"/><path d="M540.9 321.8v-7.7h1.7v-3.1h1.7h1.7h1.7h1.7h1.7h1.7h1.7h1.7h1.7h1.7v-2.3h1.7v-2.3v-5.4h1.7h1.7v-3.1h1.7v-2.3h1.7h1.7v-0.8h1.7v-1.6h1.7v-1.6h1.7h1.7v-0.8h1.7v-4.7h1.7v-2.3v-0.8h1.7v-0.8v-0.8h1.7v-2.3h1.7v-0.8h1.7h1.7h1.7h1.7h1.7v-1.6v-0.8h1.7v-2.3v-0.8h1.7v-5.4v-1.5h1.7v-0.8h1.7v-0.8h1.7v-0.8h1.7v-0.8v-2.3h1.7v-0.8h1.7v-2.3h1.7v-3.9v-0.8v-2.3h1.7h1.7h1.7v-1.5v-3.1h1.7v-3.9v-0.8h1.7h1.7h1.7h1.7h1.7v-6.2h1.7h1.7h1.7h1.7h1.7h1.7h1.7v-4.6h1.7v-2.3h1.7h1.7h1.7h1.7h1.7h1.7h1.7h1.7v-0.8h1.7h1.7v-0.8v-7.7h1.7v-2.3v-0.8h1.7v-2.3"/><path d="M540.3 321.6v-1.4h1.8h1.8h1.8h1.8v-1.4h1.8v-5.5v-0.7v-4.1h1.8v-1.4v-7.6h1.8v-2.1v-6.9h1.8h1.8h1.8v-2.1v-2.1v-2.8h1.8h1.8v-2.1h1.8v-0.7v-3.5h1.8v-0.7v-0.7h1.8v-3.5v-2.1h1.8h1.8v-0.7v-5.5h1.8v-3.5v-0.7h1.8v-2.1v-1.4h1.8v-3.5v-1.4h1.8v-2.8h1.8v-0.7h1.8v-0.7h1.8h1.8h1.8v-2.1h1.8v-1.4v-3.5h1.8v-1.4h1.8v-3.5v-0.7v-0.7h1.8h1.8h1.8v-1.4v-2.8h1.8h1.8h1.8v-0.7h1.8h1.8h1.8h1.8h1.8h1.8h1.8h1.8v-0.7h1.8v-1.4v-1.4h1.8h1.8v-1.4h1.8h1.8v-2.8v-2.8h1.8h1.8h1.8h1.8h1.8h1.8h1.8h1.8v-3.5v-2.1h1.8v-0.7h1.8h1.8h1.8h1.8h1.8h1.8h1.8h1.8h1.8h1.8h1.8"/><path d="M540.6 321.6v-5.6h1.7h1.7v-0.9v-3.7h1.7v-0.9v-2.8h1.7v-4.6v-2.8h1.7h1.7v-0.9h1.7h1.7h1.7v-1.9h1.7v-1.9h1.7h1.7v-1.9h1.7v-0.9v-0.9h1.7v-0.9h1.7v-0.9v-0.9h1.7v-3.7h1.7v-0.9v-1.9h1.7h1.7h1.7v-0.9h1.7h1.7v-1.9v-1.9h1.7v-0.9h1.7v-3.7h1.7h1.7v-0.9v-0.9h1.7v-5.6v-0.9h1.7v-2.8h1.7v-2.8v-0.9h1.7v-0.9h1.7v-7.4h1.7v-0.9v-1.9h1.7v-7.4h1.7h1.7h1.7h1.7v-3.7v-3.7h1.7v-2.8h1.7h1.7h1.7v-2.8h1.7h1.7h1.7h1.7h1.7h1.7h1.7h1.7h1.7h1.7h1.7v-1.9v-6.5h1.7h1.7h1.7h1.7v-2.8h1.7h1.7h1.7h1.7h1.7v-2.8h1.7h1.7h1.7h1.7h1.7h1.7h1.7h1.7"/><path d="M540.2 321.0v-3.5v-3.5h1.6v-1.7v-1.7h1.6v-3.5v-3.5h1.6v-2.6h1.6v-1.7h1.6h1.6v-0.9h1.6v-2.6h1.6v-4.4h1.6v-0.9v-6.1h1.6v-2.6v-0.9h1.6h1.6v-2.6h1.6h1.6h1.6h1.6v-2.6h1.6v-4.4h1.6h1.6h1.6h1.6h1.6h1.6h1.6v-0.9h1.6v-0.9h1.6v-3.5h1.6h1.6h1.6h1.6v-3.5h1.6h1.6h1.6v-0.9h1.6v-5.3h1.6h1.6h1.6h1.6v-0.9h1.6v-0.9v-1.7h1.6v-1.7v-0.9h1.6v-0.9h1.6v-0.9h1.6h1.6h1.6h1.6h1.6h1.6h1.6h1.6v-1.7h1.6v-0.9v-2.6h1.6v-0.9v-2.6h1.6v-0.9h1.6h1.6h1.6h1.6v-1.7h1.6v-1.7h1.6v-1.7v-0.9h1.6h1.6v-0.9v-4.4h1.6v-5.2v-2.6h1.6v-3.5h1.6h1.6h1.6v-1.7h1.6v-1.7h1.6h1.6h1.6h1.6h1.6h1.6h1.6"/><path d="M540.8 321.0v-4.3v-5.0h1.6v-3.6v-2.9h1.6h1.6v-2.1h1.6v-0.7h1.6v-1.4h1.6v-3.6v-3.6h1.6v-2.9h1.6h1.6h1.6h1.6h1.6v-0.7v-2.1h1.6v-2.9v-1.4h1.6v-0.7h1.6h1.6h1.6h1.6v-4.3v-3.6h1.6v-4.3h1.6v-2.1v-2.9h1.6h1.6v-3.6v-2.1h1.6v-2.1v-2.9h1.6v-0.7h1.6v-0.7h1.6v-0.7h1.6v-5.0h1.6h1.6h1.6v-2.1h1.6v-1.4v-0.7h1.6v-0.7v-2.9h1.6h1.6v-2.1v-3.6h1.6v-1.4h1.6h1.6h1.6h1.6h1.6h1.6h1.6h1.6h1.6v-1.4h1.6v-2.1v-1.4h1.6v-0.7v-1.4h1.6h1.6h1.6v-0.7h1.6h1.6h1.6h1.6h1.6v-0.7h1.6v-1.4h1.6v-0.7v-2.9h1.6h1.6h1.6h1.6h1.6h1.6h1.6h1.6h1.6h1.6h1.6h1.6h1.6v-1.4v-2.1h1.6v-0.7v-0.7h1.6v-2.1h1.6h1.6h1.6"/><path d="M540.9 321.5h1.7v-0.7v-1.4h1.7v-5.5v-4.8h1.7h1.7v-2.8h1.7v-4.1v-2.1h1.7v-0.7h1.7v-0.7v-2.1h1.7v-3.5h1.7v-2.1h1.7v-2.8v-2.8h1.7v-4.1v-3.5h1.7v-3.5v-2.8h1.7h1.7v-2.8v-0.7h1.7h1.7v-4.1h1.7h1.7v-1.4v-2.1h1.7v-0.7h1.7h1.7h1.7h1.7h1.7v-1.4h1.7h1.7v-2.1h1.7v-0.7v-0.7h1.7v-2.1h1.7v-0.7v-0.7h1.7v-0.7h1.7h1.7h1.7h1.7v-0.7h1.7v-4.1v-2.1v-2.1h1.7v-2.1h1.7h1.7v-2.8v-0.7h1.7h1.7v-3.5h1.7h1.7h1.7h1.7h1.7h1.7h1.7h1.7h1.7h1.7h1.7h1.7h1.7h1.7h1.7h1.7h1.7h1.7h1.7h1.7h1.7v-2.1h1.7v-0.7h1.7v-2.1h1.7h1.7h1.7v-3.5h1.7h1.7v-2.1v-1.4h1.7v-0.7v-5.5h1.7v-2.1"/><path d="M540.0 321.0v-5.8v-2.2h1.9h1.9h1.9h1.9v-3.6h1.9v-2.2h1.9v-2.2h1.9h1.9h1.9h1.9h1.9h1.9h1.9v-0.7h1.9v-2.2h1.9v-0.7v-1.5h1.9v-2.9h1.9v-2.2v-0.7h1.9v-1.5v-4.4h1.9v-3.6h1.9v-2.9h1.9h1.9v-2.9h1.9v-0.7v-3.6h1.9v-0.7h1.9v-3.6h1.9h1.9h1.9h1.9v-2.2v-6.6h1.9v-1.5h1.9v-1.5h1.9v-0.7h1.9v-4.4h1.9h1.9h1.9h1.9h1.9v-0.7h1.9v-2.9v-3.6h1.9v-2.9h1.9v-2.2v-0.7h1.9v-2.9h1.9h1.9v-2.9v-1.5v-2.9h1.9h1.9h1.9h1.9h1.9v-2.9v-3.6h1.9h1.9h1.9h1.9h1.9h1.9h1.9h1.9h1.9v-0.7h1.9v-0.7v-1.5h1.9h1.9h1.9v-0.7h1.9h1.9v-7.3"/><path d="M540.7 321.7v-0.8h1.9h1.9v-4.5v-0.8v-2.3h1.9v-1.5h1.9v-3.0h1.9v-0.8h1.9v-0.8h1.9v-3.0h1.9h1.9v-4.5v-3.0h1.9v-1.5h1.9v-2.3v-0.8h1.9v-2.3h1.9h1.9h1.9h1.9v-2.3v-3.8h1.9v-1.5v-1.5h1.9v-0.8v-1.5h1.9h1.9h1.9v-3.8h1.9h1.9h1.9v-1.5h1.9h1.9v-4.5h1.9v-0.8v-2.3h1.9h1.9v-1.5h1.9v-0.8v-0.8h1.9v-1.5h1.9h1.9h1.9h1.9h1.9v-0.8v-3.0h1.9v-3.0h1.9h1.9h1.9v-2.3h1.9h1.9h1.9v-0.8v-0.8h1.9v-0.8v-0.8h1.9v-3.0h1.9v-2.3h1.9v-0.8v-4.5h1.9v-3.0v-5.3v-4.5h1.9h1.9v-1.5h1.9h1.9h1.9h1.9v-1.5h1.9v-6.0v-1.5h1.9v-1.5v-0.8h1.9h1.9h1.9h1.9h1.9h1.9"/><path d="M540.7 321.8v-6.3h2.2v-3.5v-7.0h2.2v-0.7h2.2v-1.4v-1.4h2.2v-0.7v-0.7v-2.1h2.2h2.2h2.2h2.2h2.2h2.2h2.2h2.2h2.2h2.2h2.2h2.2h2.2h2.2h2.2h2.2v-2.1h2.2v-0.7h2.2v-5.6v-2.1v-2.8h2.2h2.2v-2.1h2.2v-0.7h2.2h2.2h2.2h2.2h2.2h2.2v-0.7v-2.1h2.2v-0.7v-0.7h2.2h2.2v-1.4v-2.1v-0.7h2.2v-0.7h2.2v-2.1v-2.1h2.2v-0.7h2.2h2.2h2.2v-1.4v-1.4h2.2v-2.1v-2.8h2.2h2.2v-2.1v-0.7h2.2v-2.1h2.2h2.2h2.2v-1.4h2.2v-2.1h2.2v-4.2v-0.7h2.2v-2.1v-4.2h2.2v-3.5v-0.7h2.2v-0.7v-4.2h2.2v-0.7v-2.8h2.2v-5.6h2.2v-7.8h2.2v-0.7"/><path d="M540.1 321.9h2.1h2.1h2.1h2.1h2.1h2.1h2.1h2.1h2.1v-2.0h2.1h2.1h2.1h2.1h2.1h2.1h2.1h2.1h2.1v-1.0h2.1h2.1h2.1h2.1v-1.0v-2.0h2.1v-2.0h2.1v-1.0h2.1h2.1v-4.9h2.1v-3.9v-1.0v-4.9h2.1v-1.0v-1.0h2.1v-2.0v-1.0h2.1v-2.0h2.1v-1.0v-2.9h2.1v-1.0h2.1v-2.0v-3.9h2.1v-1.0h2.1v-2.0h2.1v-1.0h2.1v-3.9v-2.0h2.1v-2.0v-5.9h2.1v-3.9v-6.8h2.1v-2.9h2.1v-2.0h2.1v-2.9v-1.0h2.1v-2.9v-2.9v-2.9h2.1v-1.0v-1.0h2.1h2.1h2.1h2.1h2.1v-3.9h2.1v-2.0v-2.0h2.1v-2.0v-2.9h2.1h2.1h2.1v-2.9h2.1v-3.9h2.1h2.1h2.1"/><path d="M539.9 321.9v-9.5h1.7h1.7h1.7h1.7v-1.7h1.7h1.7h1.7v-2.6h1.7h1.7h1.7h1.7v-6.0h1.7v-1.7h1.7h1.7v-0.9v-0.9v-3.4h1.7h1.7v-0.9h1.7v-0.9h1.7v-3.4h1.7h1.7v-0.9v-0.9h1.7v-1.7v-3.4h1.7h1.7v-4.3v-0.9h1.7v-0.9h1.7v-2.6v-1.7h1.7v-0.9h1.7v-1.7v-3.4h1.7v-1.7v-0.9h1.7v-0.9v-3.4h1.7h1.7v-1.7h1.7v-1.7h1.7v-2.6h1.7h1.7h1.7h1.7v-0.9h1.7h1.7h1.7v-3.4h1.7v-1.7h1.7h1.7h1.7h1.7h1.7h1.7h1.7h1.7h1.7h1.7h1.7v-0.9h1.7v-0.9h1.7v-3.4v-3.4h1.7v-1.7v-3.4h1.7v-0.9v-1.7v-5.2h1.7h1.7h1.7h1.7h1.7h1.7h1.7h1.7h1.7v-0.9h1.7v-2.6v-6.0h1.7v-2.6h1.7v-0.9h1.7h1.7"/><path d="M540.4 321.5v-4.7v-3.9h1.7h1.7v-0.8v-6.2h1.7v-1.6v-2.3h1.7v-0.8v-1.6h1.7v-5.5v-2.3h1.7h1.7v-3.9h1.7h1.7h1.7h1.7v-0.8h1.7h1.7h1.7h1.7h1.7h1.7h1.7v-1.6h1.7v-0.8h1.7h1.7v-0.8h1.7v-2.3v-0.8h1.7v-1.6h1.7v-0.8v-3.1v-0.8h1.7v-6.2h1.7v-1.6v-2.3h1.7h1.7v-0.8h1.7v-0.8h1.7h1.7h1.7h1.7h1.7v-0.8h1.7v-0.8v-1.6h1.7h1.7h1.7h1.7h1.7h1.7h1.7v-0.8h1.7v-0.8h1.7h1.7h1.7v-3.1v-0.8h1.7h1.7v-3.1v-3.9v-0.8h1.7v-1.6h1.7v-3.1v-1.6h1.7h1.7h1.7v-1.6v-0.8h1.7v-0.8v-0.8h1.7v-4.7h1.7v-0.8v-1.6h1.7v-3.1h1.7h1.7h1.7h1.7h1.7h1.7h1.7h1.7v-0.8v-3.1h1.7v-0.8v-3.9h1.7v-1.6v-2.3h1.7h1.7h1.7h1.7h1.7v-0.8"/><path d="M540.4 321.4v-1.9h2.1v-2.8h2.1v-1.9h2.1v-1.9h2.1v-4.7v-0.9h2.1v-0.9v-1.9h2.1h2.1h2.1h2.1v-2.8h2.1v-3.7h2.1h2.1h2.1h2.1h2.1v-1.9v-5.6h2.1h2.1v-2.8v-0.9h2.1h2.1v-0.9v-1.9h2.1v-0.9h2.1v-0.9h2.1v-1.9h2.1h2.1v-1.9v-0.9h2.1v-1.9h2.1h2.1v-0.9v-2.8h2.1h2.1h2.1v-1.9h2.1v-0.9v-3.7h2.1v-1.9v-1.9v-0.9h2.1v-0.9v-3.7h2.1v-2.8v-2.8v-0.9h2.1v-1.9h2.1h2.1h2.1h2.1h2.1h2.1h2.1h2.1h2.1v-0.9v-2.8h2.1h2.1v-0.9h2.1v-0.9h2.1v-0.9v-3.7h2.1v-1.9v-3.7v-3.7h2.1h2.1h2.1h2.1h2.1h2.1v-0.9h2.1v-3.7v-6.5h2.1v-2.8v-0.9h2.1"/><path d="M540.1 320.9v-3.2v-7.2h1.7v-1.6v-4.0h1.7v-4.0v-4.0h1.7v-0.8h1.7v-1.6v-3.2h1.7v-4.0h1.7h1.7h1.7h1.7h1.7h1.7h1.7h1.7v-0.8h1.7h1.7v-1.6h1.7v-0.8h1.7h1.7h1.7h1.7h1.7v-3.2h1.7v-1.6v-1.6h1.7v-0.8h1.7v-1.6v-1.6v-0.8h1.7v-1.6v-4.0h1.7v-4.0v-3.2h1.7v-1.6h1.7h1.7h1.7h1.7v-0.8v-1.6h1.7v-1.6h1.7h1.7v-1.6v-1.6h1.7v-1.6v-0.8h1.7v-2.4h1.7h1.7h1.7h1.7v-1.6h1.7v-2.4v-1.6h1.7v-0.8h1.7h1.7h1.7v-2.4h1.7v-1.6h1.7v-0.8v-4.0h1.7v-2.4v-2.4h1.7h1.7h1.7h1.7h1.7h1.7h1.7v-0.8h1.7v-3.2h1.7h1.7v-1.6v-1.6h1.7v-1.6h1.7h1.7v-4.8h1.7v-0.8h1.7h1.7h1.7h1.7h1.7h1.7h1.7h1.7h1.7h1.7"/><path d="M540.0 321.4v-2.2v-4.4h1.7v-2.2h1.7h1.7h1.7h1.7v-3.6h1.7v-5.1v-5.8h1.7v-2.9h1.7h1.7h1.7h1.7h1.7h1.7h1.7h1.7v-0.7h1.7v-0.7h1.7v-2.9h1.7h1.7v-0.7v-2.9h1.7v-3.6h1.7h1.7v-0.7v-2.2h1.7v-5.1h1.7v-0.7v-2.2v-2.2h1.7v-0.7v-2.2h1.7v-3.6h1.7v-2.9h1.7v-2.9h1.7h1.7h1.7h1.7h1.7h1.7h1.7h1.7h1.7h1.7h1.7h1.7h1.7h1.7h1.7v-0.7h1.7h1.7v-1.5h1.7v-4.4h1.7v-2.9h1.7v-0.7v-2.9h1.7v-2.2h1.7v-1.5v-2.9h1.7v-4.4v-2.2h1.7v-1.5h1.7v-2.2v-2.2h1.7v-2.2h1.7h1.7h1.7h1.7h1.7v-0.7h1.7h1.7v-0.7h1.7v-2.2h1.7h1.7v-0.7v-1.5h1.7h1.7v-3.6v-1.5h1.7h1.7h1.7h1.7h1.7h1.7"/><path d="M540.6 321.0h1.8v-0.7v-7.1h1.8v-3.5h1.8v-2.8h1.8v-1.4v-1.4h1.8h1.8v-4.3h1.8h1.8v-0.7h1.8v-2.1v-2.1h1.8v-2.1v-3.5h1.8h1.8h1.8h1.8h1.8h1.8h1.8h1.8h1.8h1.8h1.8v-0.7h1.8v-1.4h1.8v-1.4h1.8h1.8v-0.7h1.8h1.8v-0.7h1.8v-1.4h1.8v-4.3v-2.1h1.8h1.8h1.8h1.8v-2.1h1.8v-1.4v-2.1h1.8h1.8h1.8h1.8h1.8h1.8v-0.7v-0.7h1.8v-0.7h1.8h1.8h1.8v-4.3h1.8v-2.1h1.8v-1.4h1.8v-2.1v-2.8h1.8v-3.5h1.8v-2.1v-1.4h1.8v-4.3h1.8v-1.4h1.8h1.8v-1.4h1.8v-0.7v-0.7h1.8v-0.7v-2.1h1.8v-2.1v-0.7h1.8v-0.7h1.8h1.8v-2.8h1.8v-2.8v-1.4h1.8v-3.5v-1.4h1.8v-3.5v-0.7h1.8v-5.0h1.8h1.8h1.8h1.8h1.8"/><path d="M540.5 321.3v-7.0h1.8v-1.6v-0.8h1.8v-1.6h1.8v-7.0h1.8v-0.8h1.8h1.8h1.8h1.8h1.8v-1.6h1.8v-3.1v-3.9v-1.6h1.8v-2.3h1.8h1.8h1.8h1.8h1.8h1.8v-2.3h1.8v-0.8v-1.6h1.8v-1.6h1.8v-2.3h1.8v-0.8v-1.6h1.8v-3.9h1.8v-2.3h1.8h1.8h1.8h1.8h1.8h1.8h1.8h1.8h1.8v-1.6v-1.6h1.8v-4.7h1.8v-0.8v-3.1h1.8v-3.1h1.8h1.8v-3.1h1.8v-4.7v-0.8h1.8v-1.6v-3.1h1.8h1.8h1.8h1.8h1.8h1.8h1.8h1.8h1.8v-2.3v-0.8h1.8v-1.6v-0.8v-4.7h1.8h1.8h1.8v-3.9h1.8h1.8h1.8h1.8h1.8h1.8h1.8h1.8v-1.6v-1.6h1.8h1.8v-4.7h1.8v-0.8v-2.3h1.8v-2.3h1.8h1.8v-2.3h1.8v-2.3h1.8"/><path d="M540.1 321.2v-4.2v-1.7h2.1h2.1h2.1h2.1h2.1v-0.8h2.1v-0.8h2.1v-1.7h2.1h2.1v-1.7h2.1v-0.8v-3.3v-1.7h2.1h2.1v-3.3h2.1v-2.5h2.1h2.1v-3.3h2.1v-3.3v-4.2h2.1v-3.3h2.1h2.1h2.1v-2.5h2.1v-0.8h2.1v-3.3h2.1v-2.5v-2.5h2.1v-1.7v-1.7h2.1v-0.8h2.1v-0.8v-4.2h2.1v-4.2h2.1v-0.8h2.1v-2.5h2.1h2.1h2.1h2.1v-0.8h2.1v-0.8v-4.2h2.1v-0.8h2.1v-2.5h2.1v-2.5h2.1h2.1v-2.5h2.1h2.1v-3.3h2.1h2.1h2.1h2.1h2.1h2.1v-0.8h2.1h2.1v-0.8h2.1v-0.8h2.1v-3.3h2.1v-0.8v-1.7h2.1v-1.7v-3.3h2.1v-0.8v-5.0h2.1v-1.7h2.1v-1.7v-1.7h2.1h2.1v-1.7"/><path d="M540.1 321.2v-9.9v-3.5h2.2v-1.4v-2.8v-4.9h2.2h2.2h2.2h2.2h2.2v-0.7v-0.7h2.2v-2.1v-2.8v-0.7h2.2h2.2h2.2h2.2h2.2v-1.4h2.2h2.2h2.2h2.2v-2.8h2.2v-0.7v-0.7h2.2v-2.8v-5.6h2.2h2.2h2.2h2.2h2.2h2.2v-2.1h2.2v-2.1v-1.4h2.2v-2.1h2.2h2.2v-2.1h2.2v-1.4v-1.4h2.2h2.2v-1.4h2.2v-2.1v-2.1h2.2v-3.5h2.2v-1.4v-0.7h2.2h2.2h2.2h2.2v-4.2v-0.7h2.2v-3.5v-2.1h2.2h2.2v-2.8v-3.5h2.2h2.2v-2.1h2.2v-2.1v-0.7v-2.8h2.2v-4.9v-1.4v-2.8h2.2h2.2h2.2h2.2v-0.7h2.2h2.2v-1.4h2.2v-1.4h2.2v-3.5h2.2h2.2"/><path d="M540.2 321.5v-1.0v-3.9h1.8h1.8v-1.0v-3.0h1.8v-2.0v-3.0h1.8h1.8h1.8h1.8h1.8h1.8h1.8h1.8h1.8h1.8h1.8h1.8h1.8h1.8v-2.0h1.8v-2.0h1.8v-1.0h1.8v-3.0h1.8v-3.9v-3.0h1.8v-2.0v-1.0h1.8v-2.0v-4.9h1.8h1.8v-2.0v-3.0h1.8v-2.0h1.8v-1.0h1.8v-2.0h1.8h1.8v-2.0h1.8h1.8h1.8v-2.0h1.8h1.8v-1.0h1.8v-1.0v-2.0h1.8v-2.0h1.8v-1.0v-3.0h1.8v-4.9h1.8v-1.0h1.8h1.8h1.8v-1.0h1.8v-1.0v-1.0h1.8h1.8h1.8h1.8v-3.9h1.8v-1.0h1.8v-2.0h1.8h1.8h1.8h1.8v-3.0v-5.9h1.8v-1.0v-2.0h1.8v-3.0v-4.9h1.8v-1.0h1.8v-3.0h1.8h1.8h1.8v-1.0v-1.0h1.8v-1.0v-1.0h1.8h1.8v-2.0h1.8v-1.0h1.8"/><path d="M540.7 321.6v-4.5v-3.6h1.9h1.9h1.9h1.9h1.9h1.9v-0.9v-0.9h1.9h1.9v-0.9h1.9h1.9v-0.9h1.9h1.9h1.9v-0.9v-2.7h1.9v-1.8v-1.8h1.9h1.9h1.9v-1.8h1.9h1.9v-1.8h1.9v-0.9h1.9v-2.7h1.9v-0.9h1.9h1.9v-0.9h1.9v-0.9h1.9v-2.7v-1.8v-3.6h1.9h1.9v-1.8v-1.8h1.9h1.9h1.9v-0.9v-0.9h1.9h1.9v-1.8v-5.4h1.9h1.9v-0.9h1.9v-0.9h1.9h1.9h1.9v-1.8h1.9v-0.9h1.9v-0.9h1.9v-2.7h1.9h1.9h1.9v-0.9h1.9h1.9v-2.7h1.9h1.9v-0.9h1.9h1.9v-1.8h1.9v-2.7v-0.9v-2.7h1.9v-3.6h1.9v-5.4v-3.6h1.9h1.9v-0.9h1.9v-1.8h1.9v-0.9v-3.6v-2.7h1.9v-1.8h1.9v-4.5h1.9h1.9v-1.8v-5.4h1.9v-1.8h1.9h1.9"/><path d="M540.4 321.8v-3.6h2.1v-6.4h2.1h2.1v-3.6h2.1v-2.7h2.1v-0.9h2.1v-0.9v-1.8h2.1h2.1h2.1h2.1h2.1h2.1h2.1h2.1h2.1h2.1h2.1h2.1h2.1h2.1h2.1v-0.9v-3.6h2.1v-0.9h2.1h2.1h2.1v-2.7v-3.6h2.1v-4.6h2.1v-2.7h2.1v-1.8h2.1v-2.7h2.1h2.1h2.1v-0.9v-1.8h2.1v-1.8v-3.6v-1.8h2.1v-5.5v-0.9h2.1v-1.8v-1.8v-2.7h2.1v-2.7v-0.9h2.1h2.1h2.1h2.1v-1.8v-0.9v-0.9h2.1h2.1h2.1h2.1v-0.9h2.1v-0.9v-0.9h2.1h2.1h2.1v-1.8h2.1v-2.7v-4.6v-1.8h2.1v-1.8v-4.6h2.1h2.1v-2.7v-2.7h2.1h2.1h2.1v-6.4v-1.8h2.1v-0.9h2.1"/><path d="M540.6 321.6h1.7v-2.9v-1.9h1.7v-2.9h1.7v-1.9v-4.8h1.7v-1.9h1.7v-1.0h1.7v-2.9v-3.8h1.7v-1.0h1.7h1.7h1.7v-1.9h1.7h1.7h1.7h1.7h1.7h1.7v-4.8h1.7v-2.9h1.7h1.7v-4.8h1.7v-1.9v-1.0h1.7h1.7h1.7h1.7h1.7h1.7h1.7h1.7h1.7v-2.9h1.7v-1.0v-5.7h1.7h1.7h1.7h1.7h1.7h1.7h1.7h1.7h1.7h1.7h1.7h1.7v-1.9h1.7v-3.8h1.7h1.7h1.7h1.7h1.7h1.7v-1.0v-1.9h1.7v-1.9v-2.9h1.7v-1.9v-1.0h1.7v-1.9v-1.0h1.7v-4.8h1.7v-5.7v-1.0h1.7v-5.7h1.7v-1.9v-1.9v-1.9h1.7v-1.0h1.7v-1.9h1.7v-1.0v-3.8h1.7v-1.0h1.7v-4.8v-1.0h1.7v-1.0h1.7h1.7h1.7h1.7h1.7h1.7h1.7h1.7"/><path d="M540.5 321.5h1.9h1.9h1.9v-2.8h1.9v-0.9v-3.7h1.9v-7.4h1.9h1.9v-0.9v-1.8v-3.7h1.9v-5.5h1.9h1.9v-0.9h1.9h1.9h1.9h1.9h1.9v-3.7v-1.8h1.9v-3.7h1.9v-0.9h1.9h1.9h1.9h1.9v-1.8v-1.8h1.9v-0.9h1.9v-2.8h1.9h1.9v-2.8h1.9v-1.8v-1.8h1.9v-0.9v-0.9h1.9v-2.8h1.9h1.9h1.9v-0.9v-2.8h1.9h1.9v-1.8v-2.8h1.9v-5.5h1.9v-0.9h1.9v-0.9v-1.8v-1.8h1.9v-1.8h1.9h1.9h1.9h1.9h1.9v-2.8v-3.7h1.9h1.9v-0.9h1.9h1.9h1.9v-0.9h1.9h1.9v-0.9h1.9v-1.8v-2.8h1.9h1.9h1.9h1.9v-0.9h1.9v-1.8v-3.7v-3.7h1.9v-4.6v-0.9h1.9h1.9v-0.9h1.9h1.9v-0.9h1.9h1.9"/><path d="M540.4 321.7v-11.2v-3.5h1.6v-7.0h1.6h1.6h1.6h1.6h1.6h1.6h1.6h1.6h1.6h1.6h1.6h1.6v-1.4v-3.5h1.6v-2.8h1.6h1.6h1.6v-2.8h1.6v-0.7v-0.7h1.6v-4.9h1.6v-3.5h1.6v-1.4h1.6v-2.1v-0.7h1.6v-0.7v-2.8h1.6v-2.8v-5.6h1.6v-0.7h1.6h1.6h1.6h1.6h1.6h1.6h1.6h1.6h1.6h1.6h1.6h1.6h1.6h1.6h1.6h1.6v-0.7h1.6h1.6v-0.7v-1.4h1.6v-2.1h1.6h1.6v-2.8h1.6v-1.4v-2.1h1.6h1.6v-2.8v-1.4h1.6h1.6v-1.4h1.6v-4.2h1.6v-2.1v-2.1h1.6h1.6h1.6v-0.7h1.6v-1.4h1.6v-0.7h1.6v-2.1h1.6v-2.1h1.6h1.6h1.6v-5.6v-1.4h1.6v-1.4v-5.6h1.6h1.6h1.6v-3.5h1.6h1.6h1.6h1.6h1.6h1.6h1.6"/><path d="M540.5 321.9v-4.9v-3.2h1.8v-2.4h1.8h1.8h1.8h1.8h1.8v-0.8h1.8v-0.8h1.8h1.8v-0.8h1.8v-1.6v-2.4h1.8v-2.4v-0.8v-1.6h1.8v-2.4v-4.9h1.8v-0.8h1.8h1.8h1.8v-0.8v-4.0h1.8v-2.4h1.8v-1.6v-2.4h1.8v-2.4v-2.4h1.8v-2.4v-2.4h1.8h1.8v-1.6v-1.6h1.8v-3.2h1.8h1.8v-0.8v-0.8h1.8v-3.2v-0.8h1.8h1.8h1.8v-1.6h1.8v-1.6v-2.4h1.8v-2.4v-5.7h1.8h1.8v-1.6v-1.6h1.8h1.8v-3.2v-2.4h1.8v-1.6v-2.4h1.8v-4.9v-1.6h1.8h1.8v-0.8h1.8h1.8h1.8h1.8h1.8h1.8v-2.4v-2.4h1.8h1.8v-2.4v-3.2h1.8v-0.8h1.8h1.8h1.8h1.8h1.8h1.8h1.8h1.8h1.8h1.8h1.8h1.8h1.8h1.8h1.8h1.8h1.8h1.8"/><path d="M540.0 321.5v-12.1h2.2h2.2h2.2v-1.4h2.2v-2.1h2.2v-1.4h2.2v-0.7h2.2v-1.4v-3.5h2.2v-1.4v-5.0v-0.7h2.2h2.2v-0.7v-0.7v-2.1h2.2v-3.5h2.2h2.2h2.2h2.2h2.2h2.2v-0.7v-1.4h2.2v-1.4v-0.7h2.2v-5.0h2.2v-1.4v-2.1h2.2v-2.1h2.2v-0.7v-2.1h2.2v-2.1v-0.7h2.2h2.2v-3.5h2.2h2.2h2.2v-1.4v-1.4h2.2v-2.1h2.2v-1.4v-1.4h2.2v-3.5h2.2h2.2v-0.7v-0.7h2.2v-2.1v-2.1h2.2h2.2v-1.4h2.2h2.2h2.2h2.2h2.2v-2.1h2.2v-4.3h2.2h2.2v-5.7v-2.8h2.2v-0.7h2.2v-2.8h2.2v-0.7h2.2h2.2v-1.4v-1.4h2.2h2.2h2.2h2.2v-1.4h2.2v-3.5h2.2v-2.1"/><path d="M540.4 321.0v-6.9h1.9v-3.4h1.9h1.9h1.9v-0.7v-3.4h1.9h1.9v-3.4h1.9v-0.7h1.9v-2.7h1.9h1.9v-0.7h1.9h1.9h1.9v-2.1v-3.4h1.9h1.9v-0.7v-0.7v-4.1h1.9h1.9v-4.1v-0.7h1.9v-1.4h1.9v-4.1v-2.7h1.9v-2.1v-2.7h1.9v-0.7v-4.1h1.9v-4.1v-4.1h1.9v-0.7v-1.4h1.9h1.9h1.9h1.9h1.9h1.9v-3.4h1.9v-2.1v-3.4h1.9v-3.4v-2.7h1.9v-1.4h1.9h1.9h1.9v-1.4v-2.1v-2.7h1.9v-2.1h1.9h1.9v-0.7v-0.7h1.9h1.9h1.9v-0.7v-0.7h1.9v-0.7h1.9v-2.1h1.9v-1.4h1.9h1.9v-2.7h1.9h1.9h1.9v-4.8v-3.4h1.9h1.9h1.9h1.9h1.9h1.9h1.9h1.9h1.9h1.9h1.9h1.9h1.9h1.9h1.9"/><path d="M540.6 321.1h1.9h1.9h1.9h1.9v-3.1v-2.3h1.9v-9.2v-0.8h1.9h1.9v-1.5h1.9v-0.8v-3.8h1.9v-0.8h1.9v-0.8v-2.3h1.9h1.9h1.9v-2.3v-2.3v-0.8h1.9v-3.1v-0.8h1.9v-2.3v-2.3h1.9v-2.3h1.9v-3.1v-2.3h1.9v-3.8v-3.8h1.9h1.9v-3.8v-1.5h1.9v-0.8v-1.5h1.9h1.9v-1.5v-2.3h1.9h1.9h1.9h1.9h1.9h1.9h1.9v-3.1h1.9v-6.2h1.9h1.9h1.9h1.9h1.9h1.9h1.9h1.9h1.9h1.9v-0.8v-6.2h1.9h1.9h1.9v-1.5h1.9v-3.1h1.9h1.9h1.9v-3.1v-0.8h1.9v-1.5v-1.5h1.9v-3.1h1.9v-3.1v-1.5h1.9v-2.3v-0.8h1.9h1.9h1.9h1.9h1.9v-0.8h1.9h1.9h1.9h1.9v-0.8h1.9v-2.3h1.9h1.9h1.9"/><path d="M540.4 321.5v-2.6h1.7v-0.9h1.7h1.7v-1.7h1.7h1.7h1.7h1.7h1.7v-2.6v-5.2h1.7v-3.5v-0.9h1.7h1.7h1.7v-0.9v-4.4h1.7v-3.5h1.7v-4.4v-0.9h1.7h1.7v-2.6h1.7v-0.9v-2.6h1.7v-0.9v-3.5h1.7h1.7v-3.5h1.7v-0.9h1.7v-2.6v-1.7h1.7v-4.4h1.7v-4.4v-1.8v-0.9h1.7h1.7h1.7h1.7v-2.6h1.7h1.7v-1.7v-2.6h1.7v-0.9h1.7h1.7h1.7h1.7v-1.7h1.7h1.7h1.7h1.7h1.7v-1.7h1.7h1.7h1.7v-1.8h1.7h1.7h1.7v-3.5h1.7h1.7v-1.7h1.7v-1.7v-0.9h1.7v-3.5h1.7v-1.8h1.7v-3.5h1.7h1.7h1.7h1.7h1.7h1.7h1.7h1.7h1.7h1.7h1.7h1.7h1.7h1.7v-7.0h1.7v-3.5h1.7v-0.9v-0.9h1.7v-3.5v-0.9h1.7h1.7h1.7"/><path d="M540.8 321.5v-2.8h2.0v-4.7v-1.9h2.0v-0.9h2.0h2.0h2.0h2.0h2.0v-1.9h2.0v-2.8h2.0h2.0v-2.8h2.0v-0.9v-3.8h2.0v-1.9v-0.9h2.0v-2.8h2.0v-3.8h2.0h2.0v-0.9v-1.9h2.0v-0.9h2.0v-3.8v-2.8h2.0v-5.7h2.0v-1.9v-0.9h2.0v-0.9h2.0h2.0v-1.9v-1.9h2.0h2.0v-0.9v-1.9h2.0v-1.9v-4.7h2.0v-2.8h2.0h2.0v-1.9h2.0v-0.9h2.0h2.0v-0.9h2.0v-1.9h2.0v-0.9v-0.9h2.0v-1.9h2.0v-0.9v-0.9h2.0v-0.9v-1.9h2.0h2.0h2.0v-0.9h2.0h2.0h2.0h2.0h2.0h2.0h2.0v-0.9v-1.9h2.0v-4.7h2.0v-1.9v-2.8h2.0v-2.8h2.0v-2.8h2.0v-0.9v-1.9h2.0v-1.9h2.0v-1.9v-0.9h2.0h2.0h2.0h2.0h2.0h2.0"/></g>
<polyline points="540.4,321.4 545.6,313.2 552.7,302.5 561.6,291.9 570.4,281.1 581.1,270.5 591.7,261.6 604.1,251.0 614.7,242.1 627.2,231.5 637.9,222.6 648.5,215.4 654.9,213.4 660.9,212.9" fill="none" stroke="#4a67c4" stroke-width="0.9"/>
<path d="M536.0 208.5H667.0" stroke="#707070" stroke-width="1"/>
<path d="M536.5 208.5V324.5" stroke="#555" stroke-width="1"/>
<path d="M666.5 208.5V325.0" stroke="#555" stroke-width="1"/>
<path d="M536.0 324.5H667.0" stroke="#505050" stroke-width="1"/>
<line x1="540.4" y1="324.8" x2="540.4" y2="327.7" stroke="#555" stroke-width="0.7"/>
<text x="540.4" y="336.8" font-size="7.4" text-anchor="middle" fill="#4a4a4a" stroke="#4a4a4a" stroke-width="0.15">0.0</text>
<line x1="534.0" y1="321.4" x2="536.0" y2="321.4" stroke="#555" stroke-width="0.7"/>
<text x="530.4" y="319.9" font-size="7.4" text-anchor="middle" fill="#4a4a4a" stroke="#4a4a4a" stroke-width="0.15" transform="rotate(-90 530.4 319.9)">0.0</text>
<line x1="564.5" y1="324.8" x2="564.5" y2="327.7" stroke="#555" stroke-width="0.7"/>
<text x="564.5" y="336.8" font-size="7.4" text-anchor="middle" fill="#4a4a4a" stroke="#4a4a4a" stroke-width="0.15">0.2</text>
<line x1="534.0" y1="299.7" x2="536.0" y2="299.7" stroke="#555" stroke-width="0.7"/>
<text x="530.4" y="298.2" font-size="7.4" text-anchor="middle" fill="#4a4a4a" stroke="#4a4a4a" stroke-width="0.15" transform="rotate(-90 530.4 298.2)">0.2</text>
<line x1="588.6" y1="324.8" x2="588.6" y2="327.7" stroke="#555" stroke-width="0.7"/>
<text x="588.6" y="336.8" font-size="7.4" text-anchor="middle" fill="#4a4a4a" stroke="#4a4a4a" stroke-width="0.15">0.4</text>
<line x1="534.0" y1="278.0" x2="536.0" y2="278.0" stroke="#555" stroke-width="0.7"/>
<text x="530.4" y="276.5" font-size="7.4" text-anchor="middle" fill="#4a4a4a" stroke="#4a4a4a" stroke-width="0.15" transform="rotate(-90 530.4 276.5)">0.4</text>
<line x1="612.7" y1="324.8" x2="612.7" y2="327.7" stroke="#555" stroke-width="0.7"/>
<text x="612.7" y="336.8" font-size="7.4" text-anchor="middle" fill="#4a4a4a" stroke="#4a4a4a" stroke-width="0.15">0.6</text>
<line x1="534.0" y1="256.3" x2="536.0" y2="256.3" stroke="#555" stroke-width="0.7"/>
<text x="530.4" y="254.8" font-size="7.4" text-anchor="middle" fill="#4a4a4a" stroke="#4a4a4a" stroke-width="0.15" transform="rotate(-90 530.4 254.8)">0.6</text>
<line x1="636.8" y1="324.8" x2="636.8" y2="327.7" stroke="#555" stroke-width="0.7"/>
<text x="636.8" y="336.8" font-size="7.4" text-anchor="middle" fill="#4a4a4a" stroke="#4a4a4a" stroke-width="0.15">0.8</text>
<line x1="534.0" y1="234.6" x2="536.0" y2="234.6" stroke="#555" stroke-width="0.7"/>
<text x="530.4" y="233.1" font-size="7.4" text-anchor="middle" fill="#4a4a4a" stroke="#4a4a4a" stroke-width="0.15" transform="rotate(-90 530.4 233.1)">0.8</text>
<line x1="660.9" y1="324.8" x2="660.9" y2="327.7" stroke="#555" stroke-width="0.7"/>
<text x="660.9" y="336.8" font-size="7.4" text-anchor="middle" fill="#4a4a4a" stroke="#4a4a4a" stroke-width="0.15">1.0</text>
<line x1="534.0" y1="212.9" x2="536.0" y2="212.9" stroke="#555" stroke-width="0.7"/>
<text x="530.4" y="211.4" font-size="7.4" text-anchor="middle" fill="#4a4a4a" stroke="#4a4a4a" stroke-width="0.15" transform="rotate(-90 530.4 211.4)">1.0</text>
<text x="603.7" y="344.5" font-size="7.4" text-anchor="middle" fill="#222" stroke="#222" stroke-width="0.15">1-Specificity (False positive rate)</text>
<text x="520.2" y="267.6" font-size="7.55" text-anchor="middle" fill="#222" stroke="#222" stroke-width="0.15" transform="rotate(-90 520.2 267.6)">Sensitivity (True positive rate)</text>
<text x="550.2" y="233.9" font-size="7.4" text-anchor="start" fill="#222" stroke="#222" stroke-width="0.15">Permutation test</text>
<text x="610.1" y="287.7" font-size="7.4" fill="#222" stroke="#222" stroke-width="0.15"><tspan font-style="italic">P</tspan> = 0.03</text>
</svg></body></html>
